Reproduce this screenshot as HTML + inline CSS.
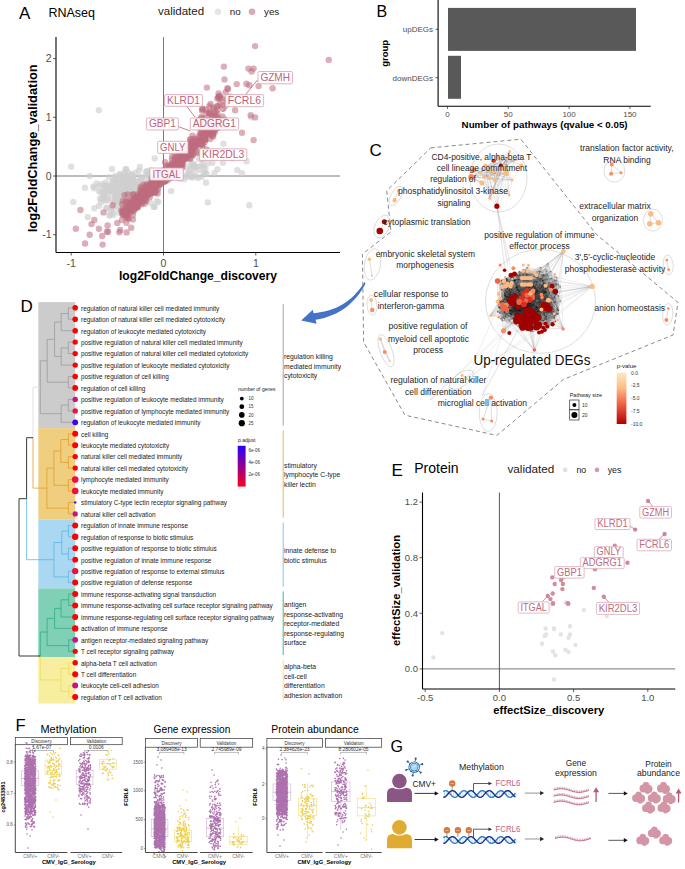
<!DOCTYPE html>
<html><head><meta charset="utf-8"><title>Figure</title>
<style>html,body{margin:0;padding:0;background:#fff;} svg{display:block;} text{font-family:"Liberation Sans", sans-serif;}</style>
</head><body>
<svg width="685" height="869" viewBox="0 0 685 869" font-family='"Liberation Sans", sans-serif'>
<rect width="685" height="869" fill="#fff"/>
<text x="19.0" y="19.0" font-size="17" fill="#000" text-anchor="start" >A</text>
<text x="48.5" y="17.4" font-size="13.5" fill="#000" text-anchor="start" textLength="46.5" lengthAdjust="spacingAndGlyphs" >RNAseq</text>
<text x="158.0" y="15.0" font-size="11.5" fill="#222" text-anchor="start" >validated</text>
<circle cx="218.0" cy="11.7" r="3.3" fill="#e6e6e6" />
<text x="229.7" y="15.3" font-size="9.8" fill="#222" text-anchor="start" >no</text>
<circle cx="252.0" cy="11.7" r="3.3" fill="#dcaab5" />
<text x="264.0" y="15.3" font-size="9.8" fill="#222" text-anchor="start" >yes</text>
<line x1="56.0" y1="176.0" x2="340.0" y2="176.0" stroke="#555" stroke-width="0.8" />
<line x1="163.5" y1="37.0" x2="163.5" y2="252.5" stroke="#555" stroke-width="0.8" />
<g fill="#cfcfcf" fill-opacity="0.65">
<circle cx="128.0" cy="176.1" r="3.2"/>
<circle cx="112.8" cy="182.1" r="3.2"/>
<circle cx="122.8" cy="192.4" r="3.2"/>
<circle cx="154.6" cy="181.1" r="3.2"/>
<circle cx="125.9" cy="181.8" r="3.2"/>
<circle cx="143.2" cy="185.5" r="3.2"/>
<circle cx="135.3" cy="196.7" r="3.2"/>
<circle cx="121.2" cy="194.5" r="3.2"/>
<circle cx="106.9" cy="208.3" r="3.2"/>
<circle cx="102.6" cy="196.6" r="3.2"/>
<circle cx="124.0" cy="192.7" r="3.2"/>
<circle cx="127.6" cy="202.0" r="3.2"/>
<circle cx="125.4" cy="186.8" r="3.2"/>
<circle cx="137.7" cy="194.9" r="3.2"/>
<circle cx="120.7" cy="210.3" r="3.2"/>
<circle cx="119.1" cy="212.5" r="3.2"/>
<circle cx="105.6" cy="182.6" r="3.2"/>
<circle cx="94.1" cy="188.2" r="3.2"/>
<circle cx="131.4" cy="191.0" r="3.2"/>
<circle cx="133.4" cy="182.1" r="3.2"/>
<circle cx="142.0" cy="187.8" r="3.2"/>
<circle cx="117.8" cy="196.9" r="3.2"/>
<circle cx="112.0" cy="192.6" r="3.2"/>
<circle cx="115.0" cy="180.8" r="3.2"/>
<circle cx="99.0" cy="206.0" r="3.2"/>
<circle cx="112.5" cy="212.9" r="3.2"/>
<circle cx="154.7" cy="206.7" r="3.2"/>
<circle cx="122.4" cy="195.1" r="3.2"/>
<circle cx="151.0" cy="203.3" r="3.2"/>
<circle cx="142.4" cy="192.7" r="3.2"/>
<circle cx="124.3" cy="196.1" r="3.2"/>
<circle cx="136.0" cy="198.2" r="3.2"/>
<circle cx="125.4" cy="185.6" r="3.2"/>
<circle cx="153.8" cy="206.9" r="3.2"/>
<circle cx="149.1" cy="174.4" r="3.2"/>
<circle cx="119.4" cy="187.5" r="3.2"/>
<circle cx="119.7" cy="174.0" r="3.2"/>
<circle cx="129.7" cy="190.4" r="3.2"/>
<circle cx="123.2" cy="191.7" r="3.2"/>
<circle cx="124.0" cy="198.3" r="3.2"/>
<circle cx="157.0" cy="201.2" r="3.2"/>
<circle cx="73.3" cy="202.0" r="3.2"/>
<circle cx="124.4" cy="185.7" r="3.2"/>
<circle cx="123.6" cy="191.1" r="3.2"/>
<circle cx="131.5" cy="178.2" r="3.2"/>
<circle cx="120.0" cy="194.1" r="3.2"/>
<circle cx="155.2" cy="177.2" r="3.2"/>
<circle cx="112.0" cy="169.0" r="3.2"/>
<circle cx="138.0" cy="192.2" r="3.2"/>
<circle cx="109.2" cy="189.8" r="3.2"/>
<circle cx="114.3" cy="202.2" r="3.2"/>
<circle cx="107.4" cy="198.2" r="3.2"/>
<circle cx="142.9" cy="189.6" r="3.2"/>
<circle cx="105.2" cy="187.0" r="3.2"/>
<circle cx="127.6" cy="180.3" r="3.2"/>
<circle cx="144.3" cy="186.6" r="3.2"/>
<circle cx="124.4" cy="189.8" r="3.2"/>
<circle cx="109.8" cy="186.0" r="3.2"/>
<circle cx="146.8" cy="182.7" r="3.2"/>
<circle cx="123.1" cy="192.3" r="3.2"/>
<circle cx="115.1" cy="199.5" r="3.2"/>
<circle cx="120.7" cy="198.6" r="3.2"/>
<circle cx="120.1" cy="206.1" r="3.2"/>
<circle cx="131.8" cy="187.3" r="3.2"/>
<circle cx="109.6" cy="215.6" r="3.2"/>
<circle cx="126.5" cy="177.9" r="3.2"/>
<circle cx="115.7" cy="196.1" r="3.2"/>
<circle cx="118.2" cy="184.3" r="3.2"/>
<circle cx="113.1" cy="182.1" r="3.2"/>
<circle cx="122.1" cy="180.7" r="3.2"/>
<circle cx="127.1" cy="191.1" r="3.2"/>
<circle cx="104.7" cy="200.6" r="3.2"/>
<circle cx="122.7" cy="183.2" r="3.2"/>
<circle cx="130.2" cy="195.1" r="3.2"/>
<circle cx="132.6" cy="177.7" r="3.2"/>
<circle cx="124.4" cy="193.8" r="3.2"/>
<circle cx="120.8" cy="182.1" r="3.2"/>
<circle cx="134.5" cy="196.4" r="3.2"/>
<circle cx="132.1" cy="192.5" r="3.2"/>
<circle cx="115.5" cy="179.0" r="3.2"/>
<circle cx="138.7" cy="193.4" r="3.2"/>
<circle cx="127.8" cy="183.6" r="3.2"/>
<circle cx="117.1" cy="192.2" r="3.2"/>
<circle cx="136.4" cy="204.6" r="3.2"/>
<circle cx="131.4" cy="180.5" r="3.2"/>
<circle cx="134.0" cy="200.6" r="3.2"/>
<circle cx="131.3" cy="196.5" r="3.2"/>
<circle cx="135.0" cy="181.0" r="3.2"/>
<circle cx="129.8" cy="195.8" r="3.2"/>
<circle cx="117.9" cy="182.3" r="3.2"/>
<circle cx="113.3" cy="186.9" r="3.2"/>
<circle cx="134.1" cy="190.0" r="3.2"/>
<circle cx="161.9" cy="180.3" r="3.2"/>
<circle cx="158.3" cy="202.0" r="3.2"/>
<circle cx="93.4" cy="186.5" r="3.2"/>
<circle cx="136.0" cy="189.9" r="3.2"/>
<circle cx="125.8" cy="208.1" r="3.2"/>
<circle cx="117.3" cy="201.3" r="3.2"/>
<circle cx="123.3" cy="180.8" r="3.2"/>
<circle cx="127.4" cy="185.0" r="3.2"/>
<circle cx="116.3" cy="195.5" r="3.2"/>
<circle cx="128.2" cy="191.4" r="3.2"/>
<circle cx="145.3" cy="193.5" r="3.2"/>
<circle cx="154.5" cy="192.5" r="3.2"/>
<circle cx="142.2" cy="193.1" r="3.2"/>
<circle cx="150.9" cy="182.1" r="3.2"/>
<circle cx="132.5" cy="180.2" r="3.2"/>
<circle cx="117.2" cy="201.4" r="3.2"/>
<circle cx="96.7" cy="183.4" r="3.2"/>
<circle cx="116.3" cy="197.1" r="3.2"/>
<circle cx="126.1" cy="169.2" r="3.2"/>
<circle cx="101.1" cy="192.1" r="3.2"/>
<circle cx="120.7" cy="184.9" r="3.2"/>
<circle cx="100.0" cy="198.8" r="3.2"/>
<circle cx="139.0" cy="170.6" r="3.2"/>
<circle cx="150.2" cy="192.2" r="3.2"/>
<circle cx="127.4" cy="189.8" r="3.2"/>
<circle cx="106.3" cy="207.8" r="3.2"/>
<circle cx="137.8" cy="184.0" r="3.2"/>
<circle cx="124.5" cy="177.3" r="3.2"/>
<circle cx="111.8" cy="187.0" r="3.2"/>
<circle cx="126.7" cy="189.5" r="3.2"/>
<circle cx="133.8" cy="185.5" r="3.2"/>
<circle cx="130.5" cy="185.4" r="3.2"/>
<circle cx="155.2" cy="185.6" r="3.2"/>
<circle cx="141.5" cy="179.5" r="3.2"/>
<circle cx="121.4" cy="182.1" r="3.2"/>
<circle cx="113.9" cy="180.2" r="3.2"/>
<circle cx="114.6" cy="196.5" r="3.2"/>
<circle cx="131.4" cy="179.5" r="3.2"/>
<circle cx="140.0" cy="177.0" r="3.2"/>
<circle cx="123.5" cy="199.1" r="3.2"/>
<circle cx="134.7" cy="184.1" r="3.2"/>
<circle cx="112.5" cy="182.3" r="3.2"/>
<circle cx="129.5" cy="197.8" r="3.2"/>
<circle cx="133.1" cy="200.7" r="3.2"/>
<circle cx="113.6" cy="187.8" r="3.2"/>
<circle cx="103.6" cy="193.7" r="3.2"/>
<circle cx="106.6" cy="186.0" r="3.2"/>
<circle cx="115.8" cy="189.5" r="3.2"/>
<circle cx="104.4" cy="197.3" r="3.2"/>
<circle cx="140.6" cy="181.2" r="3.2"/>
<circle cx="99.4" cy="185.7" r="3.2"/>
<circle cx="139.8" cy="189.7" r="3.2"/>
<circle cx="147.5" cy="194.8" r="3.2"/>
<circle cx="125.3" cy="178.1" r="3.2"/>
<circle cx="145.9" cy="171.8" r="3.2"/>
<circle cx="110.4" cy="210.3" r="3.2"/>
<circle cx="132.4" cy="201.9" r="3.2"/>
<circle cx="124.6" cy="202.1" r="3.2"/>
<circle cx="142.3" cy="177.4" r="3.2"/>
<circle cx="134.8" cy="186.9" r="3.2"/>
<circle cx="127.3" cy="191.7" r="3.2"/>
<circle cx="132.2" cy="185.2" r="3.2"/>
<circle cx="133.4" cy="191.7" r="3.2"/>
<circle cx="154.6" cy="179.9" r="3.2"/>
<circle cx="147.2" cy="171.1" r="3.2"/>
<circle cx="113.6" cy="208.6" r="3.2"/>
<circle cx="145.1" cy="188.6" r="3.2"/>
<circle cx="127.8" cy="191.2" r="3.2"/>
<circle cx="128.5" cy="200.4" r="3.2"/>
<circle cx="125.1" cy="193.9" r="3.2"/>
<circle cx="126.4" cy="212.3" r="3.2"/>
<circle cx="138.7" cy="182.9" r="3.2"/>
<circle cx="101.1" cy="201.9" r="3.2"/>
<circle cx="127.0" cy="182.5" r="3.2"/>
<circle cx="126.6" cy="175.1" r="3.2"/>
<circle cx="126.9" cy="198.8" r="3.2"/>
<circle cx="116.6" cy="183.7" r="3.2"/>
<circle cx="117.5" cy="182.5" r="3.2"/>
<circle cx="141.6" cy="179.7" r="3.2"/>
<circle cx="141.6" cy="187.3" r="3.2"/>
<circle cx="126.4" cy="194.9" r="3.2"/>
<circle cx="117.6" cy="206.5" r="3.2"/>
<circle cx="118.4" cy="201.4" r="3.2"/>
<circle cx="105.5" cy="192.1" r="3.2"/>
<circle cx="133.3" cy="190.8" r="3.2"/>
<circle cx="146.8" cy="175.0" r="3.2"/>
<circle cx="142.0" cy="191.5" r="3.2"/>
<circle cx="104.5" cy="188.3" r="3.2"/>
<circle cx="131.1" cy="180.7" r="3.2"/>
<circle cx="132.7" cy="175.0" r="3.2"/>
<circle cx="122.3" cy="183.2" r="3.2"/>
<circle cx="113.4" cy="214.9" r="3.2"/>
<circle cx="120.0" cy="175.4" r="3.2"/>
<circle cx="101.8" cy="184.3" r="3.2"/>
<circle cx="116.5" cy="195.1" r="3.2"/>
<circle cx="127.2" cy="186.7" r="3.2"/>
<circle cx="112.2" cy="190.9" r="3.2"/>
<circle cx="133.1" cy="179.1" r="3.2"/>
<circle cx="115.4" cy="175.9" r="3.2"/>
<circle cx="154.7" cy="158.5" r="3.2"/>
<circle cx="106.8" cy="191.6" r="3.2"/>
<circle cx="99.1" cy="191.3" r="3.2"/>
<circle cx="134.8" cy="198.6" r="3.2"/>
<circle cx="103.2" cy="192.3" r="3.2"/>
<circle cx="135.9" cy="194.8" r="3.2"/>
<circle cx="122.7" cy="215.0" r="3.2"/>
<circle cx="116.1" cy="189.8" r="3.2"/>
<circle cx="128.8" cy="172.6" r="3.2"/>
<circle cx="109.7" cy="215.1" r="3.2"/>
<circle cx="133.3" cy="193.3" r="3.2"/>
<circle cx="130.8" cy="180.8" r="3.2"/>
<circle cx="135.4" cy="172.6" r="3.2"/>
<circle cx="146.6" cy="201.1" r="3.2"/>
<circle cx="125.7" cy="169.2" r="3.2"/>
<circle cx="120.6" cy="180.6" r="3.2"/>
<circle cx="125.8" cy="193.3" r="3.2"/>
<circle cx="150.0" cy="173.3" r="3.2"/>
<circle cx="123.0" cy="180.7" r="3.2"/>
<circle cx="107.2" cy="200.5" r="3.2"/>
<circle cx="139.9" cy="185.6" r="3.2"/>
<circle cx="110.9" cy="187.9" r="3.2"/>
<circle cx="131.4" cy="175.0" r="3.2"/>
<circle cx="140.7" cy="188.5" r="3.2"/>
<circle cx="119.4" cy="191.9" r="3.2"/>
<circle cx="123.2" cy="175.1" r="3.2"/>
<circle cx="150.0" cy="170.2" r="3.2"/>
<circle cx="132.2" cy="190.1" r="3.2"/>
<circle cx="139.9" cy="189.4" r="3.2"/>
<circle cx="130.1" cy="204.8" r="3.2"/>
<circle cx="120.3" cy="175.9" r="3.2"/>
<circle cx="111.4" cy="207.2" r="3.2"/>
<circle cx="124.2" cy="172.8" r="3.2"/>
<circle cx="148.0" cy="187.7" r="3.2"/>
<circle cx="119.5" cy="191.6" r="3.2"/>
<circle cx="112.8" cy="191.6" r="3.2"/>
<circle cx="122.1" cy="204.6" r="3.2"/>
<circle cx="118.0" cy="193.4" r="3.2"/>
<circle cx="113.9" cy="202.9" r="3.2"/>
<circle cx="139.9" cy="167.0" r="3.2"/>
<circle cx="122.3" cy="194.1" r="3.2"/>
<circle cx="134.0" cy="189.6" r="3.2"/>
<circle cx="115.0" cy="177.6" r="3.2"/>
<circle cx="111.2" cy="199.6" r="3.2"/>
<circle cx="116.8" cy="199.9" r="3.2"/>
<circle cx="123.1" cy="184.0" r="3.2"/>
<circle cx="147.9" cy="177.6" r="3.2"/>
<circle cx="127.1" cy="201.3" r="3.2"/>
<circle cx="125.7" cy="198.5" r="3.2"/>
<circle cx="125.1" cy="179.5" r="3.2"/>
<circle cx="129.6" cy="190.3" r="3.2"/>
<circle cx="115.5" cy="191.6" r="3.2"/>
<circle cx="128.2" cy="197.8" r="3.2"/>
<circle cx="119.1" cy="181.8" r="3.2"/>
<circle cx="102.1" cy="198.8" r="3.2"/>
<circle cx="109.3" cy="177.3" r="3.2"/>
<circle cx="135.5" cy="181.8" r="3.2"/>
<circle cx="132.4" cy="184.8" r="3.2"/>
<circle cx="130.9" cy="203.8" r="3.2"/>
<circle cx="130.4" cy="182.1" r="3.2"/>
<circle cx="105.5" cy="185.4" r="3.2"/>
<circle cx="136.4" cy="201.9" r="3.2"/>
<circle cx="119.6" cy="193.5" r="3.2"/>
<circle cx="118.8" cy="186.7" r="3.2"/>
<circle cx="107.7" cy="195.3" r="3.2"/>
<circle cx="129.9" cy="180.9" r="3.2"/>
<circle cx="127.3" cy="191.2" r="3.2"/>
<circle cx="136.8" cy="206.5" r="3.2"/>
<circle cx="140.4" cy="188.9" r="3.2"/>
<circle cx="168.1" cy="176.6" r="3.2"/>
<circle cx="157.3" cy="191.0" r="3.2"/>
<circle cx="185.2" cy="176.0" r="3.2"/>
<circle cx="204.7" cy="173.1" r="3.2"/>
<circle cx="167.3" cy="180.8" r="3.2"/>
<circle cx="222.9" cy="162.7" r="3.2"/>
<circle cx="179.9" cy="178.7" r="3.2"/>
<circle cx="170.9" cy="174.1" r="3.2"/>
<circle cx="199.1" cy="158.7" r="3.2"/>
<circle cx="212.4" cy="162.8" r="3.2"/>
<circle cx="179.0" cy="177.8" r="3.2"/>
<circle cx="148.5" cy="184.9" r="3.2"/>
<circle cx="198.9" cy="170.1" r="3.2"/>
<circle cx="198.0" cy="177.9" r="3.2"/>
<circle cx="207.8" cy="163.5" r="3.2"/>
<circle cx="192.0" cy="165.8" r="3.2"/>
<circle cx="149.9" cy="181.1" r="3.2"/>
<circle cx="174.6" cy="158.3" r="3.2"/>
<circle cx="187.8" cy="173.5" r="3.2"/>
<circle cx="206.9" cy="174.0" r="3.2"/>
<circle cx="217.4" cy="169.3" r="3.2"/>
<circle cx="190.1" cy="176.2" r="3.2"/>
<circle cx="206.1" cy="182.7" r="3.2"/>
<circle cx="203.9" cy="172.8" r="3.2"/>
<circle cx="192.1" cy="177.6" r="3.2"/>
<circle cx="195.4" cy="166.7" r="3.2"/>
<circle cx="202.1" cy="164.5" r="3.2"/>
<circle cx="202.7" cy="159.2" r="3.2"/>
<circle cx="184.0" cy="179.3" r="3.2"/>
<circle cx="167.6" cy="168.3" r="3.2"/>
<circle cx="184.2" cy="162.3" r="3.2"/>
<circle cx="192.0" cy="176.5" r="3.2"/>
<circle cx="207.9" cy="150.9" r="3.2"/>
<circle cx="187.8" cy="176.8" r="3.2"/>
<circle cx="175.6" cy="165.1" r="3.2"/>
<circle cx="180.4" cy="174.1" r="3.2"/>
<circle cx="203.8" cy="166.5" r="3.2"/>
<circle cx="193.3" cy="172.7" r="3.2"/>
<circle cx="179.4" cy="170.0" r="3.2"/>
<circle cx="194.0" cy="163.9" r="3.2"/>
<circle cx="182.0" cy="168.1" r="3.2"/>
<circle cx="200.0" cy="166.6" r="3.2"/>
<circle cx="201.7" cy="159.2" r="3.2"/>
<circle cx="194.8" cy="167.7" r="3.2"/>
<circle cx="173.3" cy="169.9" r="3.2"/>
<circle cx="189.5" cy="171.7" r="3.2"/>
<circle cx="176.0" cy="167.5" r="3.2"/>
<circle cx="238.4" cy="156.6" r="3.2"/>
<circle cx="192.8" cy="165.3" r="3.2"/>
<circle cx="180.3" cy="170.3" r="3.2"/>
<circle cx="179.0" cy="176.2" r="3.2"/>
<circle cx="195.5" cy="166.4" r="3.2"/>
<circle cx="189.1" cy="175.4" r="3.2"/>
<circle cx="196.1" cy="176.3" r="3.2"/>
<circle cx="205.4" cy="168.9" r="3.2"/>
<circle cx="191.2" cy="163.0" r="3.2"/>
<circle cx="201.5" cy="176.9" r="3.2"/>
<circle cx="186.6" cy="167.0" r="3.2"/>
<circle cx="171.1" cy="191.1" r="3.2"/>
<circle cx="189.9" cy="169.6" r="3.2"/>
<circle cx="71.2" cy="166.6" r="3.2"/>
<circle cx="98.9" cy="110.3" r="3.2"/>
<circle cx="207.8" cy="202.4" r="3.2"/>
<circle cx="249.3" cy="205.3" r="3.2"/>
<circle cx="232.7" cy="158.4" r="3.2"/>
<circle cx="251.2" cy="117.3" r="3.2"/>
<circle cx="218.9" cy="152.5" r="3.2"/>
<circle cx="85.0" cy="187.7" r="3.2"/>
<circle cx="89.7" cy="176.0" r="3.2"/>
<circle cx="237.3" cy="170.1" r="3.2"/>
<circle cx="246.6" cy="161.3" r="3.2"/>
<circle cx="242.0" cy="173.1" r="3.2"/>
<circle cx="214.3" cy="173.1" r="3.2"/>
<circle cx="223.5" cy="143.7" r="3.2"/>
<circle cx="94.3" cy="208.3" r="3.2"/>
<circle cx="87.8" cy="217.1" r="3.2"/>
</g>
<g fill="#bd6c7e" fill-opacity="0.55">
<circle cx="127.2" cy="210.4" r="3.2"/>
<circle cx="129.7" cy="209.5" r="3.2"/>
<circle cx="160.9" cy="174.8" r="3.2"/>
<circle cx="144.7" cy="203.5" r="3.2"/>
<circle cx="162.5" cy="179.4" r="3.2"/>
<circle cx="148.7" cy="192.1" r="3.2"/>
<circle cx="136.6" cy="204.2" r="3.2"/>
<circle cx="137.5" cy="194.4" r="3.2"/>
<circle cx="161.8" cy="176.7" r="3.2"/>
<circle cx="154.2" cy="190.3" r="3.2"/>
<circle cx="157.9" cy="178.5" r="3.2"/>
<circle cx="134.0" cy="209.5" r="3.2"/>
<circle cx="136.9" cy="198.0" r="3.2"/>
<circle cx="147.0" cy="194.7" r="3.2"/>
<circle cx="145.5" cy="191.3" r="3.2"/>
<circle cx="121.3" cy="210.6" r="3.2"/>
<circle cx="151.9" cy="187.8" r="3.2"/>
<circle cx="153.3" cy="187.5" r="3.2"/>
<circle cx="152.5" cy="180.6" r="3.2"/>
<circle cx="151.2" cy="184.8" r="3.2"/>
<circle cx="122.3" cy="203.9" r="3.2"/>
<circle cx="127.6" cy="210.2" r="3.2"/>
<circle cx="126.7" cy="212.8" r="3.2"/>
<circle cx="128.7" cy="206.0" r="3.2"/>
<circle cx="148.8" cy="192.2" r="3.2"/>
<circle cx="162.0" cy="175.9" r="3.2"/>
<circle cx="141.3" cy="203.0" r="3.2"/>
<circle cx="153.0" cy="185.6" r="3.2"/>
<circle cx="135.7" cy="203.0" r="3.2"/>
<circle cx="135.6" cy="207.3" r="3.2"/>
<circle cx="133.1" cy="207.0" r="3.2"/>
<circle cx="143.2" cy="190.1" r="3.2"/>
<circle cx="145.3" cy="195.5" r="3.2"/>
<circle cx="155.7" cy="179.4" r="3.2"/>
<circle cx="145.4" cy="192.9" r="3.2"/>
<circle cx="147.9" cy="194.1" r="3.2"/>
<circle cx="141.1" cy="192.8" r="3.2"/>
<circle cx="126.0" cy="206.1" r="3.2"/>
<circle cx="123.5" cy="212.8" r="3.2"/>
<circle cx="138.6" cy="202.0" r="3.2"/>
<circle cx="127.8" cy="194.5" r="3.2"/>
<circle cx="136.4" cy="200.5" r="3.2"/>
<circle cx="136.0" cy="197.2" r="3.2"/>
<circle cx="157.6" cy="193.5" r="3.2"/>
<circle cx="150.8" cy="193.1" r="3.2"/>
<circle cx="145.9" cy="200.7" r="3.2"/>
<circle cx="156.2" cy="179.1" r="3.2"/>
<circle cx="145.9" cy="198.8" r="3.2"/>
<circle cx="137.3" cy="203.7" r="3.2"/>
<circle cx="128.0" cy="213.2" r="3.2"/>
<circle cx="143.9" cy="195.4" r="3.2"/>
<circle cx="152.5" cy="183.7" r="3.2"/>
<circle cx="137.6" cy="207.1" r="3.2"/>
<circle cx="137.3" cy="200.9" r="3.2"/>
<circle cx="141.6" cy="197.5" r="3.2"/>
<circle cx="151.4" cy="193.5" r="3.2"/>
<circle cx="163.6" cy="180.1" r="3.2"/>
<circle cx="129.7" cy="203.0" r="3.2"/>
<circle cx="142.3" cy="195.3" r="3.2"/>
<circle cx="156.4" cy="180.1" r="3.2"/>
<circle cx="159.1" cy="183.8" r="3.2"/>
<circle cx="134.0" cy="205.0" r="3.2"/>
<circle cx="126.6" cy="209.4" r="3.2"/>
<circle cx="132.7" cy="206.3" r="3.2"/>
<circle cx="146.8" cy="184.2" r="3.2"/>
<circle cx="155.1" cy="185.4" r="3.2"/>
<circle cx="134.5" cy="206.1" r="3.2"/>
<circle cx="140.6" cy="199.6" r="3.2"/>
<circle cx="127.5" cy="206.6" r="3.2"/>
<circle cx="153.3" cy="183.7" r="3.2"/>
<circle cx="123.1" cy="208.7" r="3.2"/>
<circle cx="154.3" cy="192.1" r="3.2"/>
<circle cx="137.0" cy="199.2" r="3.2"/>
<circle cx="149.7" cy="185.5" r="3.2"/>
<circle cx="145.3" cy="191.6" r="3.2"/>
<circle cx="122.0" cy="220.0" r="3.2"/>
<circle cx="155.3" cy="180.3" r="3.2"/>
<circle cx="161.3" cy="183.3" r="3.2"/>
<circle cx="138.8" cy="198.6" r="3.2"/>
<circle cx="128.4" cy="218.4" r="3.2"/>
<circle cx="143.4" cy="192.0" r="3.2"/>
<circle cx="142.9" cy="200.6" r="3.2"/>
<circle cx="162.3" cy="177.5" r="3.2"/>
<circle cx="140.2" cy="191.1" r="3.2"/>
<circle cx="159.3" cy="185.4" r="3.2"/>
<circle cx="123.0" cy="214.5" r="3.2"/>
<circle cx="142.4" cy="190.5" r="3.2"/>
<circle cx="162.3" cy="178.7" r="3.2"/>
<circle cx="133.3" cy="200.6" r="3.2"/>
<circle cx="160.0" cy="180.4" r="3.2"/>
<circle cx="160.6" cy="178.3" r="3.2"/>
<circle cx="155.2" cy="181.9" r="3.2"/>
<circle cx="162.8" cy="180.3" r="3.2"/>
<circle cx="139.3" cy="197.2" r="3.2"/>
<circle cx="135.2" cy="204.4" r="3.2"/>
<circle cx="133.8" cy="203.3" r="3.2"/>
<circle cx="144.4" cy="200.9" r="3.2"/>
<circle cx="148.7" cy="191.0" r="3.2"/>
<circle cx="136.4" cy="203.4" r="3.2"/>
<circle cx="132.8" cy="203.2" r="3.2"/>
<circle cx="147.2" cy="193.0" r="3.2"/>
<circle cx="164.4" cy="175.2" r="3.2"/>
<circle cx="135.3" cy="207.0" r="3.2"/>
<circle cx="149.8" cy="189.4" r="3.2"/>
<circle cx="154.2" cy="184.6" r="3.2"/>
<circle cx="156.4" cy="184.6" r="3.2"/>
<circle cx="158.6" cy="179.6" r="3.2"/>
<circle cx="122.9" cy="201.0" r="3.2"/>
<circle cx="136.3" cy="201.5" r="3.2"/>
<circle cx="126.1" cy="200.9" r="3.2"/>
<circle cx="129.8" cy="200.5" r="3.2"/>
<circle cx="164.4" cy="178.1" r="3.2"/>
<circle cx="141.0" cy="201.8" r="3.2"/>
<circle cx="151.1" cy="187.6" r="3.2"/>
<circle cx="137.8" cy="207.4" r="3.2"/>
<circle cx="143.1" cy="192.0" r="3.2"/>
<circle cx="136.7" cy="198.9" r="3.2"/>
<circle cx="127.3" cy="211.3" r="3.2"/>
<circle cx="159.7" cy="177.0" r="3.2"/>
<circle cx="157.5" cy="181.6" r="3.2"/>
<circle cx="139.2" cy="202.1" r="3.2"/>
<circle cx="141.1" cy="199.9" r="3.2"/>
<circle cx="128.4" cy="218.4" r="3.2"/>
<circle cx="161.0" cy="180.6" r="3.2"/>
<circle cx="156.4" cy="184.1" r="3.2"/>
<circle cx="143.6" cy="193.6" r="3.2"/>
<circle cx="134.5" cy="201.7" r="3.2"/>
<circle cx="134.6" cy="197.7" r="3.2"/>
<circle cx="166.6" cy="180.3" r="3.2"/>
<circle cx="154.7" cy="176.4" r="3.2"/>
<circle cx="137.1" cy="200.2" r="3.2"/>
<circle cx="150.4" cy="183.7" r="3.2"/>
<circle cx="138.2" cy="203.9" r="3.2"/>
<circle cx="137.7" cy="197.5" r="3.2"/>
<circle cx="159.3" cy="178.7" r="3.2"/>
<circle cx="150.6" cy="189.8" r="3.2"/>
<circle cx="157.0" cy="184.0" r="3.2"/>
<circle cx="151.6" cy="178.0" r="3.2"/>
<circle cx="139.3" cy="195.5" r="3.2"/>
<circle cx="153.5" cy="179.7" r="3.2"/>
<circle cx="150.2" cy="186.0" r="3.2"/>
<circle cx="141.8" cy="193.2" r="3.2"/>
<circle cx="151.8" cy="192.9" r="3.2"/>
<circle cx="130.7" cy="203.8" r="3.2"/>
<circle cx="148.7" cy="190.3" r="3.2"/>
<circle cx="136.7" cy="200.8" r="3.2"/>
<circle cx="147.9" cy="196.0" r="3.2"/>
<circle cx="155.0" cy="191.9" r="3.2"/>
<circle cx="155.6" cy="179.5" r="3.2"/>
<circle cx="131.1" cy="211.6" r="3.2"/>
<circle cx="144.4" cy="198.1" r="3.2"/>
<circle cx="133.5" cy="211.3" r="3.2"/>
<circle cx="130.3" cy="209.3" r="3.2"/>
<circle cx="125.8" cy="215.2" r="3.2"/>
<circle cx="132.7" cy="200.3" r="3.2"/>
<circle cx="138.5" cy="201.6" r="3.2"/>
<circle cx="147.1" cy="191.9" r="3.2"/>
<circle cx="153.3" cy="187.0" r="3.2"/>
<circle cx="154.2" cy="186.5" r="3.2"/>
<circle cx="122.4" cy="212.0" r="3.2"/>
<circle cx="159.7" cy="183.5" r="3.2"/>
<circle cx="135.9" cy="202.0" r="3.2"/>
<circle cx="131.5" cy="204.8" r="3.2"/>
<circle cx="155.0" cy="189.2" r="3.2"/>
<circle cx="143.6" cy="195.2" r="3.2"/>
<circle cx="128.5" cy="203.2" r="3.2"/>
<circle cx="143.6" cy="184.7" r="3.2"/>
<circle cx="148.1" cy="190.1" r="3.2"/>
<circle cx="137.1" cy="203.7" r="3.2"/>
<circle cx="143.1" cy="196.4" r="3.2"/>
<circle cx="158.1" cy="188.9" r="3.2"/>
<circle cx="152.9" cy="186.0" r="3.2"/>
<circle cx="140.5" cy="195.6" r="3.2"/>
<circle cx="158.7" cy="177.6" r="3.2"/>
<circle cx="164.4" cy="176.3" r="3.2"/>
<circle cx="140.2" cy="196.7" r="3.2"/>
<circle cx="123.6" cy="211.6" r="3.2"/>
<circle cx="157.4" cy="183.8" r="3.2"/>
<circle cx="138.7" cy="197.4" r="3.2"/>
<circle cx="133.9" cy="198.0" r="3.2"/>
<circle cx="139.0" cy="199.3" r="3.2"/>
<circle cx="139.7" cy="198.5" r="3.2"/>
<circle cx="152.0" cy="184.0" r="3.2"/>
<circle cx="149.7" cy="186.8" r="3.2"/>
<circle cx="136.3" cy="200.3" r="3.2"/>
<circle cx="147.7" cy="190.5" r="3.2"/>
<circle cx="156.4" cy="187.8" r="3.2"/>
<circle cx="146.0" cy="185.7" r="3.2"/>
<circle cx="151.5" cy="183.4" r="3.2"/>
<circle cx="157.2" cy="172.0" r="3.2"/>
<circle cx="144.8" cy="191.0" r="3.2"/>
<circle cx="137.2" cy="206.0" r="3.2"/>
<circle cx="123.8" cy="210.7" r="3.2"/>
<circle cx="137.8" cy="197.9" r="3.2"/>
<circle cx="138.2" cy="197.0" r="3.2"/>
<circle cx="156.2" cy="182.8" r="3.2"/>
<circle cx="151.5" cy="187.0" r="3.2"/>
<circle cx="160.9" cy="183.7" r="3.2"/>
<circle cx="164.3" cy="181.5" r="3.2"/>
<circle cx="139.6" cy="202.3" r="3.2"/>
<circle cx="150.8" cy="184.4" r="3.2"/>
<circle cx="146.2" cy="187.9" r="3.2"/>
<circle cx="145.1" cy="192.1" r="3.2"/>
<circle cx="143.9" cy="188.7" r="3.2"/>
<circle cx="129.9" cy="205.2" r="3.2"/>
<circle cx="139.1" cy="199.4" r="3.2"/>
<circle cx="125.1" cy="210.7" r="3.2"/>
<circle cx="144.4" cy="193.8" r="3.2"/>
<circle cx="149.7" cy="197.2" r="3.2"/>
<circle cx="143.5" cy="194.1" r="3.2"/>
<circle cx="132.8" cy="194.6" r="3.2"/>
<circle cx="132.0" cy="210.4" r="3.2"/>
<circle cx="140.6" cy="188.5" r="3.2"/>
<circle cx="129.0" cy="208.6" r="3.2"/>
<circle cx="133.6" cy="194.1" r="3.2"/>
<circle cx="154.1" cy="191.1" r="3.2"/>
<circle cx="127.2" cy="216.5" r="3.2"/>
<circle cx="126.5" cy="202.1" r="3.2"/>
<circle cx="137.2" cy="203.8" r="3.2"/>
<circle cx="149.6" cy="185.9" r="3.2"/>
<circle cx="141.8" cy="204.3" r="3.2"/>
<circle cx="142.8" cy="198.6" r="3.2"/>
<circle cx="155.0" cy="181.2" r="3.2"/>
<circle cx="146.3" cy="191.7" r="3.2"/>
<circle cx="130.0" cy="209.2" r="3.2"/>
<circle cx="147.0" cy="186.5" r="3.2"/>
<circle cx="156.5" cy="185.6" r="3.2"/>
<circle cx="122.4" cy="214.0" r="3.2"/>
<circle cx="160.0" cy="179.2" r="3.2"/>
<circle cx="161.6" cy="181.1" r="3.2"/>
<circle cx="154.6" cy="184.1" r="3.2"/>
<circle cx="148.8" cy="190.5" r="3.2"/>
<circle cx="126.1" cy="214.4" r="3.2"/>
<circle cx="131.0" cy="208.0" r="3.2"/>
<circle cx="152.2" cy="183.4" r="3.2"/>
<circle cx="160.8" cy="179.1" r="3.2"/>
<circle cx="153.4" cy="188.3" r="3.2"/>
<circle cx="151.5" cy="187.7" r="3.2"/>
<circle cx="141.1" cy="186.8" r="3.2"/>
<circle cx="129.4" cy="213.5" r="3.2"/>
<circle cx="151.6" cy="183.2" r="3.2"/>
<circle cx="137.5" cy="197.3" r="3.2"/>
<circle cx="154.0" cy="183.2" r="3.2"/>
<circle cx="142.3" cy="196.5" r="3.2"/>
<circle cx="143.1" cy="194.0" r="3.2"/>
<circle cx="136.3" cy="202.6" r="3.2"/>
<circle cx="138.7" cy="196.4" r="3.2"/>
<circle cx="135.0" cy="209.0" r="3.2"/>
<circle cx="149.5" cy="193.4" r="3.2"/>
<circle cx="140.5" cy="196.7" r="3.2"/>
<circle cx="153.6" cy="185.0" r="3.2"/>
<circle cx="156.7" cy="182.0" r="3.2"/>
<circle cx="148.4" cy="187.6" r="3.2"/>
<circle cx="124.5" cy="195.1" r="3.2"/>
<circle cx="126.4" cy="208.7" r="3.2"/>
<circle cx="136.5" cy="206.2" r="3.2"/>
<circle cx="124.9" cy="212.5" r="3.2"/>
<circle cx="155.4" cy="192.7" r="3.2"/>
<circle cx="125.6" cy="214.7" r="3.2"/>
<circle cx="141.9" cy="193.5" r="3.2"/>
<circle cx="167.7" cy="173.2" r="3.2"/>
<circle cx="225.1" cy="119.6" r="3.2"/>
<circle cx="175.3" cy="166.3" r="3.2"/>
<circle cx="190.7" cy="154.4" r="3.2"/>
<circle cx="200.0" cy="141.5" r="3.2"/>
<circle cx="189.5" cy="151.5" r="3.2"/>
<circle cx="163.0" cy="182.1" r="3.2"/>
<circle cx="182.9" cy="161.1" r="3.2"/>
<circle cx="178.4" cy="157.5" r="3.2"/>
<circle cx="162.8" cy="170.9" r="3.2"/>
<circle cx="172.7" cy="165.4" r="3.2"/>
<circle cx="177.5" cy="165.1" r="3.2"/>
<circle cx="215.9" cy="122.3" r="3.2"/>
<circle cx="180.9" cy="160.6" r="3.2"/>
<circle cx="192.0" cy="148.7" r="3.2"/>
<circle cx="172.3" cy="168.5" r="3.2"/>
<circle cx="188.3" cy="144.7" r="3.2"/>
<circle cx="190.8" cy="145.0" r="3.2"/>
<circle cx="164.2" cy="181.8" r="3.2"/>
<circle cx="180.2" cy="162.9" r="3.2"/>
<circle cx="173.0" cy="165.5" r="3.2"/>
<circle cx="192.1" cy="150.1" r="3.2"/>
<circle cx="167.6" cy="177.4" r="3.2"/>
<circle cx="178.4" cy="159.3" r="3.2"/>
<circle cx="168.6" cy="165.7" r="3.2"/>
<circle cx="203.3" cy="139.9" r="3.2"/>
<circle cx="214.7" cy="132.4" r="3.2"/>
<circle cx="222.4" cy="116.4" r="3.2"/>
<circle cx="216.6" cy="123.2" r="3.2"/>
<circle cx="215.7" cy="116.6" r="3.2"/>
<circle cx="212.9" cy="125.3" r="3.2"/>
<circle cx="174.0" cy="171.3" r="3.2"/>
<circle cx="171.9" cy="159.9" r="3.2"/>
<circle cx="181.3" cy="165.1" r="3.2"/>
<circle cx="172.2" cy="156.4" r="3.2"/>
<circle cx="181.0" cy="160.8" r="3.2"/>
<circle cx="175.2" cy="158.4" r="3.2"/>
<circle cx="175.3" cy="169.2" r="3.2"/>
<circle cx="177.9" cy="159.1" r="3.2"/>
<circle cx="189.4" cy="146.0" r="3.2"/>
<circle cx="180.3" cy="170.7" r="3.2"/>
<circle cx="204.7" cy="137.5" r="3.2"/>
<circle cx="174.8" cy="164.3" r="3.2"/>
<circle cx="223.6" cy="126.2" r="3.2"/>
<circle cx="194.1" cy="146.1" r="3.2"/>
<circle cx="167.1" cy="176.9" r="3.2"/>
<circle cx="178.1" cy="165.0" r="3.2"/>
<circle cx="213.9" cy="120.1" r="3.2"/>
<circle cx="169.6" cy="175.4" r="3.2"/>
<circle cx="177.4" cy="165.0" r="3.2"/>
<circle cx="177.0" cy="163.0" r="3.2"/>
<circle cx="165.9" cy="178.8" r="3.2"/>
<circle cx="169.7" cy="168.8" r="3.2"/>
<circle cx="175.2" cy="163.7" r="3.2"/>
<circle cx="178.1" cy="157.8" r="3.2"/>
<circle cx="201.5" cy="132.3" r="3.2"/>
<circle cx="188.6" cy="151.7" r="3.2"/>
<circle cx="207.7" cy="129.5" r="3.2"/>
<circle cx="190.9" cy="154.0" r="3.2"/>
<circle cx="180.1" cy="159.8" r="3.2"/>
<circle cx="187.9" cy="148.9" r="3.2"/>
<circle cx="181.2" cy="154.1" r="3.2"/>
<circle cx="172.5" cy="169.7" r="3.2"/>
<circle cx="213.9" cy="123.2" r="3.2"/>
<circle cx="177.9" cy="163.6" r="3.2"/>
<circle cx="213.1" cy="136.5" r="3.2"/>
<circle cx="221.9" cy="119.9" r="3.2"/>
<circle cx="167.5" cy="177.1" r="3.2"/>
<circle cx="206.5" cy="149.4" r="3.2"/>
<circle cx="201.8" cy="144.3" r="3.2"/>
<circle cx="167.2" cy="175.3" r="3.2"/>
<circle cx="167.6" cy="176.7" r="3.2"/>
<circle cx="200.3" cy="141.6" r="3.2"/>
<circle cx="205.0" cy="137.7" r="3.2"/>
<circle cx="217.4" cy="118.6" r="3.2"/>
<circle cx="200.2" cy="141.0" r="3.2"/>
<circle cx="202.5" cy="139.6" r="3.2"/>
<circle cx="192.5" cy="150.4" r="3.2"/>
<circle cx="197.4" cy="141.9" r="3.2"/>
<circle cx="181.1" cy="156.1" r="3.2"/>
<circle cx="168.1" cy="178.2" r="3.2"/>
<circle cx="210.8" cy="126.7" r="3.2"/>
<circle cx="172.5" cy="172.8" r="3.2"/>
<circle cx="177.7" cy="159.3" r="3.2"/>
<circle cx="175.5" cy="157.5" r="3.2"/>
<circle cx="205.4" cy="133.4" r="3.2"/>
<circle cx="215.3" cy="129.3" r="3.2"/>
<circle cx="185.7" cy="158.7" r="3.2"/>
<circle cx="174.7" cy="166.1" r="3.2"/>
<circle cx="190.1" cy="139.5" r="3.2"/>
<circle cx="193.7" cy="141.5" r="3.2"/>
<circle cx="192.2" cy="148.7" r="3.2"/>
<circle cx="184.6" cy="150.4" r="3.2"/>
<circle cx="171.9" cy="172.1" r="3.2"/>
<circle cx="213.4" cy="128.1" r="3.2"/>
<circle cx="184.6" cy="157.8" r="3.2"/>
<circle cx="177.4" cy="162.3" r="3.2"/>
<circle cx="194.8" cy="147.5" r="3.2"/>
<circle cx="174.7" cy="169.9" r="3.2"/>
<circle cx="191.4" cy="143.1" r="3.2"/>
<circle cx="208.1" cy="132.5" r="3.2"/>
<circle cx="184.0" cy="155.6" r="3.2"/>
<circle cx="205.7" cy="131.2" r="3.2"/>
<circle cx="193.3" cy="146.5" r="3.2"/>
<circle cx="208.7" cy="129.6" r="3.2"/>
<circle cx="163.1" cy="176.1" r="3.2"/>
<circle cx="190.4" cy="149.6" r="3.2"/>
<circle cx="165.3" cy="174.7" r="3.2"/>
<circle cx="208.9" cy="131.0" r="3.2"/>
<circle cx="200.8" cy="139.9" r="3.2"/>
<circle cx="205.4" cy="124.3" r="3.2"/>
<circle cx="168.5" cy="169.1" r="3.2"/>
<circle cx="212.9" cy="133.2" r="3.2"/>
<circle cx="165.4" cy="168.9" r="3.2"/>
<circle cx="170.0" cy="178.5" r="3.2"/>
<circle cx="214.8" cy="129.0" r="3.2"/>
<circle cx="218.8" cy="118.4" r="3.2"/>
<circle cx="170.2" cy="166.8" r="3.2"/>
<circle cx="166.8" cy="177.3" r="3.2"/>
<circle cx="212.7" cy="133.3" r="3.2"/>
<circle cx="212.4" cy="129.4" r="3.2"/>
<circle cx="177.1" cy="157.6" r="3.2"/>
<circle cx="212.1" cy="136.0" r="3.2"/>
<circle cx="198.5" cy="136.6" r="3.2"/>
<circle cx="205.0" cy="139.6" r="3.2"/>
<circle cx="178.5" cy="162.2" r="3.2"/>
<circle cx="216.8" cy="127.6" r="3.2"/>
<circle cx="188.8" cy="148.7" r="3.2"/>
<circle cx="192.5" cy="155.4" r="3.2"/>
<circle cx="197.6" cy="152.1" r="3.2"/>
<circle cx="172.5" cy="176.4" r="3.2"/>
<circle cx="220.3" cy="123.8" r="3.2"/>
<circle cx="171.0" cy="170.5" r="3.2"/>
<circle cx="199.9" cy="138.9" r="3.2"/>
<circle cx="178.1" cy="153.3" r="3.2"/>
<circle cx="195.9" cy="138.9" r="3.2"/>
<circle cx="182.5" cy="159.3" r="3.2"/>
<circle cx="181.9" cy="165.3" r="3.2"/>
<circle cx="204.3" cy="133.6" r="3.2"/>
<circle cx="204.6" cy="142.3" r="3.2"/>
<circle cx="171.8" cy="172.4" r="3.2"/>
<circle cx="178.5" cy="161.6" r="3.2"/>
<circle cx="197.6" cy="153.0" r="3.2"/>
<circle cx="161.6" cy="176.7" r="3.2"/>
<circle cx="193.3" cy="145.7" r="3.2"/>
<circle cx="165.4" cy="181.0" r="3.2"/>
<circle cx="192.1" cy="142.4" r="3.2"/>
<circle cx="166.1" cy="172.8" r="3.2"/>
<circle cx="217.1" cy="128.1" r="3.2"/>
<circle cx="201.8" cy="133.3" r="3.2"/>
<circle cx="172.9" cy="175.4" r="3.2"/>
<circle cx="209.1" cy="132.5" r="3.2"/>
<circle cx="160.8" cy="178.5" r="3.2"/>
<circle cx="160.3" cy="171.8" r="3.2"/>
<circle cx="194.0" cy="138.6" r="3.2"/>
<circle cx="182.3" cy="162.7" r="3.2"/>
<circle cx="167.2" cy="174.7" r="3.2"/>
<circle cx="174.7" cy="167.8" r="3.2"/>
<circle cx="193.4" cy="153.1" r="3.2"/>
<circle cx="179.9" cy="167.5" r="3.2"/>
<circle cx="191.5" cy="149.5" r="3.2"/>
<circle cx="190.4" cy="158.1" r="3.2"/>
<circle cx="164.2" cy="174.8" r="3.2"/>
<circle cx="207.3" cy="131.6" r="3.2"/>
<circle cx="208.8" cy="126.9" r="3.2"/>
<circle cx="189.9" cy="158.7" r="3.2"/>
<circle cx="172.8" cy="172.0" r="3.2"/>
<circle cx="177.0" cy="166.1" r="3.2"/>
<circle cx="190.4" cy="142.1" r="3.2"/>
<circle cx="170.5" cy="168.5" r="3.2"/>
<circle cx="182.2" cy="163.6" r="3.2"/>
<circle cx="169.9" cy="166.1" r="3.2"/>
<circle cx="176.5" cy="165.6" r="3.2"/>
<circle cx="208.1" cy="133.1" r="3.2"/>
<circle cx="181.5" cy="159.7" r="3.2"/>
<circle cx="197.5" cy="144.1" r="3.2"/>
<circle cx="210.1" cy="139.1" r="3.2"/>
<circle cx="204.4" cy="133.1" r="3.2"/>
<circle cx="197.9" cy="141.1" r="3.2"/>
<circle cx="165.9" cy="175.1" r="3.2"/>
<circle cx="191.4" cy="148.0" r="3.2"/>
<circle cx="192.7" cy="154.9" r="3.2"/>
<circle cx="178.4" cy="173.3" r="3.2"/>
<circle cx="178.8" cy="160.9" r="3.2"/>
<circle cx="214.1" cy="130.6" r="3.2"/>
<circle cx="196.2" cy="144.2" r="3.2"/>
<circle cx="183.6" cy="158.4" r="3.2"/>
<circle cx="223.0" cy="122.8" r="3.2"/>
<circle cx="175.8" cy="172.9" r="3.2"/>
<circle cx="213.4" cy="121.8" r="3.2"/>
<circle cx="177.2" cy="165.5" r="3.2"/>
<circle cx="212.0" cy="128.3" r="3.2"/>
<circle cx="216.3" cy="122.5" r="3.2"/>
<circle cx="177.0" cy="165.3" r="3.2"/>
<circle cx="205.3" cy="139.4" r="3.2"/>
<circle cx="212.8" cy="134.6" r="3.2"/>
<circle cx="181.6" cy="156.9" r="3.2"/>
<circle cx="192.5" cy="143.7" r="3.2"/>
<circle cx="175.0" cy="164.6" r="3.2"/>
<circle cx="197.4" cy="142.0" r="3.2"/>
<circle cx="201.0" cy="135.3" r="3.2"/>
<circle cx="212.9" cy="116.3" r="3.2"/>
<circle cx="198.6" cy="146.6" r="3.2"/>
<circle cx="203.5" cy="138.4" r="3.2"/>
<circle cx="186.8" cy="153.0" r="3.2"/>
<circle cx="202.4" cy="145.6" r="3.2"/>
<circle cx="210.8" cy="128.0" r="3.2"/>
<circle cx="196.4" cy="144.4" r="3.2"/>
<circle cx="173.1" cy="170.7" r="3.2"/>
<circle cx="198.8" cy="141.3" r="3.2"/>
<circle cx="177.4" cy="159.7" r="3.2"/>
<circle cx="191.0" cy="153.0" r="3.2"/>
<circle cx="197.9" cy="142.5" r="3.2"/>
<circle cx="218.9" cy="123.4" r="3.2"/>
<circle cx="194.9" cy="141.4" r="3.2"/>
<circle cx="167.6" cy="167.0" r="3.2"/>
<circle cx="202.6" cy="140.5" r="3.2"/>
<circle cx="165.1" cy="170.4" r="3.2"/>
<circle cx="200.1" cy="133.5" r="3.2"/>
<circle cx="192.4" cy="141.0" r="3.2"/>
<circle cx="164.5" cy="175.9" r="3.2"/>
<circle cx="161.5" cy="175.3" r="3.2"/>
<circle cx="190.8" cy="139.5" r="3.2"/>
<circle cx="206.4" cy="133.9" r="3.2"/>
<circle cx="216.9" cy="121.5" r="3.2"/>
<circle cx="170.2" cy="172.0" r="3.2"/>
<circle cx="179.9" cy="162.5" r="3.2"/>
<circle cx="202.5" cy="144.6" r="3.2"/>
<circle cx="194.6" cy="146.4" r="3.2"/>
<circle cx="194.8" cy="147.2" r="3.2"/>
<circle cx="187.9" cy="155.1" r="3.2"/>
<circle cx="202.4" cy="138.9" r="3.2"/>
<circle cx="175.6" cy="166.3" r="3.2"/>
<circle cx="207.5" cy="132.6" r="3.2"/>
<circle cx="201.7" cy="143.8" r="3.2"/>
<circle cx="182.4" cy="166.9" r="3.2"/>
<circle cx="167.4" cy="170.7" r="3.2"/>
<circle cx="205.4" cy="135.2" r="3.2"/>
<circle cx="169.1" cy="174.9" r="3.2"/>
<circle cx="174.9" cy="160.9" r="3.2"/>
<circle cx="185.7" cy="158.3" r="3.2"/>
<circle cx="188.3" cy="155.6" r="3.2"/>
<circle cx="171.8" cy="172.7" r="3.2"/>
<circle cx="214.6" cy="130.1" r="3.2"/>
<circle cx="183.3" cy="157.5" r="3.2"/>
<circle cx="184.1" cy="153.7" r="3.2"/>
<circle cx="174.1" cy="168.8" r="3.2"/>
<circle cx="189.3" cy="151.8" r="3.2"/>
<circle cx="187.1" cy="150.6" r="3.2"/>
<circle cx="211.5" cy="134.5" r="3.2"/>
<circle cx="176.0" cy="167.4" r="3.2"/>
<circle cx="166.7" cy="175.0" r="3.2"/>
<circle cx="198.7" cy="141.5" r="3.2"/>
<circle cx="165.1" cy="162.2" r="3.2"/>
<circle cx="206.8" cy="135.1" r="3.2"/>
<circle cx="210.4" cy="129.4" r="3.2"/>
<circle cx="207.4" cy="134.3" r="3.2"/>
<circle cx="187.7" cy="156.7" r="3.2"/>
<circle cx="177.7" cy="167.2" r="3.2"/>
<circle cx="224.0" cy="125.3" r="3.2"/>
<circle cx="202.7" cy="134.2" r="3.2"/>
<circle cx="189.6" cy="146.8" r="3.2"/>
<circle cx="179.2" cy="156.0" r="3.2"/>
<circle cx="186.6" cy="154.0" r="3.2"/>
<circle cx="187.9" cy="154.3" r="3.2"/>
<circle cx="166.7" cy="165.5" r="3.2"/>
<circle cx="177.6" cy="166.6" r="3.2"/>
<circle cx="215.0" cy="123.2" r="3.2"/>
<circle cx="170.4" cy="168.8" r="3.2"/>
<circle cx="178.7" cy="160.6" r="3.2"/>
<circle cx="175.0" cy="156.3" r="3.2"/>
<circle cx="161.6" cy="170.9" r="3.2"/>
<circle cx="192.4" cy="135.7" r="3.2"/>
<circle cx="167.8" cy="172.7" r="3.2"/>
<circle cx="186.2" cy="158.0" r="3.2"/>
<circle cx="176.5" cy="165.7" r="3.2"/>
<circle cx="163.3" cy="178.0" r="3.2"/>
<circle cx="192.4" cy="146.7" r="3.2"/>
<circle cx="208.6" cy="128.9" r="3.2"/>
<circle cx="195.7" cy="145.7" r="3.2"/>
<circle cx="171.5" cy="163.9" r="3.2"/>
<circle cx="174.4" cy="167.3" r="3.2"/>
<circle cx="213.1" cy="124.2" r="3.2"/>
<circle cx="167.5" cy="172.7" r="3.2"/>
<circle cx="210.2" cy="125.7" r="3.2"/>
<circle cx="222.6" cy="123.7" r="3.2"/>
<circle cx="172.3" cy="163.1" r="3.2"/>
<circle cx="173.7" cy="163.9" r="3.2"/>
<circle cx="173.9" cy="171.5" r="3.2"/>
<circle cx="181.4" cy="154.5" r="3.2"/>
<circle cx="205.1" cy="139.7" r="3.2"/>
<circle cx="182.4" cy="146.9" r="3.2"/>
<circle cx="204.1" cy="135.4" r="3.2"/>
<circle cx="182.2" cy="154.6" r="3.2"/>
<circle cx="165.1" cy="174.9" r="3.2"/>
<circle cx="202.5" cy="136.2" r="3.2"/>
<circle cx="207.9" cy="131.0" r="3.2"/>
<circle cx="178.7" cy="163.5" r="3.2"/>
<circle cx="218.3" cy="127.8" r="3.2"/>
<circle cx="169.7" cy="168.7" r="3.2"/>
<circle cx="210.3" cy="112.8" r="3.2"/>
<circle cx="213.9" cy="109.5" r="3.2"/>
<circle cx="211.9" cy="116.2" r="3.2"/>
<circle cx="211.0" cy="120.6" r="3.2"/>
<circle cx="217.5" cy="106.0" r="3.2"/>
<circle cx="218.5" cy="97.8" r="3.2"/>
<circle cx="200.2" cy="128.5" r="3.2"/>
<circle cx="204.3" cy="118.3" r="3.2"/>
<circle cx="206.4" cy="113.3" r="3.2"/>
<circle cx="204.6" cy="122.3" r="3.2"/>
<circle cx="207.5" cy="120.5" r="3.2"/>
<circle cx="209.6" cy="113.4" r="3.2"/>
<circle cx="208.7" cy="112.1" r="3.2"/>
<circle cx="217.4" cy="98.4" r="3.2"/>
<circle cx="201.4" cy="124.7" r="3.2"/>
<circle cx="229.3" cy="96.6" r="3.2"/>
<circle cx="228.0" cy="88.9" r="3.2"/>
<circle cx="209.4" cy="106.2" r="3.2"/>
<circle cx="202.1" cy="110.7" r="3.2"/>
<circle cx="223.3" cy="108.7" r="3.2"/>
<circle cx="218.6" cy="96.7" r="3.2"/>
<circle cx="219.8" cy="104.0" r="3.2"/>
<circle cx="219.1" cy="96.3" r="3.2"/>
<circle cx="208.1" cy="123.0" r="3.2"/>
<circle cx="205.1" cy="124.5" r="3.2"/>
<circle cx="209.7" cy="114.8" r="3.2"/>
<circle cx="225.6" cy="92.2" r="3.2"/>
<circle cx="215.4" cy="114.4" r="3.2"/>
<circle cx="220.4" cy="98.8" r="3.2"/>
<circle cx="202.6" cy="109.3" r="3.2"/>
<circle cx="226.9" cy="99.5" r="3.2"/>
<circle cx="204.6" cy="120.8" r="3.2"/>
<circle cx="217.4" cy="114.0" r="3.2"/>
<circle cx="201.6" cy="118.2" r="3.2"/>
<circle cx="226.0" cy="102.7" r="3.2"/>
<circle cx="221.8" cy="98.3" r="3.2"/>
<circle cx="217.6" cy="109.6" r="3.2"/>
<circle cx="213.2" cy="107.6" r="3.2"/>
<circle cx="199.6" cy="122.6" r="3.2"/>
<circle cx="202.3" cy="108.6" r="3.2"/>
<circle cx="201.3" cy="117.3" r="3.2"/>
<circle cx="215.2" cy="111.9" r="3.2"/>
<circle cx="217.0" cy="106.6" r="3.2"/>
<circle cx="222.7" cy="105.2" r="3.2"/>
<circle cx="198.6" cy="120.2" r="3.2"/>
<circle cx="120.2" cy="230.0" r="3.2"/>
<circle cx="106.9" cy="231.8" r="3.2"/>
<circle cx="119.3" cy="232.3" r="3.2"/>
<circle cx="107.6" cy="225.4" r="3.2"/>
<circle cx="102.6" cy="244.6" r="3.2"/>
<circle cx="125.7" cy="217.4" r="3.2"/>
<circle cx="102.2" cy="236.0" r="3.2"/>
<circle cx="132.9" cy="214.9" r="3.2"/>
<circle cx="126.5" cy="222.7" r="3.2"/>
<circle cx="132.9" cy="219.6" r="3.2"/>
<circle cx="255.1" cy="46.1" r="3.2"/>
<circle cx="328.7" cy="59.9" r="3.2"/>
<circle cx="223.9" cy="66.6" r="3.2"/>
<circle cx="248.4" cy="68.6" r="3.2"/>
<circle cx="253.6" cy="68.6" r="3.2"/>
<circle cx="251.6" cy="71.5" r="3.2"/>
<circle cx="224.5" cy="79.4" r="3.2"/>
<circle cx="206.9" cy="87.6" r="3.2"/>
<circle cx="227.4" cy="88.2" r="3.2"/>
<circle cx="236.7" cy="84.1" r="3.2"/>
<circle cx="246.4" cy="83.8" r="3.2"/>
<circle cx="249.3" cy="85.3" r="3.2"/>
<circle cx="258.6" cy="86.1" r="3.2"/>
<circle cx="272.6" cy="88.2" r="3.2"/>
<circle cx="218.6" cy="93.4" r="3.2"/>
<circle cx="220.0" cy="96.4" r="3.2"/>
<circle cx="250.7" cy="115.3" r="3.2"/>
<circle cx="255.1" cy="117.4" r="3.2"/>
<circle cx="242.0" cy="132.8" r="3.2"/>
<circle cx="253.6" cy="140.1" r="3.2"/>
<circle cx="210.6" cy="103.9" r="3.2"/>
<circle cx="205.9" cy="109.5" r="3.2"/>
<circle cx="235.1" cy="110.2" r="3.2"/>
<circle cx="232.0" cy="100.0" r="3.2"/>
<circle cx="228.0" cy="104.0" r="3.2"/>
<circle cx="80.4" cy="210.0" r="3.2"/>
<circle cx="85.0" cy="243.5" r="3.2"/>
<circle cx="94.3" cy="220.0" r="3.2"/>
<circle cx="108.1" cy="231.8" r="3.2"/>
<circle cx="98.9" cy="228.8" r="3.2"/>
<circle cx="103.5" cy="212.4" r="3.2"/>
<circle cx="112.7" cy="205.3" r="3.2"/>
<circle cx="117.3" cy="223.0" r="3.2"/>
<circle cx="91.5" cy="224.1" r="3.2"/>
<circle cx="126.6" cy="232.4" r="3.2"/>
<circle cx="131.2" cy="227.7" r="3.2"/>
<circle cx="75.8" cy="228.8" r="3.2"/>
<circle cx="89.7" cy="234.7" r="3.2"/>
</g>
<line x1="56.0" y1="37.0" x2="56.0" y2="252.5" stroke="#000" stroke-width="1.1" />
<line x1="56.0" y1="252.5" x2="340.0" y2="252.5" stroke="#000" stroke-width="1.1" />
<line x1="53.0" y1="58.6" x2="56.0" y2="58.6" stroke="#333" stroke-width="0.8" />
<text x="51.5" y="62.3" font-size="10.5" fill="#4d4d4d" text-anchor="end" >2</text>
<line x1="53.0" y1="117.3" x2="56.0" y2="117.3" stroke="#333" stroke-width="0.8" />
<text x="51.5" y="121.0" font-size="10.5" fill="#4d4d4d" text-anchor="end" >1</text>
<line x1="53.0" y1="176.0" x2="56.0" y2="176.0" stroke="#333" stroke-width="0.8" />
<text x="51.5" y="179.7" font-size="10.5" fill="#4d4d4d" text-anchor="end" >0</text>
<line x1="53.0" y1="234.7" x2="56.0" y2="234.7" stroke="#333" stroke-width="0.8" />
<text x="51.5" y="238.4" font-size="10.5" fill="#4d4d4d" text-anchor="end" >-1</text>
<line x1="71.2" y1="252.5" x2="71.2" y2="255.5" stroke="#333" stroke-width="0.8" />
<text x="71.2" y="267.0" font-size="10.5" fill="#4d4d4d" text-anchor="middle" >-1</text>
<line x1="163.5" y1="252.5" x2="163.5" y2="255.5" stroke="#333" stroke-width="0.8" />
<text x="163.5" y="267.0" font-size="10.5" fill="#4d4d4d" text-anchor="middle" >0</text>
<line x1="255.8" y1="252.5" x2="255.8" y2="255.5" stroke="#333" stroke-width="0.8" />
<text x="255.8" y="267.0" font-size="10.5" fill="#4d4d4d" text-anchor="middle" >1</text>
<text x="198.0" y="280.0" font-size="12" fill="#000" text-anchor="middle" font-weight="bold" textLength="158" lengthAdjust="spacingAndGlyphs" >log2FoldChange_discovery</text>
<text x="0.0" y="0.0" font-size="13" fill="#000" text-anchor="middle" font-weight="bold" textLength="168" lengthAdjust="spacingAndGlyphs" transform="translate(36.8,148.3) rotate(-90)">log2FoldChange_validation</text>
<line x1="257.5" y1="80.0" x2="245.6" y2="94.6" stroke="#c0607a" stroke-width="0.8" />
<rect x="258.0" y="71.5" width="34.5" height="12.3" rx="1.2" fill="#fff" fill-opacity="0.9" stroke="#d8a0ae" stroke-width="0.8"/>
<text x="275.2" y="81.2" font-size="10.5" fill="#c0607a" text-anchor="middle" textLength="29.5" lengthAdjust="spacingAndGlyphs" >GZMH</text>
<line x1="186.8" y1="106.3" x2="195.0" y2="117.2" stroke="#c0607a" stroke-width="0.8" />
<rect x="164.6" y="94.6" width="37.8" height="11.7" rx="1.2" fill="#fff" fill-opacity="0.9" stroke="#d8a0ae" stroke-width="0.8"/>
<text x="183.5" y="103.7" font-size="10.5" fill="#c0607a" text-anchor="middle" textLength="32.8" lengthAdjust="spacingAndGlyphs" >KLRD1</text>
<line x1="228.0" y1="106.7" x2="222.0" y2="112.0" stroke="#c0607a" stroke-width="0.8" />
<rect x="225.3" y="94.6" width="38.3" height="12.1" rx="1.2" fill="#fff" fill-opacity="0.9" stroke="#d8a0ae" stroke-width="0.8"/>
<text x="244.5" y="104.1" font-size="10.5" fill="#c0607a" text-anchor="middle" textLength="33.3" lengthAdjust="spacingAndGlyphs" >FCRL6</text>
<line x1="178.4" y1="126.6" x2="190.3" y2="131.0" stroke="#c0607a" stroke-width="0.8" />
<rect x="146.4" y="118.0" width="32.0" height="12.0" rx="1.2" fill="#fff" fill-opacity="0.9" stroke="#d8a0ae" stroke-width="0.8"/>
<text x="162.4" y="127.4" font-size="10.5" fill="#c0607a" text-anchor="middle" textLength="27.0" lengthAdjust="spacingAndGlyphs" >GBP1</text>
<rect x="190.3" y="118.0" width="48.3" height="12.0" rx="1.2" fill="#fff" fill-opacity="0.9" stroke="#d8a0ae" stroke-width="0.8"/>
<text x="214.4" y="127.4" font-size="10.5" fill="#c0607a" text-anchor="middle" textLength="43.3" lengthAdjust="spacingAndGlyphs" >ADGRG1</text>
<rect x="157.6" y="141.3" width="30.4" height="12.1" rx="1.2" fill="#fff" fill-opacity="0.9" stroke="#d8a0ae" stroke-width="0.8"/>
<text x="172.8" y="150.8" font-size="10.5" fill="#c0607a" text-anchor="middle" textLength="25.4" lengthAdjust="spacingAndGlyphs" >GNLY</text>
<rect x="199.6" y="148.8" width="47.2" height="11.6" rx="1.2" fill="#fff" fill-opacity="0.9" stroke="#d8a0ae" stroke-width="0.8"/>
<text x="223.2" y="157.8" font-size="10.5" fill="#c0607a" text-anchor="middle" textLength="42.2" lengthAdjust="spacingAndGlyphs" >KIR2DL3</text>
<rect x="149.9" y="168.0" width="33.4" height="12.3" rx="1.2" fill="#fff" fill-opacity="0.9" stroke="#d8a0ae" stroke-width="0.8"/>
<text x="166.6" y="177.7" font-size="10.5" fill="#c0607a" text-anchor="middle" textLength="28.4" lengthAdjust="spacingAndGlyphs" >ITGAL</text>
<text x="376.5" y="16.9" font-size="16" fill="#000" text-anchor="start" >B</text>
<rect x="448" y="7.9" width="188" height="43" fill="#595959"/>
<rect x="448" y="55.8" width="13" height="43" fill="#595959"/>
<line x1="438.1" y1="0.0" x2="438.1" y2="106.2" stroke="#000" stroke-width="1.1" />
<line x1="438.1" y1="106.2" x2="650.7" y2="106.2" stroke="#000" stroke-width="1.1" />
<text x="433.0" y="32.2" font-size="8" fill="#4d4d4d" text-anchor="end" >upDEGs</text>
<text x="433.0" y="80.6" font-size="8" fill="#4d4d4d" text-anchor="end" >downDEGs</text>
<line x1="435.5" y1="29.3" x2="438.1" y2="29.3" stroke="#333" stroke-width="0.8" />
<line x1="435.5" y1="77.7" x2="438.1" y2="77.7" stroke="#333" stroke-width="0.8" />
<line x1="447.5" y1="106.2" x2="447.5" y2="108.8" stroke="#333" stroke-width="0.8" />
<text x="447.5" y="117.2" font-size="8" fill="#4d4d4d" text-anchor="middle" >0</text>
<line x1="508.3" y1="106.2" x2="508.3" y2="108.8" stroke="#333" stroke-width="0.8" />
<text x="508.3" y="117.2" font-size="8" fill="#4d4d4d" text-anchor="middle" >50</text>
<line x1="569.1" y1="106.2" x2="569.1" y2="108.8" stroke="#333" stroke-width="0.8" />
<text x="569.1" y="117.2" font-size="8" fill="#4d4d4d" text-anchor="middle" >100</text>
<line x1="629.9" y1="106.2" x2="629.9" y2="108.8" stroke="#333" stroke-width="0.8" />
<text x="629.9" y="117.2" font-size="8" fill="#4d4d4d" text-anchor="middle" >150</text>
<text x="0.0" y="0.0" font-size="9.5" fill="#000" text-anchor="middle" font-weight="bold" transform="translate(388,53.4) rotate(-90)">group</text>
<text x="544.6" y="128.0" font-size="9.7" fill="#000" text-anchor="middle" font-weight="bold" textLength="166" lengthAdjust="spacingAndGlyphs" >Number of pathways (qvalue &lt; 0.05)</text>
<text x="369.5" y="155.6" font-size="17" fill="#000" text-anchor="start" >C</text>
<polygon points="430.7,147.9 520.8,139.2 597,235 678,302.4 673,335 563.5,379.4 496.9,435.4 405,415.2 363.6,342 362.4,254.1 391,231.8 386.7,190.8" fill="none" stroke="#8a8a8a" stroke-width="1" stroke-dasharray="4,3"/>
<ellipse cx="498.5" cy="178" rx="28.5" ry="34" transform="rotate(0 498.5 178)" fill="none" stroke="#d0d0d0" stroke-width="0.7"/>
<ellipse cx="540.5" cy="301.3" rx="55" ry="52" transform="rotate(0 540.5 301.3)" fill="none" stroke="#d0d0d0" stroke-width="0.7"/>
<ellipse cx="614.4" cy="171" rx="10.5" ry="11" transform="rotate(0 614.4 171)" fill="none" stroke="#d0d0d0" stroke-width="0.7"/>
<ellipse cx="653" cy="220.1" rx="9.5" ry="11" transform="rotate(0 653 220.1)" fill="none" stroke="#d0d0d0" stroke-width="0.7"/>
<ellipse cx="668.2" cy="265" rx="5" ry="10" transform="rotate(-5 668.2 265)" fill="none" stroke="#d0d0d0" stroke-width="0.7"/>
<ellipse cx="667.7" cy="314.4" rx="5" ry="11" transform="rotate(5 667.7 314.4)" fill="none" stroke="#d0d0d0" stroke-width="0.7"/>
<ellipse cx="382" cy="226.5" rx="7" ry="12" transform="rotate(25 382 226.5)" fill="none" stroke="#d0d0d0" stroke-width="0.7"/>
<ellipse cx="396" cy="195.8" rx="5" ry="11" transform="rotate(30 396 195.8)" fill="none" stroke="#d0d0d0" stroke-width="0.7"/>
<ellipse cx="372.5" cy="264.4" rx="8" ry="16" transform="rotate(10 372.5 264.4)" fill="none" stroke="#d0d0d0" stroke-width="0.7"/>
<ellipse cx="372" cy="305.2" rx="5" ry="10" transform="rotate(-5 372 305.2)" fill="none" stroke="#d0d0d0" stroke-width="0.7"/>
<ellipse cx="386" cy="350.7" rx="6" ry="17" transform="rotate(-20 386 350.7)" fill="none" stroke="#d0d0d0" stroke-width="0.7"/>
<ellipse cx="461.4" cy="379.7" rx="14" ry="6.5" transform="rotate(-35 461.4 379.7)" fill="none" stroke="#d0d0d0" stroke-width="0.7"/>
<ellipse cx="488.2" cy="412.5" rx="9" ry="19" transform="rotate(0 488.2 412.5)" fill="none" stroke="#d0d0d0" stroke-width="0.7"/>
<g stroke="#6e6e6e" stroke-opacity="0.25" stroke-width="0.4">
<line x1="479.4" y1="172.4" x2="498.1" y2="157.2"/>
<line x1="479.4" y1="172.4" x2="479.4" y2="172.4"/>
<line x1="473.6" y1="170.0" x2="516.1" y2="159.5"/>
<line x1="489.5" y1="178.2" x2="500.9" y2="165.4"/>
<line x1="473.6" y1="170.0" x2="484.1" y2="177.0"/>
<line x1="501.6" y1="167.7" x2="506.5" y2="158.4"/>
<line x1="500.9" y1="165.4" x2="485.3" y2="165.4"/>
<line x1="479.4" y1="172.4" x2="498.1" y2="172.4"/>
<line x1="493.9" y1="160.7" x2="506.3" y2="173.5"/>
<line x1="498.1" y1="157.2" x2="487.1" y2="170.5"/>
<line x1="501.6" y1="167.7" x2="481.8" y2="182.9"/>
<line x1="506.5" y1="158.4" x2="489.9" y2="198.1"/>
<line x1="479.4" y1="172.4" x2="501.6" y2="167.7"/>
<line x1="512.0" y1="180.0" x2="506.5" y2="158.4"/>
<line x1="501.6" y1="167.7" x2="500.9" y2="165.4"/>
<line x1="506.5" y1="158.4" x2="471.2" y2="177.0"/>
<line x1="473.6" y1="170.0" x2="506.3" y2="173.5"/>
<line x1="481.8" y1="182.9" x2="481.8" y2="182.9"/>
<line x1="489.5" y1="178.2" x2="494.6" y2="179.4"/>
<line x1="506.5" y1="158.4" x2="471.2" y2="177.0"/>
<line x1="479.4" y1="172.4" x2="509.8" y2="151.4"/>
<line x1="479.4" y1="172.4" x2="516.1" y2="159.5"/>
<line x1="489.5" y1="178.2" x2="473.6" y2="170.0"/>
<line x1="494.6" y1="179.4" x2="501.6" y2="167.7"/>
<line x1="498.1" y1="172.4" x2="484.1" y2="177.0"/>
<line x1="471.2" y1="177.0" x2="492.3" y2="191.0"/>
<line x1="506.3" y1="173.5" x2="479.4" y2="172.4"/>
<line x1="501.6" y1="167.7" x2="493.4" y2="171.2"/>
<line x1="509.3" y1="195.3" x2="498.1" y2="157.2"/>
<line x1="506.3" y1="173.5" x2="487.1" y2="170.5"/>
<line x1="493.4" y1="171.2" x2="509.8" y2="151.4"/>
<line x1="494.6" y1="179.4" x2="473.6" y2="170.0"/>
<line x1="498.1" y1="172.4" x2="471.2" y2="177.0"/>
<line x1="506.3" y1="173.5" x2="516.1" y2="159.5"/>
<line x1="485.3" y1="165.4" x2="489.9" y2="198.1"/>
<line x1="485.3" y1="165.4" x2="498.1" y2="172.4"/>
<line x1="489.9" y1="198.1" x2="506.3" y2="173.5"/>
<line x1="471.2" y1="177.0" x2="492.3" y2="191.0"/>
<line x1="471.2" y1="177.0" x2="489.5" y2="178.2"/>
<line x1="489.5" y1="178.2" x2="481.8" y2="182.9"/>
<line x1="484.1" y1="177.0" x2="489.9" y2="198.1"/>
<line x1="487.1" y1="170.5" x2="489.9" y2="198.1"/>
<line x1="509.3" y1="195.3" x2="506.3" y2="173.5"/>
<line x1="516.1" y1="159.5" x2="501.6" y2="167.7"/>
<line x1="489.5" y1="178.2" x2="492.3" y2="191.0"/>
<line x1="493.4" y1="171.2" x2="509.8" y2="151.4"/>
<line x1="506.3" y1="173.5" x2="498.1" y2="172.4"/>
<line x1="509.8" y1="151.4" x2="471.2" y2="177.0"/>
<line x1="509.3" y1="195.3" x2="485.3" y2="165.4"/>
<line x1="493.9" y1="160.7" x2="494.6" y2="179.4"/>
<line x1="487.1" y1="170.5" x2="485.3" y2="165.4"/>
<line x1="471.2" y1="177.0" x2="481.8" y2="182.9"/>
<line x1="479.4" y1="172.4" x2="484.1" y2="177.0"/>
<line x1="500.9" y1="165.4" x2="492.3" y2="191.0"/>
<line x1="498.1" y1="157.2" x2="489.5" y2="178.2"/>
<line x1="479.4" y1="172.4" x2="473.6" y2="170.0"/>
<line x1="489.5" y1="178.2" x2="512.0" y2="180.0"/>
<line x1="493.9" y1="160.7" x2="509.3" y2="195.3"/>
<line x1="501.6" y1="167.7" x2="489.9" y2="198.1"/>
<line x1="485.3" y1="165.4" x2="489.9" y2="198.1"/>
<line x1="509.3" y1="195.3" x2="489.5" y2="178.2"/>
<line x1="471.2" y1="177.0" x2="493.4" y2="171.2"/>
<line x1="516.1" y1="159.5" x2="498.1" y2="172.4"/>
<line x1="471.2" y1="177.0" x2="489.5" y2="178.2"/>
<line x1="500.9" y1="165.4" x2="489.9" y2="198.1"/>
<line x1="506.5" y1="158.4" x2="501.6" y2="167.7"/>
<line x1="516.1" y1="159.5" x2="485.3" y2="165.4"/>
<line x1="481.8" y1="182.9" x2="493.9" y2="160.7"/>
<line x1="489.5" y1="178.2" x2="479.4" y2="172.4"/>
<line x1="493.4" y1="171.2" x2="471.2" y2="177.0"/>
<line x1="506.5" y1="158.4" x2="509.8" y2="151.4"/>
<line x1="498.1" y1="172.4" x2="489.9" y2="198.1"/>
<line x1="506.3" y1="173.5" x2="506.3" y2="173.5"/>
<line x1="506.3" y1="173.5" x2="489.5" y2="178.2"/>
<line x1="516.1" y1="159.5" x2="501.6" y2="167.7"/>
<line x1="494.6" y1="179.4" x2="471.2" y2="177.0"/>
<line x1="506.5" y1="158.4" x2="521.5" y2="165.4"/>
<line x1="521.5" y1="165.4" x2="506.5" y2="158.4"/>
<line x1="479.4" y1="172.4" x2="493.9" y2="160.7"/>
<line x1="516.1" y1="159.5" x2="484.1" y2="177.0"/>
<line x1="516.1" y1="159.5" x2="493.9" y2="160.7"/>
<line x1="489.9" y1="198.1" x2="500.9" y2="165.4"/>
<line x1="501.6" y1="167.7" x2="493.9" y2="160.7"/>
<line x1="498.1" y1="172.4" x2="494.6" y2="179.4"/>
<line x1="506.5" y1="158.4" x2="494.6" y2="179.4"/>
<line x1="512.0" y1="180.0" x2="489.5" y2="178.2"/>
<line x1="500.9" y1="165.4" x2="512.0" y2="180.0"/>
<line x1="501.6" y1="167.7" x2="498.1" y2="157.2"/>
<line x1="489.5" y1="178.2" x2="492.3" y2="191.0"/>
<line x1="489.9" y1="198.1" x2="484.1" y2="177.0"/>
<line x1="506.5" y1="158.4" x2="506.3" y2="173.5"/>
<line x1="509.3" y1="195.3" x2="481.8" y2="182.9"/>
<line x1="485.3" y1="165.4" x2="485.3" y2="165.4"/>
<line x1="481.8" y1="182.9" x2="473.6" y2="170.0"/>
<line x1="493.4" y1="171.2" x2="494.6" y2="179.4"/>
<line x1="512.0" y1="180.0" x2="487.1" y2="170.5"/>
<line x1="489.9" y1="198.1" x2="493.4" y2="171.2"/>
<line x1="509.3" y1="195.3" x2="506.5" y2="158.4"/>
<line x1="484.1" y1="177.0" x2="498.1" y2="172.4"/>
<line x1="473.6" y1="170.0" x2="500.9" y2="165.4"/>
<line x1="512.0" y1="180.0" x2="506.3" y2="173.5"/>
<line x1="493.9" y1="160.7" x2="494.6" y2="179.4"/>
<line x1="484.1" y1="177.0" x2="498.1" y2="157.2"/>
<line x1="501.6" y1="167.7" x2="506.5" y2="158.4"/>
<line x1="506.5" y1="158.4" x2="506.3" y2="173.5"/>
<line x1="493.4" y1="171.2" x2="489.5" y2="178.2"/>
<line x1="489.5" y1="178.2" x2="512.0" y2="180.0"/>
<line x1="471.2" y1="177.0" x2="506.3" y2="173.5"/>
<line x1="493.4" y1="171.2" x2="509.3" y2="195.3"/>
<line x1="479.4" y1="172.4" x2="494.6" y2="179.4"/>
<line x1="481.8" y1="182.9" x2="481.8" y2="182.9"/>
<line x1="500.9" y1="165.4" x2="498.1" y2="172.4"/>
<line x1="521.5" y1="165.4" x2="473.6" y2="170.0"/>
<line x1="516.1" y1="159.5" x2="493.9" y2="160.7"/>
<line x1="506.3" y1="173.5" x2="521.5" y2="165.4"/>
<line x1="493.9" y1="160.7" x2="479.4" y2="172.4"/>
<line x1="509.8" y1="151.4" x2="492.3" y2="191.0"/>
<line x1="512.0" y1="180.0" x2="487.1" y2="170.5"/>
<line x1="473.6" y1="170.0" x2="516.1" y2="159.5"/>
<line x1="493.9" y1="160.7" x2="516.1" y2="159.5"/>
<line x1="481.8" y1="182.9" x2="471.2" y2="177.0"/>
<line x1="484.1" y1="177.0" x2="521.5" y2="165.4"/>
<line x1="487.1" y1="170.5" x2="498.1" y2="172.4"/>
<line x1="481.8" y1="182.9" x2="471.2" y2="177.0"/>
<line x1="506.5" y1="158.4" x2="501.6" y2="167.7"/>
<line x1="506.3" y1="173.5" x2="484.1" y2="177.0"/>
<line x1="506.3" y1="173.5" x2="512.0" y2="180.0"/>
<line x1="498.1" y1="172.4" x2="509.8" y2="151.4"/>
<line x1="493.9" y1="160.7" x2="506.3" y2="173.5"/>
<line x1="506.3" y1="173.5" x2="479.4" y2="172.4"/>
<line x1="498.1" y1="157.2" x2="521.5" y2="165.4"/>
<line x1="512.0" y1="180.0" x2="481.8" y2="182.9"/>
<line x1="512.0" y1="180.0" x2="512.0" y2="180.0"/>
<line x1="487.1" y1="170.5" x2="493.9" y2="160.7"/>
<line x1="509.8" y1="151.4" x2="521.5" y2="165.4"/>
<line x1="506.3" y1="173.5" x2="492.3" y2="191.0"/>
<line x1="484.1" y1="177.0" x2="506.3" y2="173.5"/>
<line x1="509.3" y1="195.3" x2="471.2" y2="177.0"/>
<line x1="484.1" y1="177.0" x2="516.1" y2="159.5"/>
<line x1="471.2" y1="177.0" x2="506.5" y2="158.4"/>
<line x1="492.3" y1="191.0" x2="489.9" y2="198.1"/>
<line x1="489.9" y1="198.1" x2="516.1" y2="159.5"/>
<line x1="471.2" y1="177.0" x2="506.5" y2="158.4"/>
<line x1="506.3" y1="173.5" x2="506.3" y2="173.5"/>
<line x1="506.3" y1="173.5" x2="501.6" y2="167.7"/>
<line x1="485.3" y1="165.4" x2="493.4" y2="171.2"/>
<line x1="509.3" y1="195.3" x2="512.0" y2="180.0"/>
<line x1="509.8" y1="151.4" x2="489.9" y2="198.1"/>
<line x1="512.0" y1="180.0" x2="487.1" y2="170.5"/>
<line x1="516.1" y1="159.5" x2="479.4" y2="172.4"/>
<line x1="479.4" y1="172.4" x2="479.4" y2="172.4"/>
<line x1="498.1" y1="157.2" x2="506.3" y2="173.5"/>
<line x1="473.6" y1="170.0" x2="473.6" y2="170.0"/>
<line x1="471.2" y1="177.0" x2="498.1" y2="172.4"/>
<line x1="506.5" y1="158.4" x2="506.3" y2="173.5"/>
<line x1="484.1" y1="177.0" x2="471.2" y2="177.0"/>
<line x1="494.6" y1="179.4" x2="487.1" y2="170.5"/>
<line x1="485.3" y1="165.4" x2="484.1" y2="177.0"/>
<line x1="506.5" y1="158.4" x2="492.3" y2="191.0"/>
<line x1="484.1" y1="177.0" x2="493.4" y2="171.2"/>
<line x1="471.2" y1="177.0" x2="496.9" y2="206.2"/>
<line x1="521.5" y1="165.4" x2="496.9" y2="206.2"/>
<line x1="498.1" y1="172.4" x2="496.9" y2="206.2"/>
<line x1="493.9" y1="160.7" x2="496.9" y2="206.2"/>
<line x1="492.3" y1="191.0" x2="496.9" y2="206.2"/>
<line x1="506.5" y1="158.4" x2="496.9" y2="206.2"/>
<line x1="489.5" y1="178.2" x2="496.9" y2="206.2"/>
<line x1="473.6" y1="170.0" x2="496.9" y2="206.2"/>
<line x1="500.9" y1="165.4" x2="496.9" y2="206.2"/>
<line x1="509.8" y1="151.4" x2="496.9" y2="206.2"/>
<line x1="496.9" y1="206.2" x2="507.9" y2="266.4"/>
<line x1="496.9" y1="206.2" x2="510.7" y2="265.3"/>
<line x1="496.9" y1="206.2" x2="508.0" y2="264.0"/>
<line x1="496.9" y1="206.2" x2="505.2" y2="270.1"/>
<line x1="496.9" y1="206.2" x2="511.0" y2="270.8"/>
<line x1="496.9" y1="206.2" x2="504.6" y2="267.8"/>
</g>
<path d="M530 330L525 320M530 307L546 299M541 278L523 307M541 278L538 291M524 306L512 301M546 288L531 322M501 280L543 286M527 331L543 286M529 329L529 329M546 292L544 290M547 317L530 283M514 280L530 292M530 330L525 308M529 306L507 288M546 292L523 301M514 280L533 305M553 308L559 311M528 330L529 306M531 322L529 306M530 307L544 283M519 312L537 273M511 315L530 307M523 307L512 274M544 275L540 271M533 305L553 308M527 274L561 287M530 292L538 312M504 313L533 332M502 321L504 313M523 314L527 300M544 283L541 302M534 301L557 277M557 294L527 313M520 309L513 304M505 296L523 279M505 290L524 307M541 267L517 275M506 278L546 292M501 289L527 277M555 318L523 307M538 319L546 299M520 309L552 313M549 328L549 313M549 313L525 302M527 274L501 280M548 275L512 274M506 278L519 315M506 300L517 287M555 280L546 288M525 291L537 273M539 319L519 308M531 322L528 311M527 309L538 308M514 311L500 319M516 287L529 329M539 319L542 285M523 314L507 296M512 301L518 310M499 313L511 315M534 324L533 287M531 285L504 299M529 306L558 314M523 329L504 307M532 315L519 308M549 303L547 320M531 285L544 274M505 290L536 323M531 332L524 301M524 301L558 310M537 327L534 301M500 284L524 301M525 319L548 326M518 310L530 292M497 312L512 275M529 306L548 287M530 330L516 287M537 273L525 308M552 313L519 308M530 304L554 312M507 288L507 300M507 288L525 319M517 287L525 302M537 327L530 330M561 301L555 318M501 280L513 304M511 311L530 330M547 298L555 315M525 319L529 329M517 275L555 280M547 298L543 280M530 307L509 311M517 289L540 296M532 315L501 305M544 275L558 310M530 307L516 314M558 314L529 306M509 291L538 308M507 296L544 308M507 300L531 322M556 315L531 304M499 313L529 306M523 279L538 319M498 307L507 288M536 323L511 315M536 323L552 278M508 284L515 309M524 307L532 315M509 297L546 299M508 284L519 315M556 322L534 324M524 307L527 300M538 291L501 289M516 314L550 308M538 316L547 320M561 287L520 309M523 301L543 286M527 309L523 314M525 319L552 313M557 294L555 280M540 296L547 298M525 291L531 332M506 278L527 277M516 314L507 279M502 321L505 290M527 300L515 309M524 307L546 292M517 279L544 308M521 322L506 278M528 311L549 328M537 273L543 286M519 308L520 272M523 325L509 321M548 326L556 291M519 271L524 317M544 275L561 301M538 291L559 314M520 309L529 329M497 312L499 313M513 319L548 326M526 307L528 312M526 271L507 288M550 308L549 283M526 315L525 319M527 313L524 318M523 306L502 283M556 322L514 311M525 302L551 271M559 296L518 310M505 282L523 279M501 303L497 312M504 295L510 294M500 284L499 301M501 305L507 296M544 308L524 318M531 322L533 305M556 315L534 324M515 309L506 278M544 283L523 301M555 297L534 327M524 301L500 302M509 311L504 295M523 269L556 302M561 287L533 287M530 330L532 315M513 319L533 287M546 292L523 307M533 287L516 287M530 307L548 287M527 274L558 310M537 317L544 283M546 299L511 311M548 287L557 284M546 292L529 306M529 306L533 285M559 311L533 285M505 317L544 321M540 271L544 283M504 307L525 302M550 308L517 275M509 301L519 315M541 278L557 284M544 290L555 315M546 299L506 300M531 285L550 306M524 301L508 284M531 322L505 290M503 302L516 317M509 321L540 296M527 331L555 318M504 313L507 296M507 288L521 322M523 279L527 267M526 271L519 271M510 314L546 292M502 321L533 332M527 274L546 292M537 290L499 313M525 302L552 278M545 283L504 307M556 291L519 308M504 293L523 279M543 286L544 290M526 315L542 285M530 283L534 301M526 315L549 283M510 314L543 286M527 309L538 319M533 332L529 331M549 313L523 307M517 287L499 308M523 301L520 272" stroke="#111" stroke-opacity="0.16" stroke-width="0.4" fill="none"/>
<path d="M540 296L529 331M528 311L506 278M550 306L517 287M542 285L531 322M527 331L509 297M527 274L550 308M523 269L524 306M499 308L537 281M538 319L557 284M529 306L531 322M509 282L524 306M523 329L509 297M528 311L524 307M498 302L529 306M549 313L543 286M506 300L530 292M533 305L516 314M549 313L546 292M550 308L527 313M526 307L533 332M561 301L550 308M557 277L556 294M523 301L527 274M501 303L507 279M523 307L557 280M541 328L559 311M556 315L554 312M501 305L524 306M519 271L504 299M504 319L512 301M500 302L505 296M531 322L529 287M547 317L511 315M545 283L519 271M516 287L516 287M519 308L555 280M521 322L523 301M504 319L539 319M533 287L511 315M509 311L519 308M507 296L541 328M533 285L521 322M546 269L559 314M523 329L531 322M512 275L533 305M534 324L531 322M520 272L511 315M537 273L549 313M561 287L548 287M544 283L537 317M522 328L547 320M507 300L519 312M544 321L549 303M531 322L510 314M533 287L511 311M524 307L523 301M517 289L530 304M527 309L527 331M530 330L528 312M538 308L502 281M524 307L549 303M537 273L561 301M555 318L524 307M501 305L527 313M501 305L505 296M529 321L504 307M558 314L530 283M557 277L555 297M553 308L546 292M546 292L506 300M530 283L505 290M544 308L527 274M528 311L524 301M529 287L531 285M547 298L526 271M524 317L501 289M542 285L512 301M559 296L517 275M545 283L539 319M515 309L516 287M514 311L546 299M517 287L509 282M518 310L526 271M530 330L525 291M509 291L512 274M519 315L533 332M540 271L546 269M541 328L550 306M522 328L525 319M523 329L503 302M556 315L524 301M525 319L517 279M532 315L557 294M523 329L537 327M538 312L529 306M530 292L528 330M526 279L545 283M537 327L499 313M521 322L550 306M555 315L523 325M547 298L499 301M507 296L499 301M545 283L549 283M520 272L505 317M529 287L527 313M527 309L529 329M546 292L555 318M529 306L528 330M524 317L525 302M499 308L536 323M553 308L534 286M537 317L511 315M524 317L501 280M538 319L522 328M505 317L504 313M558 314L545 283M546 292L533 305M506 278L517 279M525 320L507 288M545 283L551 271M509 282L550 306M547 317L539 319M511 315L523 279M527 267L541 278M537 317L529 306M513 319L534 286M543 280L538 312M505 290L544 290M525 302L540 271M547 317L533 332M540 271L534 286M517 275L557 284M526 315L538 319M527 300L515 309M507 279L519 308M526 271L528 280M532 315L504 313M528 311L504 295M528 312L523 301M535 290L557 284M546 292L528 312M541 278L536 323M502 321L504 295M529 306L534 286M548 275L552 278M512 301L533 305M525 308L516 317M524 318L546 292M504 319L527 331M527 300L509 301M509 321L506 278M512 275L529 306M525 320L531 285M524 301L548 275M558 310L555 280M497 312L509 301M550 306L527 267M544 290L531 322M519 308L523 325M538 312L531 332M538 291L502 281M534 301L555 280M527 277L559 296M549 313L527 313M512 275L551 271M537 273L546 299M537 273L513 304M507 296L530 330M502 281L501 280M527 300L546 292M533 305L532 315M529 306L511 311M556 291L546 299M525 308L500 319M501 303L516 287M546 299L556 322M520 272L510 314M514 280L517 287M559 296L554 312M530 307L509 321M557 280L517 279M525 319L530 330M503 302L525 308M538 308L527 300M538 312L534 286M544 308L547 298M556 302L550 306M543 280L526 271M531 304L536 323M523 279L553 308M558 310L529 306M530 330L513 319M524 301L537 327M511 315L520 272M554 312L524 307M506 278L525 302M555 280L544 274M546 269L561 287M554 312L552 278M548 287L559 296M530 330L504 299M549 303L556 291M525 291L498 302M504 293L504 295M529 306L556 322M534 286L523 307M516 314L559 314M518 310L543 286M552 313L544 290M540 271L507 279M500 284L503 302M509 297L529 306M509 311L524 307M550 308L516 287M530 304L523 329M559 314L537 327M548 326L523 306M510 314L527 300M498 307L539 319M538 312L559 296M505 282L530 283M544 274L530 292M507 288L552 278M521 322L537 281M534 327L506 300M541 267L524 307M561 287L557 284" stroke="#111" stroke-opacity="0.16" stroke-width="0.4" fill="none"/>
<path d="M533 332L548 326M553 308L547 298M558 310L512 301M517 279L510 294M535 290L531 322M510 294L514 280M527 300L510 314M541 278L559 311M552 278L517 289M499 308L506 278M498 307L512 301M507 279L519 308M557 294L557 280M555 297L527 313M523 307L499 313M504 293L517 287M530 304L543 286M507 279L505 317M503 302L531 285M537 290L519 308M559 296L540 296M524 318L546 299M529 287L556 294M520 309L529 306M525 319L508 284M513 304L527 277M523 279L504 295M537 273L509 297M528 280L509 291M517 289L536 323M537 281L514 280M547 298L526 279M531 322L517 289M528 312L537 327M528 280L530 292M523 329L533 332M517 275L529 306M527 300L517 275M557 284L524 301M498 307L533 305M504 313L524 301M519 312L524 317M533 285L551 271M507 296L511 315M532 315L531 304M537 317L524 306M519 315L507 288M507 288L544 283M538 312L543 286M523 301L498 302M507 300L509 301M541 278L516 314M514 311L525 320M546 299L557 280M513 319L529 329M556 302L516 317M543 280L559 311M509 297L556 291M513 319L536 323M549 328L554 312M556 302L525 319M538 291L518 310M534 286L548 275M524 317L523 279M518 310L499 308M524 306L509 291M501 280L504 319M527 300L555 297M532 315L512 274M532 315L528 280M544 283L544 290M555 280L543 286M561 301L546 292M549 313L537 290M524 317L501 280M543 280L521 322M506 278L524 317M503 302L525 291M500 302L533 305M531 285L559 284M519 308L512 301M517 289L549 313M555 297L559 314M524 307L524 306M559 296L538 291M510 314L534 286M531 322L509 301M504 299L528 311M552 278L505 282M523 307L527 277M518 310L544 321M530 304L509 297M536 323L556 315M533 305L530 283M549 303L527 300M557 294L513 304M526 315L504 313M519 271L556 294M546 288L541 302M504 319L529 306M529 306L530 283M525 302L547 320M541 328L534 324M515 309L555 297M534 301L529 331M510 314L547 298M517 287L507 296M517 289L543 286M546 292L519 271M517 287L528 312M519 312L518 310M521 322L541 278M535 290L537 327M533 285L499 308M547 298L559 311M529 321L544 290M536 323L503 302M519 312L529 321M502 281L502 321M518 310L556 322M521 322L526 315M518 310L526 271M507 300L541 267M533 285L524 306M515 309L525 308M529 306L524 301M540 296L509 282M524 317L555 297M537 273L544 308M525 291L525 320M547 320L555 315M520 272L512 275M529 329L523 307M544 321L557 277M510 314L541 302M508 284L517 289M504 299L523 307M542 285L515 309M536 323L559 311M556 302L527 267M552 313L531 304M559 311L541 278M552 313L534 327M538 319L505 317M527 274L516 317M498 307L497 312M524 307L534 327M534 327L526 307M518 310L497 312M513 319L526 315M555 297L524 317M523 307L552 313M556 294L519 271M528 312L517 287M546 288L520 272M498 302L509 291M509 282L537 273M555 318L554 312M509 311L536 323M544 274L509 297M538 316L517 287M550 306L544 275M509 301L501 280M502 281L509 301M512 275L540 271M561 301L529 306M538 308L528 280M504 293L534 324M530 304L541 267M544 275L517 287M557 277L544 290M555 280L514 280M509 297L505 290M558 314L534 324M528 330L517 287M530 292L545 283M526 315L522 328M513 319L529 329M517 289L509 297M538 291L546 288M517 287L502 281M522 328L504 299M538 319L552 313M525 302L501 303M512 274L500 284M506 278L537 290M525 308L509 301M540 296L540 296M553 308L509 291M546 292L527 309M551 271L540 271M547 317L549 283M524 307L527 267M549 313L559 296M523 269L528 312M506 278L504 307M527 277L555 315M534 286L556 302M526 271L501 305M531 332L554 312M523 325L530 283M527 331L505 296M557 280L547 298M557 277L527 267M505 282L517 279M516 317L524 317M511 315L544 308M516 317L519 308M535 290L497 312M542 285L538 312M531 285L533 305M519 271L527 309M555 297L537 327M559 311L531 285M524 318L555 297" stroke="#111" stroke-opacity="0.16" stroke-width="0.4" fill="none"/>
<path d="M547 317L531 304M557 277L559 284M523 306L533 287M538 312L544 274M537 290L557 284M527 313L534 324M515 309L556 315M505 290L538 312M557 284L527 313M545 283L525 308M525 319L524 301M559 311L547 298M526 307L544 283M499 313L504 293M530 292L509 301M510 314L507 300M502 281L540 296M546 288L529 287M528 280L540 296M527 267L538 312M527 313L546 292M533 305L555 280M546 269L559 314M511 315L501 303M533 287L533 285M503 302L529 331M502 321L510 294M511 315L559 314M544 274L509 282M526 279L531 304M504 319L531 304M543 280L544 321M504 319L528 330M527 267L534 286M561 301L544 274M527 309L537 327M504 293L504 295M524 317L504 299M531 322L533 287M552 313L509 297M516 317L532 315M546 299L536 323M525 319L526 315M521 322L525 302M527 313L559 314M511 311L553 308M530 304L504 295M526 315L544 274M547 317L548 287M509 291L550 308M544 275L504 293M556 302L513 319M507 300L523 329M498 307L528 330M510 314L530 283M550 308L509 301M519 312L538 291M514 311L547 317M549 303L558 310M546 288L533 287M540 271L523 279M504 307L530 292M523 325L555 318M559 311L541 278M549 313L544 283M530 283L512 301M511 311L525 291M500 284L504 319M559 284L541 302M504 295L527 274M559 284L523 279M530 304L561 301M527 331L555 297M546 288L549 313M556 291L534 327M529 306L509 282M526 307L547 317M531 304L546 292M541 278L507 296M530 304L529 287M503 302L537 317M504 293L514 280M503 302L512 274M500 319L519 308M527 313L546 299M509 291L511 315M533 305L499 301M539 319L530 292M514 280L524 306M529 331L528 312M533 305L527 277M525 308L509 297M501 289L538 316M497 312L538 316M529 306L530 330M512 301L531 304M519 271L556 302M524 306L544 275M501 280L530 307M517 275L506 300M533 305L537 317M524 317L501 280M528 311L537 281M516 287L510 314M500 319L507 296M523 307L534 324M541 267L523 279M557 277L533 285M516 287L544 275M538 308L509 291M543 286L550 308M509 297L546 292M523 329L561 301M500 284L546 292M531 322L523 301M509 311L522 328M527 274L525 320M529 306L558 314M554 312L544 321M515 309L556 291M523 314L556 322M556 291L523 269M543 286L538 319M541 328L526 315M513 304L504 295M523 279L552 313M528 312L500 319M549 328L516 317M506 278L507 288M523 301L501 305M513 304L529 287M498 307L507 279M529 306L537 290M504 313L516 287M505 296L546 288M507 300L507 279M519 312L509 301M538 312L555 280M538 316L533 285M556 322L546 292M523 269L544 275M527 300L531 332M507 279L511 311M501 280L504 307M537 327L530 292M498 302L530 307M523 306L558 310M533 305L529 331M544 283L554 312M527 309L512 275M536 323L501 305M539 319L548 275M501 305L509 321M524 301L517 287M541 302L526 307M561 287L530 304M526 271L511 315M546 299L518 310M528 312L533 332M516 314L538 319M534 301L528 311M552 313L530 304M526 315L527 331M556 291L529 321M504 299L525 320M541 278L504 307M504 319L498 302M538 308L531 304M499 301L504 313M558 314L525 308M511 315L531 285M545 283L510 314M530 330L544 290M542 285L504 293M509 301L555 297M558 314L517 289M553 308L514 311M530 304L497 312M546 292L509 301M555 315L528 280M544 275L530 307M524 306L549 303M509 301L537 290M530 283L525 308M504 313L538 312M512 275L524 306M524 317L530 307M535 290L556 322M524 318L555 318M532 315L514 280M540 296L528 280M542 285L509 301M528 330L529 306M529 321L516 317M558 310L549 313M544 283L538 291M541 328L530 307M556 315L519 315M542 285L556 322M506 278L505 290M523 325L538 291M547 320L549 326M516 317L501 303M527 313L527 309M504 299L524 307M524 301L561 287M510 314L524 306M538 316L533 285M527 309L509 301M544 275L507 300M517 287L557 277M556 322L550 308M519 308L526 315M506 278L521 322M541 302L510 294M498 307L498 307M549 283L551 271M546 288L502 283M522 328L518 310M556 291L524 301M540 271L506 300" stroke="#111" stroke-opacity="0.16" stroke-width="0.4" fill="none"/>
<path d="M525 319L512 301M517 287L521 322M548 275L533 305M541 267L506 278M527 331L533 332M519 315L546 288M554 312L556 294M504 299L525 319M512 301L525 302M518 310L513 319M524 306L557 280M548 326L537 317M538 312L500 302M559 314L537 327M523 279L556 294M505 296L517 279M506 278L527 274M532 315L509 301M529 331L513 304M559 311L533 285M502 281L523 279M501 305L547 317M546 288L534 301M510 314L500 302M531 285L542 285M513 304L556 291M538 291L531 322M523 269L547 298M526 271L537 317M509 311L546 292M507 288L535 290M538 312L544 283M538 312L547 298M523 325L504 313M504 299L538 308M526 307L525 320M500 319L529 306M516 317L504 295M504 293L510 314M544 308L512 301M551 271L557 280M541 278L534 324M532 315L525 291M499 301L501 303M505 317L549 328M525 320L504 299M557 277L555 297M524 307L523 301M509 301L555 297M533 285L561 301M505 317L534 301M508 284L517 289M529 287L530 283M544 274L502 283M547 298L546 288M507 288L529 306M546 292L529 306M528 311L548 275M546 269L542 285M509 282L510 294M555 318L537 327M531 322L499 308M523 306L522 328M546 299L533 305M527 277L500 302M518 310L554 312M519 315L498 302M504 293L501 303M529 306L555 318M509 291L517 289M543 286L501 303M508 284L524 301M549 328L556 294M509 282L540 271M527 313L538 308M517 275L556 291M543 286L510 314M531 322L498 302M536 323L509 311M524 307L524 307M509 297L519 271M529 287L523 279M519 315L533 332M527 277L508 284M549 283L538 319M538 291L531 285M546 292L538 319M504 319L509 311M504 295L545 283M533 287L513 319M556 322L534 301M531 322L519 312M504 319L534 301M529 287L515 309M533 285L546 292M548 287L507 279M517 279L544 283M530 292L510 294M517 289L547 298M523 306L514 280M499 301L538 312M527 331L519 315M504 295L511 315M544 321L546 292M534 327L530 330M507 288L526 271M534 324L549 328M507 279L538 308M523 307L507 300M526 271L547 298M531 285L551 271M528 330L534 327M505 290L503 302M530 307L517 275M530 304L509 297M529 306L524 306M500 302L526 315M541 267L544 283M530 292L504 293M527 300L559 284M525 319L557 284M505 317L512 275M512 301L498 302M541 302L509 311M547 317L533 305M523 329L507 300M541 328L521 322M547 298L509 301M555 297L554 312M558 310L530 292M544 283L531 285M523 329L538 291M538 316L504 295M537 327L550 306M533 332L556 294M514 280L531 285M536 323L500 302M559 311L538 308M502 283L505 282M501 280L520 272M555 280L541 302M519 312L519 315M504 313L523 269M529 306L505 296M507 300L515 309M503 302L504 299M509 297L527 313M546 288L548 287M549 313L503 302M500 302L502 321M509 301L533 285M509 297L537 281M545 283L526 271M519 271L509 297M549 326L524 318M556 322L548 287M519 271L561 287M549 326L534 286M531 322L523 329M548 287L510 294M538 291L523 329M520 272L503 302M530 304L501 303M510 314L517 289M525 302L527 313M531 285L520 272M504 293L538 291M531 322L517 287M502 281L512 301M550 308L537 273M538 319L533 332M527 277L546 292M547 320L504 313M538 319L505 317M548 326L519 312M538 316L549 303M507 296L508 284M536 323L544 290M538 291L523 269M531 285L548 275M546 292L556 291M523 301L518 310M504 307L523 314M541 267L526 279M538 312L527 267M499 313L544 308M525 302L519 308M538 291L523 307M512 301L497 312M529 306L499 308M530 283L548 275M497 312L516 317M509 301L514 280M523 307L530 292M553 308L545 283M504 295L538 316M523 307L502 281M506 300L538 308M534 286L502 321M537 327L513 304M533 285L498 302M551 271L537 281M555 297L524 317M506 300L504 299M528 330L504 295M507 300L523 306M527 277L558 314M523 314L517 279M544 283L538 312M500 302L538 291M524 317L509 282M548 275L527 267M502 283L533 285M509 301L504 313M511 315L523 329M515 309L512 301M552 278L507 288M510 294L502 321M530 283L555 318" stroke="#111" stroke-opacity="0.16" stroke-width="0.4" fill="none"/>
<path d="M544 275L512 274M519 315L517 275M533 285L549 328M545 283L540 271M556 302L533 305M509 321L519 315M517 275L500 284M511 311L545 283M555 315L559 314M546 292L501 289M525 308L548 326M549 326L545 283M555 318L518 310M539 319L537 290M519 271L523 307M544 274L557 277M530 307L544 274M512 301L497 312M534 286L517 279M509 291L556 291M523 306L509 311M515 309L525 308M527 313L538 312M518 310L547 298M525 291L511 315M524 307L523 269M533 287L514 311M529 306L551 271M524 307L543 280M519 315L525 320M537 273L507 279M529 329L510 314M537 281L538 308M561 287L527 274M505 296L514 280M524 318L519 308M537 290L504 295M541 302L497 312M537 290L559 311M524 307L507 288M549 328L537 327M509 301L546 288M531 285L504 295M504 319L516 287M544 290L537 327M520 309L524 317M533 305L543 280M516 314L501 303M503 302L525 308M549 283L526 315M534 327L527 300M542 285L517 275M538 312L549 303M559 296L561 287M509 311L534 286M514 280L548 275M545 283L528 312M500 302L538 316M513 304L516 287M510 314L504 319M500 319L530 330M529 331L511 315M527 267L517 289M551 271L531 285M523 307L514 311M511 311L519 315M525 319L556 291M505 282L505 282M499 308L523 307M525 291L546 269M528 330L513 304M538 308L501 289M516 287L525 308M544 283L534 324M544 274L529 306M533 332L534 301M557 277L512 275M537 281L505 290M525 320L509 301M521 322L528 330M541 278L557 284M549 283L557 280M524 306L509 297M502 321L499 308M509 311L523 301M538 319L555 318M529 306L526 315M519 312L550 308M523 306L529 331M537 281L519 315M507 300L504 313M559 314L515 309M537 290L523 269M555 297L558 314M527 277L549 313M546 292L544 308M525 308L540 296M547 298L531 285M535 290L517 289M557 294L512 301M511 311L534 327M514 311L534 286M513 319L525 308M547 317L539 319M529 331L534 324M537 281L531 322M555 297L525 308M524 301L527 313M517 275L511 311M501 289L504 319M540 296L556 315M543 280L553 308M545 283L555 315M540 271L527 274M552 278L533 305M557 284L528 280M540 296L526 315M505 296L546 292M520 309L543 286M543 280L527 274M525 308L555 315M537 281L552 278M527 313L540 271M527 300L501 303M527 267L513 304M534 324L531 304M527 274L501 280M534 301L558 314M511 315L555 318M510 314L544 283M538 308L514 280M530 292L557 294M523 279L501 280M497 312L531 322M517 279L526 271M548 326L520 309M511 311L523 325M531 304L541 278M555 280L554 312M509 301L524 317M514 280L523 279M538 308L524 317M525 319L546 292M547 317L516 317M524 301L547 317M509 282L506 278M538 291L509 291M497 312L503 302M508 284L501 280M528 312L523 301M528 312L520 272M526 279L504 307M538 316L503 302M547 317L549 283M509 301L538 316M504 307L525 319M530 307L527 277M524 318L543 286M561 287L527 300M507 296L507 300M504 293L534 327M523 306L537 327M548 326L540 296M509 321L530 292M524 306L507 279M533 287L516 314M549 283L539 319M545 283L512 301M499 308L529 306M533 305L527 300M509 297L527 331M561 287L561 287M516 314L541 278M528 330L558 310M555 297L517 279M513 319L528 280M533 285L526 315M529 306L507 288M523 307L548 287M542 285L522 328M501 303L502 283M514 280L537 273M505 290L546 292M524 318L501 305M506 300L531 332M498 307L500 284M534 301L525 291M549 313L538 291M525 302L526 307M499 301L512 275M523 314L501 289M501 305L515 309M556 315L546 292M514 280L525 291M509 311L529 331M507 279L529 306M504 319L544 321M551 271L541 278M529 306L509 321M525 302L504 299M556 302L523 307M527 277L530 304M524 306L509 282M552 278L547 298M536 323L531 332M504 295L525 320M523 307L510 314M530 307L555 318M523 307L501 280M544 308L505 317M514 280L538 312M525 308L537 317M512 301L529 287M524 307L525 291M505 282L509 301M524 317L513 319M546 299L510 294M517 287L502 321M529 306L537 281M510 294L511 315M529 287L547 320M546 292L530 283M499 301L509 291M504 299L549 303M524 301L549 303" stroke="#111" stroke-opacity="0.16" stroke-width="0.4" fill="none"/>
<path d="M526 279L513 304M549 326L547 298M514 311L524 318M556 315L529 331M527 331L538 291M504 313L544 321M537 281L509 311M526 279L513 319M541 267L529 306M525 319L549 326M549 303L558 310M541 278L539 319M528 312L498 307M532 315L503 302M540 271L559 311M534 327L528 280M529 306L512 301M523 307L544 275M517 287L505 296M527 331L509 311M544 290L538 312M559 296L559 311M514 280L537 317M540 296L529 329M535 290L517 289M505 296L524 307M500 319L537 317M538 291L517 287M522 328L509 301M530 292L533 285M514 280L504 299M525 320L546 299M517 275L525 320M525 291L507 279M507 296L541 278M536 323L507 300M527 331L541 328M511 311L541 328M544 275L519 308M538 291L556 302M544 308L536 323M529 306L505 290M524 317L509 282M547 320L504 319M532 315L523 269M527 274L523 279M546 288L546 299M509 291L505 317M546 269L549 303M530 283L514 280M523 301L538 308M527 300L526 271M514 311L534 286M513 304L547 317M509 301L533 332M544 308L498 302M515 309L519 315M501 289L504 319M530 304L540 271M547 317L548 326M524 306L523 269M535 290L528 312M528 330L538 316M531 322L508 284M549 328L525 320M546 269L544 283M529 306L523 306M556 302L515 309M536 323L499 313M525 291L530 330M504 299L508 284M559 284L525 302M546 288L532 315M555 318L542 285M549 328L523 325M533 285L549 283M527 331L504 313M529 306L527 331M525 308L512 301M520 309L541 328M509 297L501 289M540 271L527 274M541 302L545 283M529 306L523 325M533 305L529 306M559 314L540 296M530 292L557 294M509 282L509 301M526 279L527 313M527 274L504 313M536 323L544 283M529 329L533 285M533 332L526 307M555 318L531 285M505 317L544 308M520 272L549 303M544 290L506 300M525 308L504 293M526 271L520 272M532 315L556 322M529 287L501 280M548 275L537 281M514 311L517 287M531 285L549 326M512 274L527 309M540 296L529 321M519 315L505 296M543 286L538 308M555 297L546 288M532 315L514 311M531 285L507 300M498 307L538 316M517 289L521 322M541 302L530 307M559 311L555 297M531 285L504 319M523 329L509 321M525 291L524 307M510 294L510 314M512 274L503 302M533 305L531 332M532 315L549 326M498 307L529 321M539 319L523 279M538 312L558 314M559 296L550 308M512 275L527 309M529 287L546 299M499 301L530 304M515 309L505 282M546 288L525 302M527 331L537 290M499 301L502 281M555 280L523 269M552 313L545 283M537 290L543 286M523 325L544 308M534 301L520 272M534 286L508 284M527 277L526 271M561 301L544 308M559 296L527 267M549 303L549 283M513 304L506 278M540 271L548 275M544 290L541 278M541 267L509 297M525 302L537 273M548 275L540 296M499 313L529 287M509 321L525 302M546 292L561 287M524 318L526 279M499 313L527 331M549 328L528 312M509 301L502 281M544 308L554 312M549 328L549 283M521 322L527 313M555 318L533 332M544 321L527 313M544 321L557 277M506 278L526 315M547 298L506 278M546 292L516 314M502 283L544 275M546 288L529 321M537 281L531 322M534 286L540 296M529 287L531 322M544 283L552 313M553 308L558 314M527 300L525 291M527 277L509 301M524 307L561 301M548 275L559 296M520 309L530 304M513 319L534 324M538 316L534 286M505 317L530 283M507 279L525 291M527 274L542 285M526 307L510 294M528 311L537 290M531 285L531 332M527 300L524 318M549 328L515 309M510 314L501 280M507 300L519 315M546 299L527 331M526 279L538 291M556 294L556 294M518 310L538 316M517 289L555 315M552 278L545 283M543 286L548 326M561 301L516 287M522 328L538 316M539 319L549 283M531 332L528 330M544 274L531 304M517 287L499 301M546 288L531 322M511 311L523 325M524 307L529 287M505 317L531 285M541 278L509 291M504 319L499 301M544 308L527 277M505 317L533 287M509 321L515 309M499 301L502 321M528 311L517 275M527 309L517 275M551 271L517 275M537 290L537 273M519 308L509 291M555 318L523 307M559 311L529 331M532 315L500 302M518 310L529 329M537 281L541 302M549 313L511 311M549 326L533 285M524 306L557 284M511 315L520 272M501 280L501 289M513 304L547 298M538 316L521 322M543 280L540 296" stroke="#111" stroke-opacity="0.16" stroke-width="0.4" fill="none"/>
<path d="M519 315L499 313M549 313L523 279M502 281L529 306M528 311L531 322M555 315L541 302M541 302L504 299M514 311L525 308M498 302L526 307M523 314L538 291M517 279L519 315M517 279L524 301M547 317L530 304M549 328L525 308M537 290L514 311M523 307L537 281M528 312L526 307M529 287L558 314M548 275L559 311M548 275L546 269M541 267L543 280M510 294L504 293M510 314L530 304M503 302L533 305M501 303L530 304M523 306L535 290M555 318L512 301M538 291L527 277M547 320L516 287M509 301L512 274M509 301L552 313M556 315L537 281M505 317L518 310M504 307L502 283M507 288L502 283M511 311L539 319M557 277L561 301M546 299L499 301M541 278L528 280M525 291L527 313M509 291L549 313M544 274L527 300M519 315L518 310M524 306L528 280M519 312L510 314M505 296L510 294M519 312L538 291M547 298L547 320M547 298L546 292M553 308L526 307M526 279L528 312M504 313L525 302M547 320L533 305M523 301L536 323M509 301L501 303M544 321L518 310M548 275L548 287M527 309L516 314M528 311L559 311M546 292L541 302M500 319L509 301M544 283L523 325M502 281L526 279M499 308L530 283M512 275L544 283M553 308L522 328M508 284L534 324M535 290L499 313M533 305L544 283M519 308L497 312M505 296L526 279M529 329L519 308M498 307L538 308M531 322L507 300M531 304L516 287M537 290L527 313M523 314L513 304M502 281L517 287M507 300L534 286M556 322L529 306M556 302L529 306M530 283L525 320M544 321L535 290M530 330L549 326M544 321L550 306M544 290L527 274M502 321L541 302M549 313L537 317M501 303L549 303M510 314L502 283M549 313L545 283M537 290L534 301M541 278L533 287M498 302L508 284M529 329L549 303M499 301L499 301M525 320L543 280M509 291L504 307M530 330L504 295M525 319L499 301M529 331L526 315M523 329L514 311M530 304L523 279M541 278L550 308M514 311L555 297M509 311L527 267M509 311L533 285M538 291L500 319M528 280L537 290M546 292L526 307M541 328L538 308M512 274L527 309M510 294L519 271M559 314L530 307M546 269L517 279M522 328L544 290M538 312L549 303M544 275L509 297M509 311L510 294M537 281L521 322M525 291L553 308M529 287L531 304M555 318L546 292M545 283L531 322M530 307L516 314M526 279L535 290M559 284L557 284M504 307L534 301M549 326L549 326M549 313L556 315M509 311L537 327M548 287L546 299M524 317L505 290M519 315L556 294M550 308L543 280M524 318L559 314M548 326L529 329M515 309L538 316M544 275L523 269M548 326L529 329M523 279L540 296M507 288L507 279M549 326L556 294M523 301L523 301M519 312L544 290M547 317L514 311M561 301L522 328M511 315L503 302M510 314L507 288M530 330L501 305M523 279L556 302M540 271L561 287M546 292L504 313M547 320L548 326M525 302L540 271M512 275L548 275M522 328L536 323M527 309L556 315M544 321L543 286M555 315L544 274M531 332L522 328M504 295L505 282M556 291L544 283M498 307L524 301M509 301L509 297M514 311L534 327M524 307L527 331M544 290L524 307M502 281L523 279M538 316L555 280M523 306L501 289M534 286L517 279M539 319L541 302M524 301L556 322M550 306L533 287M546 292L546 269M538 312L517 275M509 301L533 305M509 321L531 332M507 288L537 281M529 329L510 294M505 290L498 307M512 301L531 304M514 311L510 314M541 278L506 300M523 306L500 302M548 326L529 321M537 281L543 280M509 311L548 326M557 284L530 283M514 311L557 294M557 277L516 287M541 267L549 283M547 317L523 307M527 267L516 287M509 291L519 315M561 287L557 280M546 292L537 317M525 302L500 319M505 296L538 319M546 288L543 286M504 299L526 271M524 301L519 312M549 303L541 267M529 287L519 312M549 326L549 303M498 302L527 309M536 323L556 322M539 319L527 331M519 315L513 304M509 321L502 321M529 329L531 285M556 291L524 318" stroke="#111" stroke-opacity="0.16" stroke-width="0.4" fill="none"/>
<path d="M559 284L547 320M504 313L534 327M500 302L531 285M520 272L530 307M521 322L544 308M506 278L511 315M519 308L534 327M548 326L516 317M538 308L505 296M554 312L538 312M509 311L546 292M519 308L526 307M507 279L504 307M524 318L501 305M544 275L544 321M505 282L521 322M549 303L550 308M523 314L538 308M558 314L528 280M549 326L555 280M546 292L507 300M502 283L526 271M512 275L523 301M509 301L525 291M508 284L550 306M507 300L527 313M523 279L527 274M552 278L528 311M504 307L524 318M556 315L528 312M545 283L559 311M516 287L499 308M531 322L523 279M517 289L529 306M525 291L497 312M543 286L557 277M525 291L498 302M507 296L547 317M541 302L505 296M538 312L506 278M548 326L517 289M524 317L499 308M529 321L523 301M544 290L507 279M507 288L527 309M523 329L529 287M518 310L550 306M514 280L528 311M529 287L546 299M529 321L547 320M557 277L538 319M548 275L523 307M549 313L526 307M497 312L515 309M538 316L498 307M544 275L504 293M559 296L542 285M517 289L523 269M546 288L537 317M520 272L519 271M541 302L507 279M528 330L538 319M530 330L499 308M542 285L540 296M533 285L512 275M504 307L537 281M529 321L528 330M506 300L543 286M517 289L519 271M542 285L544 290M538 312L549 328M516 317L512 274M531 322L529 331M529 321L505 282M549 303L528 311M506 278L504 319M516 287L516 287M537 273L519 312M526 315L520 309M501 289L528 311M539 319L558 314M510 294L501 305M508 284L526 271M547 320L558 310M525 320L502 321M544 321L556 291M528 330L509 321M517 289L535 290M541 302L523 269M544 283L559 296M523 279L556 302M537 281L538 319M549 283L548 287M550 306L536 323M507 296L516 317M501 305L528 312M520 309L527 274M533 287L523 314M537 290L518 310M499 301L513 319M541 267L509 282M523 301L536 323M538 316L507 296M561 301L548 326M531 304L528 311M534 286L509 282M523 329L526 307M527 274L510 314M519 312L505 317M524 301L556 291M547 320L544 274M532 315L528 330M519 308L543 280M504 313L517 289M538 319L526 279M500 284L510 294M555 318L548 287M525 302L517 279M509 301L541 328M549 303L540 271M527 309L499 313M510 294L526 315M538 316L544 283M546 292L528 280M508 284L528 311M540 271L539 319M505 296L527 300M539 319L556 302M528 311L542 285M534 301L512 275M512 301L519 315M523 325L541 302M521 322L524 307M549 326L504 319M539 319L555 318M509 297L544 290M506 278L520 272M532 315L552 278M547 298L554 312M547 320L528 280M524 301L532 315M534 324L507 288M517 275L524 306M527 274L528 312M556 322L530 292M507 300L504 319M538 291L514 280M503 302L513 319M528 311L531 322M540 296L541 328M509 311L530 307M500 284L499 308M528 280L524 301M499 308L524 307M527 267L499 301M534 301L527 313M501 289L523 314M516 287L559 284M504 307L540 296M526 279L555 318M544 321L504 295M541 278L541 278M539 319L529 321M514 311L517 287M524 317L538 312M534 301L527 331M533 287L526 271M525 319L504 307M531 304L501 289M512 274L524 306M520 309L552 313M535 290L557 280M546 292L524 306M559 311L551 271M544 275L556 294M524 306L540 271M550 308L548 326M504 307L502 283M505 296L502 321M524 317L519 315M533 287L556 294M501 305L538 308M549 303L557 280M559 284L538 319M538 308L507 300M551 271L525 291M502 321L538 312M538 319L504 295M511 311L537 317M559 311L526 315M541 267L530 283M516 287L525 319M510 294L550 306M548 287L536 323M501 280L506 278M525 308L504 293M561 301L525 320M546 269L516 287M540 296L507 288M546 292L534 324M524 317L556 315M526 279L501 289M548 287L559 296M511 315L502 283M511 311L539 319M556 315L559 296M509 297L516 317M503 302L514 280M529 306L544 321M538 308L547 317M499 301L523 306M549 326L524 307M533 285L531 304M540 271L532 315M546 292L504 307M518 310L526 307M556 302L551 271M543 280L549 303M532 315L557 294M538 319L512 301M539 319L525 319M528 311L545 283M523 325L498 307M529 287L523 325M510 294L511 311M534 286L533 305M538 319L529 321M527 267L538 291M527 309L505 282M557 294L529 329M510 294L507 300" stroke="#111" stroke-opacity="0.16" stroke-width="0.4" fill="none"/>
<path d="M525 319L528 330M543 280L523 279M556 302L538 319M537 273L509 301M551 271L523 301M541 267L530 307M525 319L524 306M541 278L555 280M544 308L517 275M526 307L548 326M542 285L516 287M558 314L534 301M539 319L519 308M548 275L512 275M513 319L504 295M544 283L524 317M546 288L523 301M517 289L500 302M530 307L530 292M507 296L525 302M529 287L507 288M498 307L528 330M549 313L523 279M498 302L524 301M511 315L531 322M544 308L546 269M501 289L529 287M504 299L499 301M513 304L556 302M512 275L527 274M510 294L543 280M500 302L517 287M519 315L501 303M521 322L527 274M523 301L500 319M523 269L545 283M534 324L529 306M527 277L498 307M499 308L498 302M529 306L509 297M544 321L523 301M528 280L534 286M517 275L509 311M530 307L504 299M540 296L509 282M549 303L544 275M507 279L525 308M543 280L547 320M526 307L501 280M550 308L527 274M556 294L527 300M505 317L517 275M529 306L535 290M557 284L561 287M504 319L534 301M549 303L533 287M550 308L518 310M530 283L549 303M535 290L546 292M502 283L504 319M504 293L507 300M512 275L501 305M510 314L499 308M557 294L546 288M523 329L544 321M554 312L533 285M531 304L529 321M527 274L543 280M519 308L530 307M504 293L499 301M537 281L507 300M527 309L537 290M559 284L556 322M530 283L548 287M523 307L550 306M517 279L537 290M550 306L556 322M512 301L538 308M497 312L538 312M533 332L529 287M528 280L500 284M538 312L531 285M498 307L501 303M529 306L549 326M504 293L521 322M525 308L547 320M504 313L523 314M537 281L556 315M548 287L525 291M534 327L525 291M505 290L531 322M534 327L517 289M538 308L540 296M535 290L559 311M538 291L546 292M509 291L513 304M525 302L515 309M546 292L546 269M559 311L541 278M501 289L519 312M505 290L507 300M558 310L531 304M501 280L530 307M506 278L523 314M525 308L550 308M546 292L524 317M526 315L525 302M528 280L523 314M557 294L559 311M556 322L510 314M502 283L519 312M538 316L553 308M534 324L556 322M534 324L508 284M504 295L527 313M547 320L535 290M528 280L507 288M537 273L540 296M512 301L514 311M555 315L559 314M529 306L512 275M514 280L521 322M504 293L529 331M509 297L537 327M507 288L505 296M529 306L533 285M504 293L526 315M556 302L555 280M519 308L555 280M509 301L507 296M523 279L529 287M500 319L514 311M559 284L541 267M556 294L524 318M525 320L531 285M540 296L521 322M516 314L501 305M499 301L533 285M525 291L505 317M544 290L533 287M538 291L509 301M524 301L504 293M544 321L515 309M512 301L523 307M517 279L514 311M499 313L536 323M528 311L527 309M525 319L534 286M512 301L504 295M509 297L526 307M544 308L516 287M541 302L519 271M505 290L527 267M517 289L544 308M541 278L517 275M524 317L500 302M512 301L540 296M517 287L526 307M509 321L526 279M546 292L530 283M525 320L537 290M527 300L506 300M557 294L549 303M524 307L529 287M527 274L541 278M548 287L524 301M523 301L530 330M499 301L535 290M499 313L538 291M544 321L515 309M535 290L550 306M523 329L525 291M550 308L556 294M556 315L536 323M534 324L523 301M514 280L556 294M524 306L530 330M547 317L519 308M529 329L504 295M530 307L504 319M528 312L528 280M529 321L531 322M500 284L519 312M529 329L538 319M532 315L541 328M512 301L537 290M519 315L504 307M524 317L558 310M519 308L504 295M519 271L523 301M509 291L501 289M538 319L529 306M537 273L528 311M526 307L512 301M507 279L540 296M511 311L524 301M505 290L534 327M531 304L509 301M531 322L530 304M504 313L529 331M498 307L516 317M557 294L524 301M531 285L504 299M525 302L509 291M498 307L530 330M502 321L524 317M556 315L546 292M510 314L507 296M549 326L527 331M542 285L532 315M540 296L528 312M534 327L549 283M501 280L534 301M526 279L512 274M541 302L524 301M546 299L524 307M533 285L511 311M548 326L541 302M524 301L513 319M512 275L523 306M518 310L540 271M506 300L527 300M502 283L513 304M504 299L507 279M506 300L523 307M500 319L529 329M544 321L546 292M530 330L530 292M525 291L546 292M533 305L554 312M529 321L524 301" stroke="#111" stroke-opacity="0.16" stroke-width="0.4" fill="none"/>
<path d="M521 322L592.2 286.4M523 325L592.2 286.4M508 284L592.2 286.4M555 318L592.2 286.4M523 314L592.2 286.4M548 275L592.2 286.4M504 299L592.2 286.4M498 302L592.2 286.4M556 315L592.2 286.4M509 301L592.2 286.4M527 309L592.2 286.4M540 296L592.2 286.4M527 277L592.2 286.4M519 308L592.2 286.4M535 290L592.2 286.4M517 275L592.2 286.4M543 286L563.3 251.4M504 307L563.3 251.4M553 308L563.3 251.4M517 287L563.3 251.4M544 308L563.3 251.4M504 307L563.3 251.4M528 280L563.3 251.4M517 289L563.3 251.4M524 318L563.3 251.4M524 301L563.3 251.4M556 302L563.3 251.4M558 314L563.3 251.4M505 296L563.3 251.4M514 311L563.3 251.4M523 329L563.3 251.4M534 301L563.3 251.4M504 293L490.2 315.6M509 301L490.2 315.6M498 307L490.2 315.6M507 288L490.2 315.6M547 320L490.2 315.6M500 302L490.2 315.6M531 304L490.2 315.6M556 315L490.2 315.6M500 302L490.2 315.6M553 308L490.2 315.6M541 267L490.2 315.6M504 307L490.2 315.6M517 289L490.2 315.6M527 267L490.2 315.6M513 304L490.2 315.6M555 318L490.2 315.6M537 281L563.2 328.7M512 274L563.2 328.7M529 329L563.2 328.7M523 329L563.2 328.7M513 304L563.2 328.7M528 280L563.2 328.7M529 306L563.2 328.7M520 309L563.2 328.7M544 283L563.2 328.7M546 299L563.2 328.7M517 279L563.2 328.7M549 283L563.2 328.7M561 287L563.2 328.7M549 283L563.2 328.7M545 283L563.2 328.7M519 315L563.2 328.7M517 279L534.4 350M499 301L534.4 350M524 317L534.4 350M505 317L534.4 350M509 321L534.4 350M556 315L534.4 350M527 300L534.4 350M497 312L534.4 350M553 308L534.4 350M556 294L534.4 350M519 271L534.4 350M533 332L534.4 350M524 301L534.4 350M549 283L534.4 350M533 285L534.4 350M500 302L534.4 350M547 298L497.5 281.3M540 271L497.5 281.3M531 322L497.5 281.3M548 326L497.5 281.3M504 299L497.5 281.3M550 308L497.5 281.3M559 284L497.5 281.3M538 319L497.5 281.3M499 308L497.5 281.3M537 273L497.5 281.3M529 287L497.5 281.3M529 329L497.5 281.3M498 307L497.5 281.3M556 291L497.5 281.3M501 289L497.5 281.3M514 280L497.5 281.3M506 300L503.4 330.9M557 280L503.4 330.9M559 284L503.4 330.9M519 315L503.4 330.9M499 308L503.4 330.9M527 300L503.4 330.9M511 315L503.4 330.9M537 281L503.4 330.9M538 312L503.4 330.9M540 296L503.4 330.9M514 311L503.4 330.9M501 303L503.4 330.9M557 284L503.4 330.9M527 331L503.4 330.9M534 324L503.4 330.9M526 271L503.4 330.9M541 302L548 263M504 307L548 263M557 284L548 263M537 281L548 263M530 304L548 263M546 299L548 263M558 310L548 263M557 294L548 263M549 328L548 263M507 300L548 263M523 306L548 263M518 310L548 263M549 303L548 263M521 322L548 263M507 288L548 263M538 312L548 263M542 285L482 396M534 301L482 396M517 289L482 396M500 302L466 380M558 314L466 380M525 308L466 380M548 326L430 400M540 296L430 400M557 284L430 400" stroke="#777" stroke-opacity="0.3" stroke-width="0.4" fill="none"/>
<circle cx="523.3" cy="264.9" r="1.5" fill="#fdbb84" />
<circle cx="528.5" cy="265.3" r="1.5" fill="#fdbb84" />
<circle cx="523.3" cy="271.3" r="1.8" fill="#fdbb84" />
<circle cx="527.4" cy="271.3" r="1.8" fill="#fdbb84" />
<circle cx="522.1" cy="278.1" r="2.2" fill="#fdbb84" />
<circle cx="525.0" cy="278.1" r="2.2" fill="#fdbb84" />
<circle cx="528.0" cy="278.1" r="2.2" fill="#fdbb84" />
<circle cx="530.9" cy="278.1" r="2.2" fill="#fdbb84" />
<circle cx="522.1" cy="284.5" r="2.2" fill="#fdbb84" />
<circle cx="525.0" cy="284.5" r="2.2" fill="#fdbb84" />
<circle cx="528.3" cy="284.5" r="2.2" fill="#fdbb84" />
<circle cx="530.9" cy="284.5" r="2.2" fill="#fdbb84" />
<circle cx="534.4" cy="272.3" r="2" fill="#fdbb84" />
<circle cx="536.7" cy="275.0" r="2" fill="#fdbb84" />
<circle cx="513.4" cy="268.2" r="2" fill="#fc8d59" />
<circle cx="504.6" cy="270.3" r="1.8" fill="#a50000" />
<circle cx="511.0" cy="275.2" r="2.5" fill="#a50000" />
<circle cx="514.5" cy="274.0" r="2.5" fill="#a50000" />
<circle cx="497.6" cy="281.0" r="2.8" fill="#ef6548" />
<circle cx="504.0" cy="281.5" r="2.2" fill="#fdbb84" />
<circle cx="507.5" cy="284.0" r="2.2" fill="#fdbb84" />
<circle cx="502.3" cy="286.8" r="2.2" fill="#fdbb84" />
<circle cx="510.5" cy="286.3" r="2.2" fill="#fdbb84" />
<circle cx="511.6" cy="283.3" r="2.2" fill="#fdbb84" />
<circle cx="505.8" cy="286.3" r="2.2" fill="#fdbb84" />
<circle cx="505.2" cy="277.0" r="1.3" fill="#fdbb84" />
<circle cx="498.8" cy="293.9" r="2" fill="#fdbb84" />
<circle cx="500.5" cy="298.5" r="2" fill="#fdbb84" />
<circle cx="497.6" cy="301.5" r="2" fill="#fdbb84" />
<circle cx="498.8" cy="304.4" r="1.5" fill="#fc8d59" />
<circle cx="502.8" cy="304.4" r="2.5" fill="#ef6548" />
<circle cx="506.3" cy="305.0" r="2.5" fill="#fc8d59" />
<circle cx="502.8" cy="309.0" r="2.5" fill="#ef6548" />
<circle cx="506.9" cy="309.6" r="2.5" fill="#ef6548" />
<circle cx="504.6" cy="307.0" r="2.5" fill="#ef6548" />
<circle cx="511.6" cy="297.4" r="2.8" fill="#a50000" />
<circle cx="513.4" cy="299.7" r="2.8" fill="#a50000" />
<circle cx="510.4" cy="300.9" r="2.8" fill="#a50000" />
<circle cx="512.8" cy="303.8" r="2.8" fill="#a50000" />
<circle cx="518.0" cy="306.7" r="2.6" fill="#a50000" />
<circle cx="515.5" cy="296.0" r="2.6" fill="#a50000" />
<circle cx="523.9" cy="293.9" r="3" fill="#d7301f" />
<circle cx="527.4" cy="295.0" r="3" fill="#ef6548" />
<circle cx="531.5" cy="293.9" r="3" fill="#ef6548" />
<circle cx="532.0" cy="297.4" r="3" fill="#ef6548" />
<circle cx="529.7" cy="299.7" r="3" fill="#d7301f" />
<circle cx="525.0" cy="300.9" r="3" fill="#ef6548" />
<circle cx="521.5" cy="298.5" r="3" fill="#d7301f" />
<circle cx="519.2" cy="302.0" r="3" fill="#ef6548" />
<circle cx="523.9" cy="304.4" r="3" fill="#d7301f" />
<circle cx="530.3" cy="293.2" r="2.4" fill="#fdbb84" />
<circle cx="527.0" cy="290.5" r="2.6" fill="#d7301f" />
<circle cx="533.0" cy="291.0" r="2.4" fill="#fc8d59" />
<circle cx="541.4" cy="294.5" r="1.8" fill="#fc8d59" />
<circle cx="542.0" cy="297.4" r="1.8" fill="#fc8d59" />
<circle cx="545.5" cy="285.7" r="2" fill="#fdbb84" />
<circle cx="551.9" cy="286.3" r="2.5" fill="#a50000" />
<circle cx="555.4" cy="291.5" r="2.8" fill="#a50000" />
<circle cx="550.7" cy="289.8" r="2" fill="#fc8d59" />
<circle cx="548.4" cy="300.3" r="2.5" fill="#fdbb84" />
<circle cx="543.7" cy="304.4" r="3" fill="#a50000" />
<circle cx="547.2" cy="305.5" r="3" fill="#a50000" />
<circle cx="549.6" cy="309.0" r="3" fill="#a50000" />
<circle cx="546.1" cy="308.5" r="3" fill="#a50000" />
<circle cx="543.1" cy="307.3" r="3" fill="#a50000" />
<circle cx="541.4" cy="309.6" r="2" fill="#fdbb84" />
<circle cx="554.2" cy="313.7" r="1.5" fill="#fdbb84" />
<circle cx="545.5" cy="323.6" r="2" fill="#a50000" />
<circle cx="547.2" cy="326.6" r="2" fill="#a50000" />
<circle cx="543.1" cy="327.7" r="2" fill="#a50000" />
<circle cx="544.9" cy="330.1" r="2" fill="#a50000" />
<circle cx="539.0" cy="332.4" r="2" fill="#a50000" />
<circle cx="542.0" cy="331.8" r="2" fill="#a50000" />
<circle cx="552.5" cy="324.2" r="2.2" fill="#a50000" />
<circle cx="503.4" cy="330.7" r="2.5" fill="#fc8d59" />
<circle cx="509.3" cy="333.0" r="2" fill="#a50000" />
<circle cx="563.0" cy="328.9" r="1.5" fill="#fc8d59" />
<circle cx="554.8" cy="274.6" r="1.5" fill="#fdbb84" />
<circle cx="557.7" cy="320.1" r="1.3" fill="#fdbb84" />
<circle cx="490.6" cy="315.5" r="1.5" fill="#fdbb84" />
<circle cx="498.8" cy="317.2" r="1.3" fill="#fc8d59" />
<circle cx="517.4" cy="316.2" r="3.0" fill="#a50000" stroke="#8a0000" stroke-width="0.3"/>
<circle cx="525.9" cy="311.4" r="3.0" fill="#a50000" stroke="#8a0000" stroke-width="0.3"/>
<circle cx="522.6" cy="327.8" r="3.0" fill="#a50000" stroke="#8a0000" stroke-width="0.3"/>
<circle cx="528.1" cy="313.4" r="3.0" fill="#a50000" stroke="#8a0000" stroke-width="0.3"/>
<circle cx="531.7" cy="314.6" r="3.0" fill="#a50000" stroke="#8a0000" stroke-width="0.3"/>
<circle cx="538.3" cy="326.0" r="3.0" fill="#a50000" stroke="#8a0000" stroke-width="0.3"/>
<circle cx="530.7" cy="316.2" r="3.0" fill="#a50000" stroke="#8a0000" stroke-width="0.3"/>
<circle cx="527.6" cy="327.4" r="3.0" fill="#a50000" stroke="#8a0000" stroke-width="0.3"/>
<circle cx="529.9" cy="314.2" r="3.0" fill="#a50000" stroke="#8a0000" stroke-width="0.3"/>
<circle cx="533.9" cy="313.5" r="3.0" fill="#a50000" stroke="#8a0000" stroke-width="0.3"/>
<circle cx="534.8" cy="318.3" r="3.0" fill="#a50000" stroke="#8a0000" stroke-width="0.3"/>
<circle cx="529.2" cy="309.7" r="3.0" fill="#a50000" stroke="#8a0000" stroke-width="0.3"/>
<circle cx="536.3" cy="327.3" r="3.0" fill="#a50000" stroke="#8a0000" stroke-width="0.3"/>
<circle cx="531.6" cy="314.6" r="3.0" fill="#a50000" stroke="#8a0000" stroke-width="0.3"/>
<circle cx="539.0" cy="324.7" r="3.0" fill="#a50000" stroke="#8a0000" stroke-width="0.3"/>
<circle cx="533.0" cy="314.7" r="3.0" fill="#a50000" stroke="#8a0000" stroke-width="0.3"/>
<circle cx="522.6" cy="317.8" r="3.0" fill="#a50000" stroke="#8a0000" stroke-width="0.3"/>
<circle cx="535.3" cy="316.1" r="3.0" fill="#a50000" stroke="#8a0000" stroke-width="0.3"/>
<circle cx="526.2" cy="310.7" r="3.0" fill="#a50000" stroke="#8a0000" stroke-width="0.3"/>
<circle cx="536.9" cy="327.1" r="3.0" fill="#a50000" stroke="#8a0000" stroke-width="0.3"/>
<circle cx="521.5" cy="316.7" r="3.0" fill="#a50000" stroke="#8a0000" stroke-width="0.3"/>
<circle cx="535.8" cy="315.6" r="3.0" fill="#a50000" stroke="#8a0000" stroke-width="0.3"/>
<circle cx="536.7" cy="318.9" r="3.0" fill="#a50000" stroke="#8a0000" stroke-width="0.3"/>
<circle cx="530.6" cy="327.8" r="3.0" fill="#a50000" stroke="#8a0000" stroke-width="0.3"/>
<circle cx="529.0" cy="324.3" r="3.0" fill="#a50000" stroke="#8a0000" stroke-width="0.3"/>
<circle cx="529.5" cy="320.2" r="3.0" fill="#a50000" stroke="#8a0000" stroke-width="0.3"/>
<circle cx="525.2" cy="324.3" r="3.0" fill="#a50000" stroke="#8a0000" stroke-width="0.3"/>
<circle cx="528.3" cy="322.0" r="3.0" fill="#a50000" stroke="#8a0000" stroke-width="0.3"/>
<circle cx="534.9" cy="318.3" r="3.0" fill="#a50000" stroke="#8a0000" stroke-width="0.3"/>
<circle cx="530.9" cy="310.9" r="3.0" fill="#a50000" stroke="#8a0000" stroke-width="0.3"/>
<circle cx="524.9" cy="321.3" r="3.0" fill="#a50000" stroke="#8a0000" stroke-width="0.3"/>
<circle cx="538.6" cy="317.6" r="3.0" fill="#a50000" stroke="#8a0000" stroke-width="0.3"/>
<circle cx="537.1" cy="325.0" r="3.0" fill="#a50000" stroke="#8a0000" stroke-width="0.3"/>
<circle cx="519.4" cy="321.0" r="3.0" fill="#a50000" stroke="#8a0000" stroke-width="0.3"/>
<circle cx="523.6" cy="324.6" r="3.0" fill="#a50000" stroke="#8a0000" stroke-width="0.3"/>
<circle cx="535.1" cy="319.7" r="3.0" fill="#a50000" stroke="#8a0000" stroke-width="0.3"/>
<circle cx="520.3" cy="320.8" r="3.0" fill="#a50000" stroke="#8a0000" stroke-width="0.3"/>
<circle cx="527.7" cy="318.8" r="3.0" fill="#a50000" stroke="#8a0000" stroke-width="0.3"/>
<circle cx="516.5" cy="319.9" r="3.0" fill="#a50000" stroke="#8a0000" stroke-width="0.3"/>
<circle cx="536.2" cy="319.1" r="3.0" fill="#a50000" stroke="#8a0000" stroke-width="0.3"/>
<circle cx="516.4" cy="321.3" r="3.0" fill="#a50000" stroke="#8a0000" stroke-width="0.3"/>
<circle cx="520.6" cy="320.3" r="3.0" fill="#a50000" stroke="#8a0000" stroke-width="0.3"/>
<circle cx="521.6" cy="325.5" r="3.0" fill="#a50000" stroke="#8a0000" stroke-width="0.3"/>
<circle cx="523.2" cy="325.9" r="3.0" fill="#a50000" stroke="#8a0000" stroke-width="0.3"/>
<circle cx="528.4" cy="318.1" r="3.0" fill="#a50000" stroke="#8a0000" stroke-width="0.3"/>
<circle cx="531.9" cy="321.5" r="3.0" fill="#a50000" stroke="#8a0000" stroke-width="0.3"/>
<circle cx="528.0" cy="319.0" r="3.0" fill="#a50000" stroke="#8a0000" stroke-width="0.3"/>
<circle cx="536.7" cy="317.0" r="3.0" fill="#a50000" stroke="#8a0000" stroke-width="0.3"/>
<circle cx="592.2" cy="286.4" r="2.6" fill="#fdbb84" />
<circle cx="563.3" cy="251.4" r="2.4" fill="#fdbb84" />
<circle cx="563.2" cy="328.7" r="1.5" fill="#fc8d59" />
<circle cx="534.4" cy="350.0" r="1.8" fill="#ef6548" />
<circle cx="500.0" cy="265.0" r="1.5" fill="#fc8d59" />
<circle cx="471.2" cy="177.0" r="3" fill="#fc8d59" />
<circle cx="481.8" cy="182.9" r="2.5" fill="#fdbb84" />
<circle cx="506.3" cy="173.5" r="2.8" fill="#fdbb84" />
<circle cx="485.3" cy="165.4" r="2" fill="#fdbb84" />
<circle cx="493.9" cy="160.7" r="2" fill="#d7301f" />
<circle cx="500.9" cy="165.4" r="2" fill="#a50000" />
<circle cx="489.5" cy="178.2" r="2" fill="#fdbb84" />
<circle cx="494.6" cy="179.4" r="2" fill="#fdbb84" />
<circle cx="493.4" cy="171.2" r="2" fill="#fdbb84" />
<circle cx="498.1" cy="172.4" r="2" fill="#fdbb84" />
<circle cx="509.8" cy="151.4" r="1.3" fill="#fdbb84" />
<circle cx="521.5" cy="165.4" r="1.8" fill="#fdbb84" />
<circle cx="489.9" cy="198.1" r="1.8" fill="#fdbb84" />
<circle cx="509.3" cy="195.3" r="1.3" fill="#fdbb84" />
<circle cx="479.4" cy="172.4" r="1.8" fill="#fdbb84" />
<circle cx="484.1" cy="177.0" r="2" fill="#fdbb84" />
<circle cx="473.6" cy="170.0" r="2.5" fill="#fc8d59" />
<circle cx="498.1" cy="157.2" r="1.5" fill="#fdbb84" />
<circle cx="516.1" cy="159.5" r="1.5" fill="#fdbb84" />
<circle cx="506.5" cy="158.4" r="1.3" fill="#fdbb84" />
<circle cx="501.6" cy="167.7" r="1.8" fill="#fdbb84" />
<circle cx="492.3" cy="191.0" r="1.5" fill="#fdbb84" />
<circle cx="487.1" cy="170.5" r="1.6" fill="#fdbb84" />
<circle cx="512.0" cy="180.0" r="1.5" fill="#fdbb84" />
<circle cx="496.9" cy="206.2" r="2.6" fill="#a50000" />
<line x1="611.8" y1="164.5" x2="611.1" y2="173.7" stroke="#bbb" stroke-width="0.5" />
<line x1="611.8" y1="164.5" x2="621.0" y2="172.7" stroke="#bbb" stroke-width="0.5" />
<line x1="611.1" y1="173.7" x2="621.0" y2="172.7" stroke="#bbb" stroke-width="0.5" />
<circle cx="611.8" cy="164.5" r="2.0" fill="#fc8d59" />
<circle cx="611.1" cy="173.7" r="2.0" fill="#fc8d59" />
<circle cx="621.0" cy="172.7" r="1.5" fill="#fc8d59" />
<line x1="650.8" y1="213.7" x2="649.8" y2="223.8" stroke="#bbb" stroke-width="0.5" />
<line x1="650.8" y1="213.7" x2="658.5" y2="222.7" stroke="#bbb" stroke-width="0.5" />
<line x1="649.8" y1="223.8" x2="658.5" y2="222.7" stroke="#bbb" stroke-width="0.5" />
<circle cx="650.8" cy="213.7" r="2.8" fill="#fdbb84" />
<circle cx="649.8" cy="223.8" r="2.8" fill="#fdbb84" />
<circle cx="658.5" cy="222.7" r="2.8" fill="#fdbb84" />
<line x1="666.8" y1="260.1" x2="668.6" y2="269.7" stroke="#bbb" stroke-width="0.5" />
<circle cx="666.8" cy="260.1" r="1.4" fill="#fc8d59" />
<circle cx="668.6" cy="269.7" r="1.4" fill="#fc8d59" />
<line x1="668.4" y1="308.5" x2="666.4" y2="319.9" stroke="#bbb" stroke-width="0.5" />
<circle cx="668.4" cy="308.5" r="1.3" fill="#fc8d59" />
<circle cx="666.4" cy="319.9" r="2.0" fill="#fc8d59" />
<line x1="384.3" y1="221.8" x2="379.8" y2="231.0" stroke="#bbb" stroke-width="0.5" />
<circle cx="384.3" cy="221.8" r="2.5" fill="#a50000" />
<circle cx="379.8" cy="231.0" r="3.3" fill="#a50000" />
<line x1="398.4" y1="190.8" x2="394.7" y2="200.2" stroke="#bbb" stroke-width="0.5" />
<circle cx="398.4" cy="190.8" r="1.5" fill="#fdbb84" />
<circle cx="394.7" cy="200.2" r="2.2" fill="#fdbb84" />
<line x1="369.4" y1="259.2" x2="372.0" y2="275.8" stroke="#bbb" stroke-width="0.5" />
<circle cx="369.4" cy="259.2" r="1.8" fill="#fdbb84" />
<circle cx="372.0" cy="275.8" r="1.0" fill="#fdbb84" />
<line x1="371.1" y1="300.0" x2="372.2" y2="310.0" stroke="#bbb" stroke-width="0.5" />
<circle cx="371.1" cy="300.0" r="2.0" fill="#fdbb84" />
<circle cx="372.2" cy="310.0" r="2.2" fill="#fc8d59" />
<line x1="380.3" y1="339.0" x2="384.7" y2="351.9" stroke="#bbb" stroke-width="0.5" />
<line x1="380.3" y1="339.0" x2="389.7" y2="361.1" stroke="#bbb" stroke-width="0.5" />
<line x1="384.7" y1="351.9" x2="389.7" y2="361.1" stroke="#bbb" stroke-width="0.5" />
<circle cx="380.3" cy="339.0" r="1.8" fill="#fdbb84" />
<circle cx="384.7" cy="351.9" r="2.0" fill="#fc8d59" />
<circle cx="389.7" cy="361.1" r="1.0" fill="#fdbb84" />
<line x1="462.0" y1="375.2" x2="469.3" y2="380.5" stroke="#bbb" stroke-width="0.5" />
<circle cx="462.0" cy="375.2" r="1.5" fill="#fdbb84" />
<circle cx="469.3" cy="380.5" r="1.2" fill="#fc8d59" />
<line x1="490.9" y1="397.6" x2="483.0" y2="419.1" stroke="#bbb" stroke-width="0.5" />
<line x1="490.9" y1="397.6" x2="491.7" y2="421.0" stroke="#bbb" stroke-width="0.5" />
<line x1="483.0" y1="419.1" x2="491.7" y2="421.0" stroke="#bbb" stroke-width="0.5" />
<circle cx="490.9" cy="397.6" r="2.2" fill="#fc8d59" />
<circle cx="483.0" cy="419.1" r="1.5" fill="#fc8d59" />
<circle cx="491.7" cy="421.0" r="1.5" fill="#fc8d59" />
<text x="481.5" y="159.5" font-size="8.5" fill="#262626" text-anchor="middle" textLength="100" lengthAdjust="spacingAndGlyphs" >CD4-positive, alpha-beta T</text>
<text x="482.0" y="171.2" font-size="8.5" fill="#262626" text-anchor="middle" textLength="90.3" lengthAdjust="spacingAndGlyphs" >cell lineage commitment</text>
<text x="453.0" y="182.4" font-size="8.5" fill="#262626" text-anchor="middle" textLength="45.6" lengthAdjust="spacingAndGlyphs" >regulation of</text>
<text x="453.0" y="194.0" font-size="8.5" fill="#262626" text-anchor="middle" textLength="110" lengthAdjust="spacingAndGlyphs" >phosphatidylinositol 3-kinase</text>
<text x="454.0" y="205.5" font-size="8.5" fill="#262626" text-anchor="middle" textLength="33" lengthAdjust="spacingAndGlyphs" >signaling</text>
<text x="427.0" y="225.0" font-size="8.5" fill="#262626" text-anchor="middle" textLength="87" lengthAdjust="spacingAndGlyphs" >cytoplasmic translation</text>
<text x="626.8" y="151.4" font-size="8.5" fill="#262626" text-anchor="middle" textLength="93.5" lengthAdjust="spacingAndGlyphs" >translation factor activity,</text>
<text x="627.0" y="162.8" font-size="8.5" fill="#262626" text-anchor="middle" >RNA binding</text>
<text x="615.0" y="209.3" font-size="8.5" fill="#262626" text-anchor="middle" textLength="71.3" lengthAdjust="spacingAndGlyphs" >extracellular matrix</text>
<text x="615.0" y="220.5" font-size="8.5" fill="#262626" text-anchor="middle" textLength="46.5" lengthAdjust="spacingAndGlyphs" >organization</text>
<text x="539.5" y="237.7" font-size="8.5" fill="#262626" text-anchor="middle" >positive regulation of immune</text>
<text x="539.5" y="249.0" font-size="8.5" fill="#262626" text-anchor="middle" >effector process</text>
<text x="615.0" y="259.8" font-size="8.5" fill="#262626" text-anchor="middle" textLength="80.7" lengthAdjust="spacingAndGlyphs" >3',5'-cyclic-nucleotide</text>
<text x="615.0" y="271.8" font-size="8.5" fill="#262626" text-anchor="middle" textLength="100.7" lengthAdjust="spacingAndGlyphs" >phosphodiesterase activity</text>
<text x="425.3" y="257.4" font-size="8.5" fill="#262626" text-anchor="middle" textLength="99.3" lengthAdjust="spacingAndGlyphs" >embryonic skeletal system</text>
<text x="425.1" y="268.3" font-size="8.5" fill="#262626" text-anchor="middle" textLength="57.8" lengthAdjust="spacingAndGlyphs" >morphogenesis</text>
<text x="411.1" y="296.8" font-size="8.5" fill="#262626" text-anchor="middle" textLength="74.5" lengthAdjust="spacingAndGlyphs" >cellular response to</text>
<text x="411.0" y="308.7" font-size="8.5" fill="#262626" text-anchor="middle" textLength="66.5" lengthAdjust="spacingAndGlyphs" >interferon-gamma</text>
<text x="428.0" y="329.2" font-size="8.5" fill="#262626" text-anchor="middle" textLength="78.9" lengthAdjust="spacingAndGlyphs" >positive regulation of</text>
<text x="428.4" y="341.5" font-size="8.5" fill="#262626" text-anchor="middle" textLength="81" lengthAdjust="spacingAndGlyphs" >myeloid cell apoptotic</text>
<text x="428.2" y="353.1" font-size="8.5" fill="#262626" text-anchor="middle" textLength="29.8" lengthAdjust="spacingAndGlyphs" >process</text>
<text x="438.4" y="383.1" font-size="8.5" fill="#262626" text-anchor="middle" textLength="95.9" lengthAdjust="spacingAndGlyphs" >regulation of natural killer</text>
<text x="438.2" y="395.0" font-size="8.5" fill="#262626" text-anchor="middle" textLength="66.4" lengthAdjust="spacingAndGlyphs" >cell differentiation</text>
<text x="482.4" y="405.5" font-size="8.5" fill="#262626" text-anchor="middle" textLength="89.3" lengthAdjust="spacingAndGlyphs" >microglial cell activation</text>
<text x="629.8" y="311.1" font-size="8.5" fill="#262626" text-anchor="middle" textLength="70.4" lengthAdjust="spacingAndGlyphs" >anion homeostasis</text>
<text x="532.0" y="365.3" font-size="15.5" fill="#111" text-anchor="middle" textLength="117" lengthAdjust="spacingAndGlyphs" >Up-regulated DEGs</text>
<text x="616.7" y="368.0" font-size="6" fill="#222" text-anchor="start" >p-value</text>
<defs><linearGradient id="pv" x1="0" y1="0" x2="0" y2="1"><stop offset="0" stop-color="#fee8c8"/><stop offset="0.3" stop-color="#fdbb84"/><stop offset="0.6" stop-color="#ef6548"/><stop offset="1" stop-color="#b30000"/></linearGradient><linearGradient id="pa" x1="0" y1="0" x2="0" y2="1"><stop offset="0" stop-color="#2a00ff"/><stop offset="1" stop-color="#ff0020"/></linearGradient></defs>
<rect x="616.7" y="372.6" width="9.7" height="51.4" fill="url(#pv)"/>
<text x="631.0" y="374.5" font-size="5" fill="#333" text-anchor="start" >0.0</text>
<text x="631.0" y="387.4" font-size="5" fill="#333" text-anchor="start" >-2.5</text>
<text x="631.0" y="400.2" font-size="5" fill="#333" text-anchor="start" >-5.0</text>
<text x="631.0" y="413.1" font-size="5" fill="#333" text-anchor="start" >-7.5</text>
<text x="631.0" y="425.9" font-size="5" fill="#333" text-anchor="start" >-10.0</text>
<text x="569.7" y="396.5" font-size="5.5" fill="#222" text-anchor="start" >Pathway size</text>
<rect x="569.7" y="400" width="9.3" height="9.8" fill="none" stroke="#333" stroke-width="0.7"/>
<rect x="569.7" y="409.8" width="9.3" height="10.2" fill="none" stroke="#333" stroke-width="0.7"/>
<circle cx="574.4" cy="404.9" r="2.0" fill="#000" />
<circle cx="574.4" cy="414.9" r="3.0" fill="#000" />
<text x="582.0" y="406.8" font-size="5" fill="#333" text-anchor="start" >10</text>
<text x="582.0" y="416.8" font-size="5" fill="#333" text-anchor="start" >20</text>
<text x="20.5" y="312.3" font-size="17" fill="#000" text-anchor="start" >D</text>
<rect x="38.3" y="302.1" width="36.9" height="126.0" fill="#cccccc"/>
<rect x="38.3" y="428.1" width="36.9" height="91.6" fill="#f0ce80"/>
<rect x="38.3" y="519.7" width="36.9" height="68.7" fill="#aad8f2"/>
<rect x="38.3" y="588.4" width="36.9" height="68.7" fill="#80d0b6"/>
<rect x="38.3" y="657.1" width="36.9" height="46.4" fill="#f8eea0"/>
<line x1="68.3" y1="307.8" x2="75.2" y2="307.8" stroke="#9c9c9c" stroke-width="0.8" />
<line x1="68.3" y1="319.2" x2="75.2" y2="319.2" stroke="#9c9c9c" stroke-width="0.8" />
<line x1="68.3" y1="307.8" x2="68.3" y2="319.2" stroke="#9c9c9c" stroke-width="0.8" />
<line x1="61.2" y1="313.5" x2="68.3" y2="313.5" stroke="#9c9c9c" stroke-width="0.8" />
<line x1="61.2" y1="330.7" x2="75.2" y2="330.7" stroke="#9c9c9c" stroke-width="0.8" />
<line x1="61.2" y1="313.5" x2="61.2" y2="330.7" stroke="#9c9c9c" stroke-width="0.8" />
<line x1="54.6" y1="322.1" x2="61.2" y2="322.1" stroke="#9c9c9c" stroke-width="0.8" />
<line x1="68.3" y1="342.1" x2="75.2" y2="342.1" stroke="#9c9c9c" stroke-width="0.8" />
<line x1="68.3" y1="353.6" x2="75.2" y2="353.6" stroke="#9c9c9c" stroke-width="0.8" />
<line x1="68.3" y1="342.1" x2="68.3" y2="353.6" stroke="#9c9c9c" stroke-width="0.8" />
<line x1="61.2" y1="347.9" x2="68.3" y2="347.9" stroke="#9c9c9c" stroke-width="0.8" />
<line x1="61.2" y1="365.1" x2="75.2" y2="365.1" stroke="#9c9c9c" stroke-width="0.8" />
<line x1="61.2" y1="347.9" x2="61.2" y2="365.1" stroke="#9c9c9c" stroke-width="0.8" />
<line x1="54.6" y1="356.5" x2="61.2" y2="356.5" stroke="#9c9c9c" stroke-width="0.8" />
<line x1="54.6" y1="322.1" x2="54.6" y2="356.5" stroke="#9c9c9c" stroke-width="0.8" />
<line x1="47.2" y1="339.3" x2="54.6" y2="339.3" stroke="#9c9c9c" stroke-width="0.8" />
<line x1="68.3" y1="376.5" x2="75.2" y2="376.5" stroke="#9c9c9c" stroke-width="0.8" />
<line x1="68.3" y1="387.9" x2="75.2" y2="387.9" stroke="#9c9c9c" stroke-width="0.8" />
<line x1="68.3" y1="376.5" x2="68.3" y2="387.9" stroke="#9c9c9c" stroke-width="0.8" />
<line x1="47.2" y1="382.2" x2="68.3" y2="382.2" stroke="#9c9c9c" stroke-width="0.8" />
<line x1="47.2" y1="339.3" x2="47.2" y2="382.2" stroke="#9c9c9c" stroke-width="0.8" />
<line x1="40.3" y1="360.8" x2="47.2" y2="360.8" stroke="#9c9c9c" stroke-width="0.8" />
<line x1="68.3" y1="399.4" x2="75.2" y2="399.4" stroke="#9c9c9c" stroke-width="0.8" />
<line x1="68.3" y1="410.9" x2="75.2" y2="410.9" stroke="#9c9c9c" stroke-width="0.8" />
<line x1="68.3" y1="399.4" x2="68.3" y2="410.9" stroke="#9c9c9c" stroke-width="0.8" />
<line x1="61.2" y1="405.1" x2="68.3" y2="405.1" stroke="#9c9c9c" stroke-width="0.8" />
<line x1="61.2" y1="422.3" x2="75.2" y2="422.3" stroke="#9c9c9c" stroke-width="0.8" />
<line x1="61.2" y1="405.1" x2="61.2" y2="422.3" stroke="#9c9c9c" stroke-width="0.8" />
<line x1="40.3" y1="413.7" x2="61.2" y2="413.7" stroke="#9c9c9c" stroke-width="0.8" />
<line x1="40.3" y1="360.8" x2="40.3" y2="413.7" stroke="#9c9c9c" stroke-width="0.8" />
<line x1="68.4" y1="433.8" x2="75.2" y2="433.8" stroke="#e0a028" stroke-width="0.8" />
<line x1="68.4" y1="445.2" x2="75.2" y2="445.2" stroke="#e0a028" stroke-width="0.8" />
<line x1="68.4" y1="433.8" x2="68.4" y2="445.2" stroke="#e0a028" stroke-width="0.8" />
<line x1="60.8" y1="439.5" x2="68.4" y2="439.5" stroke="#e0a028" stroke-width="0.8" />
<line x1="68.4" y1="456.6" x2="75.2" y2="456.6" stroke="#e0a028" stroke-width="0.8" />
<line x1="68.4" y1="468.1" x2="75.2" y2="468.1" stroke="#e0a028" stroke-width="0.8" />
<line x1="68.4" y1="456.6" x2="68.4" y2="468.1" stroke="#e0a028" stroke-width="0.8" />
<line x1="60.8" y1="462.4" x2="68.4" y2="462.4" stroke="#e0a028" stroke-width="0.8" />
<line x1="60.8" y1="439.5" x2="60.8" y2="462.4" stroke="#e0a028" stroke-width="0.8" />
<line x1="53.9" y1="450.9" x2="60.8" y2="450.9" stroke="#e0a028" stroke-width="0.8" />
<line x1="68.4" y1="479.6" x2="75.2" y2="479.6" stroke="#e0a028" stroke-width="0.8" />
<line x1="68.4" y1="491.0" x2="75.2" y2="491.0" stroke="#e0a028" stroke-width="0.8" />
<line x1="68.4" y1="479.6" x2="68.4" y2="491.0" stroke="#e0a028" stroke-width="0.8" />
<line x1="53.9" y1="485.3" x2="68.4" y2="485.3" stroke="#e0a028" stroke-width="0.8" />
<line x1="53.9" y1="450.9" x2="53.9" y2="485.3" stroke="#e0a028" stroke-width="0.8" />
<line x1="46.9" y1="468.1" x2="53.9" y2="468.1" stroke="#e0a028" stroke-width="0.8" />
<line x1="68.4" y1="502.4" x2="75.2" y2="502.4" stroke="#e0a028" stroke-width="0.8" />
<line x1="68.4" y1="513.9" x2="75.2" y2="513.9" stroke="#e0a028" stroke-width="0.8" />
<line x1="68.4" y1="502.4" x2="68.4" y2="513.9" stroke="#e0a028" stroke-width="0.8" />
<line x1="46.9" y1="508.2" x2="68.4" y2="508.2" stroke="#e0a028" stroke-width="0.8" />
<line x1="46.9" y1="468.1" x2="46.9" y2="508.2" stroke="#e0a028" stroke-width="0.8" />
<line x1="68.4" y1="525.4" x2="75.2" y2="525.4" stroke="#5cb4e6" stroke-width="0.8" />
<line x1="68.4" y1="536.8" x2="75.2" y2="536.8" stroke="#5cb4e6" stroke-width="0.8" />
<line x1="68.4" y1="525.4" x2="68.4" y2="536.8" stroke="#5cb4e6" stroke-width="0.8" />
<line x1="61.8" y1="531.1" x2="68.4" y2="531.1" stroke="#5cb4e6" stroke-width="0.8" />
<line x1="68.4" y1="548.2" x2="75.2" y2="548.2" stroke="#5cb4e6" stroke-width="0.8" />
<line x1="68.4" y1="559.7" x2="75.2" y2="559.7" stroke="#5cb4e6" stroke-width="0.8" />
<line x1="68.4" y1="548.2" x2="68.4" y2="559.7" stroke="#5cb4e6" stroke-width="0.8" />
<line x1="61.8" y1="554.0" x2="68.4" y2="554.0" stroke="#5cb4e6" stroke-width="0.8" />
<line x1="61.8" y1="531.1" x2="61.8" y2="554.0" stroke="#5cb4e6" stroke-width="0.8" />
<line x1="53.9" y1="542.5" x2="61.8" y2="542.5" stroke="#5cb4e6" stroke-width="0.8" />
<line x1="68.4" y1="571.1" x2="75.2" y2="571.1" stroke="#5cb4e6" stroke-width="0.8" />
<line x1="68.4" y1="582.6" x2="75.2" y2="582.6" stroke="#5cb4e6" stroke-width="0.8" />
<line x1="68.4" y1="571.1" x2="68.4" y2="582.6" stroke="#5cb4e6" stroke-width="0.8" />
<line x1="53.9" y1="576.9" x2="68.4" y2="576.9" stroke="#5cb4e6" stroke-width="0.8" />
<line x1="53.9" y1="542.5" x2="53.9" y2="576.9" stroke="#5cb4e6" stroke-width="0.8" />
<line x1="68.7" y1="594.0" x2="75.2" y2="594.0" stroke="#2fae84" stroke-width="0.8" />
<line x1="68.7" y1="605.5" x2="75.2" y2="605.5" stroke="#2fae84" stroke-width="0.8" />
<line x1="68.7" y1="594.0" x2="68.7" y2="605.5" stroke="#2fae84" stroke-width="0.8" />
<line x1="61.0" y1="599.8" x2="68.7" y2="599.8" stroke="#2fae84" stroke-width="0.8" />
<line x1="61.0" y1="617.0" x2="75.2" y2="617.0" stroke="#2fae84" stroke-width="0.8" />
<line x1="61.0" y1="599.8" x2="61.0" y2="617.0" stroke="#2fae84" stroke-width="0.8" />
<line x1="54.6" y1="608.4" x2="61.0" y2="608.4" stroke="#2fae84" stroke-width="0.8" />
<line x1="54.6" y1="628.4" x2="75.2" y2="628.4" stroke="#2fae84" stroke-width="0.8" />
<line x1="54.6" y1="608.4" x2="54.6" y2="628.4" stroke="#2fae84" stroke-width="0.8" />
<line x1="47.1" y1="618.4" x2="54.6" y2="618.4" stroke="#2fae84" stroke-width="0.8" />
<line x1="68.7" y1="639.8" x2="75.2" y2="639.8" stroke="#2fae84" stroke-width="0.8" />
<line x1="68.7" y1="651.3" x2="75.2" y2="651.3" stroke="#2fae84" stroke-width="0.8" />
<line x1="68.7" y1="639.8" x2="68.7" y2="651.3" stroke="#2fae84" stroke-width="0.8" />
<line x1="47.1" y1="645.6" x2="68.7" y2="645.6" stroke="#2fae84" stroke-width="0.8" />
<line x1="47.1" y1="618.4" x2="47.1" y2="645.6" stroke="#2fae84" stroke-width="0.8" />
<line x1="68.7" y1="662.8" x2="75.2" y2="662.8" stroke="#f0dc58" stroke-width="0.8" />
<line x1="68.7" y1="674.2" x2="75.2" y2="674.2" stroke="#f0dc58" stroke-width="0.8" />
<line x1="68.7" y1="662.8" x2="68.7" y2="674.2" stroke="#f0dc58" stroke-width="0.8" />
<line x1="61.0" y1="668.5" x2="68.7" y2="668.5" stroke="#f0dc58" stroke-width="0.8" />
<line x1="68.7" y1="685.6" x2="75.2" y2="685.6" stroke="#f0dc58" stroke-width="0.8" />
<line x1="68.7" y1="697.1" x2="75.2" y2="697.1" stroke="#f0dc58" stroke-width="0.8" />
<line x1="68.7" y1="685.6" x2="68.7" y2="697.1" stroke="#f0dc58" stroke-width="0.8" />
<line x1="61.0" y1="691.4" x2="68.7" y2="691.4" stroke="#f0dc58" stroke-width="0.8" />
<line x1="61.0" y1="668.5" x2="61.0" y2="691.4" stroke="#f0dc58" stroke-width="0.8" />
<line x1="33.0" y1="387.2" x2="40.3" y2="387.2" stroke="#d8d8d8" stroke-width="0.8" />
<line x1="33.0" y1="387.2" x2="33.0" y2="437.7" stroke="#d8d8d8" stroke-width="0.8" />
<line x1="33.0" y1="437.7" x2="33.0" y2="488.1" stroke="#e0a028" stroke-width="0.8" />
<line x1="33.0" y1="488.1" x2="46.9" y2="488.1" stroke="#e0a028" stroke-width="0.8" />
<line x1="26.6" y1="437.7" x2="33.0" y2="437.7" stroke="#222" stroke-width="0.9" />
<line x1="26.6" y1="437.7" x2="26.6" y2="498.7" stroke="#222" stroke-width="0.9" />
<line x1="26.6" y1="498.7" x2="26.6" y2="559.7" stroke="#5cb4e6" stroke-width="0.8" />
<line x1="26.6" y1="559.7" x2="53.9" y2="559.7" stroke="#5cb4e6" stroke-width="0.8" />
<line x1="40.3" y1="632.0" x2="40.3" y2="656.0" stroke="#2fae84" stroke-width="0.8" />
<line x1="40.3" y1="656.0" x2="40.3" y2="679.9" stroke="#f0dc58" stroke-width="0.8" />
<line x1="40.3" y1="632.0" x2="47.1" y2="632.0" stroke="#2fae84" stroke-width="0.8" />
<line x1="40.3" y1="679.9" x2="61.0" y2="679.9" stroke="#f0dc58" stroke-width="0.8" />
<line x1="19.0" y1="498.7" x2="26.6" y2="498.7" stroke="#222" stroke-width="0.9" />
<line x1="19.0" y1="498.7" x2="19.0" y2="656.0" stroke="#222" stroke-width="0.9" />
<line x1="19.0" y1="656.0" x2="40.3" y2="656.0" stroke="#222" stroke-width="0.9" />
<circle cx="75.2" cy="307.8" r="2.8" fill="#ff0000" />
<text x="81.0" y="310.6" font-size="6.4" fill="#1a1a1a" text-anchor="start" >regulation of natural killer cell mediated immunity</text>
<circle cx="75.2" cy="319.2" r="2.8" fill="#ff0000" />
<text x="81.0" y="322.1" font-size="6.4" fill="#1a1a1a" text-anchor="start" >regulation of natural killer cell mediated cytotoxicity</text>
<circle cx="75.2" cy="330.7" r="2.8" fill="#ff0000" />
<text x="81.0" y="333.5" font-size="6.4" fill="#1a1a1a" text-anchor="start" >regulation of leukocyte mediated cytotoxicity</text>
<circle cx="75.2" cy="342.1" r="2.7" fill="#ff0000" />
<text x="81.0" y="344.9" font-size="6.4" fill="#1a1a1a" text-anchor="start" >positive regulation of natural killer cell mediated immunity</text>
<circle cx="75.2" cy="353.6" r="2.7" fill="#ff0000" />
<text x="81.0" y="356.4" font-size="6.4" fill="#1a1a1a" text-anchor="start" >positive regulation of natural killer cell mediated cytotoxicity</text>
<circle cx="75.2" cy="365.1" r="2.7" fill="#ff0000" />
<text x="81.0" y="367.9" font-size="6.4" fill="#1a1a1a" text-anchor="start" >positive regulation of leukocyte mediated cytotoxicity</text>
<circle cx="75.2" cy="376.5" r="2.8" fill="#ff0000" />
<text x="81.0" y="379.3" font-size="6.4" fill="#1a1a1a" text-anchor="start" >positive regulation of cell killing</text>
<circle cx="75.2" cy="387.9" r="2.9" fill="#ff0000" />
<text x="81.0" y="390.8" font-size="6.4" fill="#1a1a1a" text-anchor="start" >regulation of cell killing</text>
<circle cx="75.2" cy="399.4" r="2.7" fill="#c8147e" />
<text x="81.0" y="402.2" font-size="6.4" fill="#1a1a1a" text-anchor="start" >positive regulation of leukocyte mediated immunity</text>
<circle cx="75.2" cy="410.9" r="2.7" fill="#f0103c" />
<text x="81.0" y="413.7" font-size="6.4" fill="#1a1a1a" text-anchor="start" >positive regulation of lymphocyte mediated immunity</text>
<circle cx="75.2" cy="422.3" r="2.9" fill="#3c00ff" />
<text x="81.0" y="425.1" font-size="6.4" fill="#1a1a1a" text-anchor="start" >regulation of leukocyte mediated immunity</text>
<circle cx="75.2" cy="433.8" r="3.0" fill="#ff0000" />
<text x="81.0" y="436.6" font-size="6.4" fill="#1a1a1a" text-anchor="start" >cell killing</text>
<circle cx="75.2" cy="445.2" r="3.0" fill="#ff0000" />
<text x="81.0" y="448.0" font-size="6.4" fill="#1a1a1a" text-anchor="start" >leukocyte mediated cytotoxicity</text>
<circle cx="75.2" cy="456.6" r="2.7" fill="#ff0000" />
<text x="81.0" y="459.4" font-size="6.4" fill="#1a1a1a" text-anchor="start" >natural killer cell mediated immunity</text>
<circle cx="75.2" cy="468.1" r="2.7" fill="#ff0000" />
<text x="81.0" y="470.9" font-size="6.4" fill="#1a1a1a" text-anchor="start" >natural killer cell mediated cytotoxicity</text>
<circle cx="75.2" cy="479.6" r="3.3" fill="#f0103c" />
<text x="81.0" y="482.4" font-size="6.4" fill="#1a1a1a" text-anchor="start" >lymphocyte mediated immunity</text>
<circle cx="75.2" cy="491.0" r="3.3" fill="#f0103c" />
<text x="81.0" y="493.8" font-size="6.4" fill="#1a1a1a" text-anchor="start" >leukocyte mediated immunity</text>
<circle cx="75.2" cy="502.4" r="1.2" fill="#3c00ff" />
<text x="81.0" y="505.2" font-size="6.4" fill="#1a1a1a" text-anchor="start" >stimulatory C-type lectin receptor signaling pathway</text>
<circle cx="75.2" cy="513.9" r="2.6" fill="#c8147e" />
<text x="81.0" y="516.7" font-size="6.4" fill="#1a1a1a" text-anchor="start" >natural killer cell activation</text>
<circle cx="75.2" cy="525.4" r="3.0" fill="#ff0000" />
<text x="81.0" y="528.1" font-size="6.4" fill="#1a1a1a" text-anchor="start" >regulation of innate immune response</text>
<circle cx="75.2" cy="536.8" r="3.2" fill="#ff0000" />
<text x="81.0" y="539.6" font-size="6.4" fill="#1a1a1a" text-anchor="start" >regulation of response to biotic stimulus</text>
<circle cx="75.2" cy="548.2" r="2.9" fill="#ff0000" />
<text x="81.0" y="551.0" font-size="6.4" fill="#1a1a1a" text-anchor="start" >positive regulation of response to biotic stimulus</text>
<circle cx="75.2" cy="559.7" r="2.9" fill="#ff0000" />
<text x="81.0" y="562.5" font-size="6.4" fill="#1a1a1a" text-anchor="start" >positive regulation of innate immune response</text>
<circle cx="75.2" cy="571.1" r="3.2" fill="#f0103c" />
<text x="81.0" y="573.9" font-size="6.4" fill="#1a1a1a" text-anchor="start" >positive regulation of response to external stimulus</text>
<circle cx="75.2" cy="582.6" r="3.0" fill="#ff0000" />
<text x="81.0" y="585.4" font-size="6.4" fill="#1a1a1a" text-anchor="start" >positive regulation of defense response</text>
<circle cx="75.2" cy="594.0" r="3.0" fill="#ff0000" />
<text x="81.0" y="596.8" font-size="6.4" fill="#1a1a1a" text-anchor="start" >immune response-activating signal transduction</text>
<circle cx="75.2" cy="605.5" r="3.0" fill="#ff0000" />
<text x="81.0" y="608.3" font-size="6.4" fill="#1a1a1a" text-anchor="start" >immune response-activating cell surface receptor signaling pathway</text>
<circle cx="75.2" cy="617.0" r="3.0" fill="#ff0000" />
<text x="81.0" y="619.8" font-size="6.4" fill="#1a1a1a" text-anchor="start" >immune response-regulating cell surface receptor signaling pathway</text>
<circle cx="75.2" cy="628.4" r="3.2" fill="#ff0000" />
<text x="81.0" y="631.2" font-size="6.4" fill="#1a1a1a" text-anchor="start" >activation of immune response</text>
<circle cx="75.2" cy="639.8" r="2.9" fill="#c8147e" />
<text x="81.0" y="642.6" font-size="6.4" fill="#1a1a1a" text-anchor="start" >antigen receptor-mediated signaling pathway</text>
<circle cx="75.2" cy="651.3" r="2.6" fill="#ff0000" />
<text x="81.0" y="654.1" font-size="6.4" fill="#1a1a1a" text-anchor="start" >T cell receptor signaling pathway</text>
<circle cx="75.2" cy="662.8" r="2.7" fill="#ff0000" />
<text x="81.0" y="665.5" font-size="6.4" fill="#1a1a1a" text-anchor="start" >alpha-beta T cell activation</text>
<circle cx="75.2" cy="674.2" r="3.0" fill="#ff0000" />
<text x="81.0" y="677.0" font-size="6.4" fill="#1a1a1a" text-anchor="start" >T cell differentiation</text>
<circle cx="75.2" cy="685.6" r="3.0" fill="#c8147e" />
<text x="81.0" y="688.4" font-size="6.4" fill="#1a1a1a" text-anchor="start" >leukocyte cell-cell adhesion</text>
<circle cx="75.2" cy="697.1" r="3.0" fill="#ff0000" />
<text x="81.0" y="699.9" font-size="6.4" fill="#1a1a1a" text-anchor="start" >regulation of T cell activation</text>
<line x1="283.2" y1="304.2" x2="283.2" y2="425.7" stroke="#9c9c9c" stroke-width="0.9" />
<line x1="283.2" y1="430.4" x2="283.2" y2="517.7" stroke="#e8b040" stroke-width="0.9" />
<line x1="283.2" y1="522.6" x2="283.2" y2="586.6" stroke="#6cc0ec" stroke-width="0.9" />
<line x1="283.2" y1="591.4" x2="283.2" y2="655.0" stroke="#2fae84" stroke-width="0.9" />
<line x1="283.2" y1="660.0" x2="283.2" y2="700.5" stroke="#f4e070" stroke-width="0.9" />
<text x="284.0" y="359.1" font-size="6.8" fill="#1a1a1a" text-anchor="start" >regulation killing</text>
<text x="284.0" y="368.7" font-size="6.8" fill="#1a1a1a" text-anchor="start" >mediated immunity</text>
<text x="284.0" y="378.3" font-size="6.8" fill="#1a1a1a" text-anchor="start" >cytotoxicity</text>
<text x="284.0" y="467.8" font-size="6.8" fill="#1a1a1a" text-anchor="start" >stimulatory</text>
<text x="284.0" y="477.4" font-size="6.8" fill="#1a1a1a" text-anchor="start" >lymphocyte C-type</text>
<text x="284.0" y="487.0" font-size="6.8" fill="#1a1a1a" text-anchor="start" >killer lectin</text>
<text x="284.0" y="553.2" font-size="6.8" fill="#1a1a1a" text-anchor="start" >innate defense to</text>
<text x="284.0" y="562.8" font-size="6.8" fill="#1a1a1a" text-anchor="start" >biotic stimulus</text>
<text x="284.0" y="607.0" font-size="6.8" fill="#1a1a1a" text-anchor="start" >antigen</text>
<text x="284.0" y="616.6" font-size="6.8" fill="#1a1a1a" text-anchor="start" >response-activating</text>
<text x="284.0" y="626.2" font-size="6.8" fill="#1a1a1a" text-anchor="start" >receptor-mediated</text>
<text x="284.0" y="635.8" font-size="6.8" fill="#1a1a1a" text-anchor="start" >response-regulating</text>
<text x="284.0" y="645.4" font-size="6.8" fill="#1a1a1a" text-anchor="start" >surface</text>
<text x="284.0" y="669.1" font-size="6.8" fill="#1a1a1a" text-anchor="start" >alpha-beta</text>
<text x="284.0" y="678.7" font-size="6.8" fill="#1a1a1a" text-anchor="start" >cell-cell</text>
<text x="284.0" y="688.3" font-size="6.8" fill="#1a1a1a" text-anchor="start" >differentiation</text>
<text x="284.0" y="697.9" font-size="6.8" fill="#1a1a1a" text-anchor="start" >adhesion activation</text>
<text x="238.0" y="390.6" font-size="5" fill="#222" text-anchor="start" >number of genes</text>
<circle cx="241.8" cy="398.6" r="1.9" fill="#000" />
<text x="248.5" y="400.3" font-size="4.5" fill="#333" text-anchor="start" >10</text>
<circle cx="241.8" cy="406.7" r="2.4" fill="#000" />
<text x="248.5" y="408.4" font-size="4.5" fill="#333" text-anchor="start" >15</text>
<circle cx="241.8" cy="414.9" r="2.8" fill="#000" />
<text x="248.5" y="416.6" font-size="4.5" fill="#333" text-anchor="start" >20</text>
<circle cx="241.8" cy="423.2" r="3.1" fill="#000" />
<text x="248.5" y="424.9" font-size="4.5" fill="#333" text-anchor="start" >25</text>
<text x="238.0" y="441.8" font-size="5" fill="#222" text-anchor="start" >p.adjust</text>
<rect x="237.7" y="445.8" width="7.9" height="40.8" fill="url(#pa)"/>
<text x="248.5" y="451.5" font-size="4.5" fill="#333" text-anchor="start" >6e-06</text>
<text x="248.5" y="464.3" font-size="4.5" fill="#333" text-anchor="start" >4e-06</text>
<text x="248.5" y="475.9" font-size="4.5" fill="#333" text-anchor="start" >2e-06</text>
<path d="M364.7,282 C352,302 336,311 313.5,313.2 L312.8,309.7 L301.2,320.4 L316.5,323.7 L315.6,319.8 C340,316 356,302 365.5,283.5 Z" fill="#4472c4"/>
<text x="391.5" y="475.7" font-size="17" fill="#000" text-anchor="start" >E</text>
<text x="414.2" y="472.9" font-size="14" fill="#000" text-anchor="start" textLength="44.4" lengthAdjust="spacingAndGlyphs" >Protein</text>
<text x="507.5" y="472.8" font-size="11.5" fill="#222" text-anchor="start" textLength="46.9" lengthAdjust="spacingAndGlyphs" >validated</text>
<circle cx="565.2" cy="469.9" r="2.3" fill="#e0e0e0" />
<text x="576.4" y="473.3" font-size="8.8" fill="#222" text-anchor="start" >no</text>
<circle cx="597.0" cy="469.9" r="2.3" fill="#d49aa8" />
<text x="607.7" y="473.3" font-size="8.8" fill="#222" text-anchor="start" >yes</text>
<line x1="422.5" y1="668.9" x2="675.2" y2="668.9" stroke="#666" stroke-width="0.9" />
<line x1="499.4" y1="492.5" x2="499.4" y2="689.0" stroke="#444" stroke-width="0.9" />
<circle cx="442.2" cy="633.1" r="2.2" fill="#e3e3e3" />
<circle cx="433.4" cy="657.5" r="2.2" fill="#e3e3e3" />
<circle cx="545.6" cy="628.5" r="2.2" fill="#e3e3e3" />
<circle cx="553.9" cy="629.0" r="2.2" fill="#e3e3e3" />
<circle cx="546.1" cy="634.5" r="2.2" fill="#e3e3e3" />
<circle cx="544.7" cy="635.9" r="2.2" fill="#e3e3e3" />
<circle cx="560.8" cy="634.5" r="2.2" fill="#e3e3e3" />
<circle cx="570.0" cy="626.2" r="2.2" fill="#e3e3e3" />
<circle cx="570.0" cy="634.5" r="2.2" fill="#e3e3e3" />
<circle cx="568.6" cy="637.7" r="2.2" fill="#e3e3e3" />
<circle cx="542.0" cy="643.7" r="2.2" fill="#e3e3e3" />
<circle cx="575.5" cy="645.0" r="2.2" fill="#e3e3e3" />
<circle cx="553.0" cy="651.5" r="2.2" fill="#e3e3e3" />
<circle cx="555.3" cy="655.2" r="2.2" fill="#e3e3e3" />
<circle cx="565.4" cy="649.7" r="2.2" fill="#e3e3e3" />
<circle cx="568.6" cy="652.0" r="2.2" fill="#e3e3e3" />
<circle cx="553.9" cy="679.5" r="2.2" fill="#e3e3e3" />
<circle cx="583.8" cy="610.1" r="2.2" fill="#e3e3e3" />
<circle cx="606.8" cy="616.1" r="2.2" fill="#e3e3e3" />
<circle cx="565.7" cy="602.4" r="2.2" fill="#e3e3e3" />
<circle cx="554.0" cy="628.5" r="2.2" fill="#e3e3e3" />
<circle cx="648.0" cy="501.0" r="2.2" fill="#d08c9c" />
<circle cx="635.2" cy="529.6" r="2.2" fill="#d08c9c" />
<circle cx="664.6" cy="534.0" r="2.2" fill="#d08c9c" />
<circle cx="614.8" cy="545.7" r="2.2" fill="#d08c9c" />
<circle cx="627.5" cy="562.8" r="2.2" fill="#d08c9c" />
<circle cx="595.0" cy="569.2" r="2.2" fill="#d08c9c" />
<circle cx="552.2" cy="577.4" r="2.2" fill="#d08c9c" />
<circle cx="561.1" cy="580.0" r="2.2" fill="#d08c9c" />
<circle cx="554.7" cy="584.0" r="2.2" fill="#d08c9c" />
<circle cx="562.9" cy="584.0" r="2.2" fill="#d08c9c" />
<circle cx="562.4" cy="589.1" r="2.2" fill="#d08c9c" />
<circle cx="593.8" cy="587.9" r="2.2" fill="#d08c9c" />
<circle cx="552.7" cy="593.5" r="2.2" fill="#d08c9c" />
<circle cx="547.8" cy="596.0" r="2.2" fill="#d08c9c" />
<circle cx="550.4" cy="599.1" r="2.2" fill="#d08c9c" />
<circle cx="552.9" cy="603.7" r="2.2" fill="#d08c9c" />
<circle cx="568.3" cy="603.7" r="2.2" fill="#d08c9c" />
<circle cx="603.8" cy="596.8" r="2.2" fill="#d08c9c" />
<circle cx="553.0" cy="603.2" r="2.2" fill="#d08c9c" />
<circle cx="567.7" cy="603.2" r="2.2" fill="#d08c9c" />
<line x1="648.0" y1="501.0" x2="653.0" y2="506.6" stroke="#c27085" stroke-width="0.8" />
<rect x="639.8" y="506.6" width="31.7" height="11.5" rx="1.2" fill="#fff" fill-opacity="0.9" stroke="#dcaab6" stroke-width="0.8"/>
<text x="655.6" y="515.6" font-size="10" fill="#c06a80" text-anchor="middle" textLength="27.2" lengthAdjust="spacingAndGlyphs" >GZMH</text>
<line x1="635.2" y1="529.6" x2="630.0" y2="526.0" stroke="#c27085" stroke-width="0.8" />
<rect x="595.0" y="518.6" width="35.0" height="11.0" rx="1.2" fill="#fff" fill-opacity="0.9" stroke="#dcaab6" stroke-width="0.8"/>
<text x="612.5" y="527.1" font-size="10" fill="#c06a80" text-anchor="middle" textLength="30.5" lengthAdjust="spacingAndGlyphs" >KLRD1</text>
<line x1="664.6" y1="534.0" x2="659.0" y2="539.3" stroke="#c27085" stroke-width="0.8" />
<rect x="637.0" y="539.3" width="34.5" height="11.5" rx="1.2" fill="#fff" fill-opacity="0.9" stroke="#dcaab6" stroke-width="0.8"/>
<text x="654.2" y="548.3" font-size="10" fill="#c06a80" text-anchor="middle" textLength="30.0" lengthAdjust="spacingAndGlyphs" >FCRL6</text>
<rect x="594.3" y="546.7" width="28.9" height="11.0" rx="1.2" fill="#fff" fill-opacity="0.9" stroke="#dcaab6" stroke-width="0.8"/>
<text x="608.8" y="555.2" font-size="10" fill="#c06a80" text-anchor="middle" textLength="24.4" lengthAdjust="spacingAndGlyphs" >GNLY</text>
<rect x="580.3" y="557.7" width="43.9" height="11.0" rx="1.2" fill="#fff" fill-opacity="0.9" stroke="#dcaab6" stroke-width="0.8"/>
<text x="602.2" y="566.2" font-size="10" fill="#c06a80" text-anchor="middle" textLength="39.4" lengthAdjust="spacingAndGlyphs" >ADGRG1</text>
<line x1="561.1" y1="580.0" x2="565.0" y2="578.1" stroke="#c27085" stroke-width="0.8" />
<rect x="554.7" y="566.6" width="29.4" height="11.5" rx="1.2" fill="#fff" fill-opacity="0.9" stroke="#dcaab6" stroke-width="0.8"/>
<text x="569.4" y="575.6" font-size="10" fill="#c06a80" text-anchor="middle" textLength="24.9" lengthAdjust="spacingAndGlyphs" >GBP1</text>
<line x1="547.8" y1="596.0" x2="542.0" y2="601.9" stroke="#c27085" stroke-width="0.8" />
<rect x="518.2" y="601.9" width="30.9" height="11.2" rx="1.2" fill="#fff" fill-opacity="0.9" stroke="#dcaab6" stroke-width="0.8"/>
<text x="533.7" y="610.6" font-size="10" fill="#c06a80" text-anchor="middle" textLength="26.4" lengthAdjust="spacingAndGlyphs" >ITGAL</text>
<line x1="603.8" y1="596.8" x2="609.0" y2="602.4" stroke="#c27085" stroke-width="0.8" />
<rect x="596.4" y="602.4" width="43.1" height="12.0" rx="1.2" fill="#fff" fill-opacity="0.9" stroke="#dcaab6" stroke-width="0.8"/>
<text x="618.0" y="611.9" font-size="10" fill="#c06a80" text-anchor="middle" textLength="38.6" lengthAdjust="spacingAndGlyphs" >KIR2DL3</text>
<line x1="422.5" y1="492.5" x2="422.5" y2="689.0" stroke="#000" stroke-width="1.1" />
<line x1="422.5" y1="689.0" x2="675.2" y2="689.0" stroke="#000" stroke-width="1.1" />
<line x1="419.5" y1="502.1" x2="422.5" y2="502.1" stroke="#333" stroke-width="0.8" />
<text x="418.0" y="505.3" font-size="9.5" fill="#4d4d4d" text-anchor="end" >1.2</text>
<line x1="419.5" y1="557.7" x2="422.5" y2="557.7" stroke="#333" stroke-width="0.8" />
<text x="418.0" y="560.9" font-size="9.5" fill="#4d4d4d" text-anchor="end" >0.8</text>
<line x1="419.5" y1="613.3" x2="422.5" y2="613.3" stroke="#333" stroke-width="0.8" />
<text x="418.0" y="616.5" font-size="9.5" fill="#4d4d4d" text-anchor="end" >0.4</text>
<line x1="419.5" y1="668.9" x2="422.5" y2="668.9" stroke="#333" stroke-width="0.8" />
<text x="418.0" y="672.1" font-size="9.5" fill="#4d4d4d" text-anchor="end" >0.0</text>
<line x1="425.2" y1="689.0" x2="425.2" y2="692.0" stroke="#333" stroke-width="0.8" />
<text x="425.2" y="701.0" font-size="9.5" fill="#4d4d4d" text-anchor="middle" >-0.5</text>
<line x1="499.4" y1="689.0" x2="499.4" y2="692.0" stroke="#333" stroke-width="0.8" />
<text x="499.4" y="701.0" font-size="9.5" fill="#4d4d4d" text-anchor="middle" >0.0</text>
<line x1="573.6" y1="689.0" x2="573.6" y2="692.0" stroke="#333" stroke-width="0.8" />
<text x="573.6" y="701.0" font-size="9.5" fill="#4d4d4d" text-anchor="middle" >0.5</text>
<line x1="647.8" y1="689.0" x2="647.8" y2="692.0" stroke="#333" stroke-width="0.8" />
<text x="647.8" y="701.0" font-size="9.5" fill="#4d4d4d" text-anchor="middle" >1.0</text>
<text x="548.8" y="714.3" font-size="11" fill="#000" text-anchor="middle" font-weight="bold" textLength="111" lengthAdjust="spacingAndGlyphs" >effectSize_discovery</text>
<text x="0.0" y="0.0" font-size="11" fill="#000" text-anchor="middle" font-weight="bold" textLength="111" lengthAdjust="spacingAndGlyphs" transform="translate(400.3,590.5) rotate(-90)">effectSize_validation</text>
<text x="15.5" y="730.8" font-size="16.5" fill="#000" text-anchor="start" >F</text>
<text x="40.5" y="733.2" font-size="11" fill="#000" text-anchor="start" textLength="56" lengthAdjust="spacingAndGlyphs" >Methylation</text>
<rect x="15.3" y="737.6" width="52.1" height="7.1" fill="#fff" stroke="#333" stroke-width="0.7"/>
<text x="41.4" y="742.9" font-size="4.6" fill="#333" text-anchor="middle" >Discovery</text>
<rect x="70.5" y="737.6" width="51.7" height="7.1" fill="#fff" stroke="#333" stroke-width="0.7"/>
<text x="96.3" y="742.9" font-size="4.6" fill="#333" text-anchor="middle" >Validation</text>
<g stroke="#d2b0d2" stroke-width="0.6" fill="none">
<rect x="21.5" y="770.9" width="17.3" height="14.7"/>
<line x1="21.5" y1="778.5" x2="38.8" y2="778.5" stroke-width="0.9"/>
<line x1="30.1" y1="752.0" x2="30.1" y2="770.9"/>
<line x1="30.1" y1="785.6" x2="30.1" y2="808.0"/>
</g>
<g stroke="#f0dc80" stroke-width="0.6" fill="none">
<rect x="45.0" y="760.0" width="16.7" height="14.4"/>
<line x1="45.0" y1="766.2" x2="61.7" y2="766.2" stroke-width="0.9"/>
<line x1="53.4" y1="752.0" x2="53.4" y2="760.0"/>
<line x1="53.4" y1="774.4" x2="53.4" y2="790.0"/>
</g>
<g stroke="#d2b0d2" stroke-width="0.6" fill="none">
<rect x="76.2" y="770.3" width="16.8" height="14.3"/>
<line x1="76.2" y1="777.0" x2="93.0" y2="777.0" stroke-width="0.9"/>
<line x1="84.6" y1="753.0" x2="84.6" y2="770.3"/>
<line x1="84.6" y1="784.6" x2="84.6" y2="805.0"/>
</g>
<g stroke="#f0dc80" stroke-width="0.6" fill="none">
<rect x="99.5" y="759.7" width="17.0" height="9.6"/>
<line x1="99.5" y1="763.5" x2="116.5" y2="763.5" stroke-width="0.9"/>
<line x1="108.0" y1="753.0" x2="108.0" y2="759.7"/>
<line x1="108.0" y1="769.3" x2="108.0" y2="781.0"/>
</g>
<path d="M31.6 795.0h0M32.8 750.6h0M25.0 811.6h0M31.8 797.8h0M27.4 796.0h0M31.0 768.0h0M27.8 785.9h0M33.5 792.0h0M26.1 807.3h0M27.0 813.9h0M34.3 812.7h0M30.6 776.2h0M27.0 770.8h0M34.5 776.7h0M26.5 758.9h0M28.0 748.6h0M24.7 778.2h0M33.7 773.9h0M30.0 796.0h0M25.3 809.7h0M34.0 802.3h0M28.7 788.6h0M24.8 765.9h0M35.2 800.3h0M34.9 777.2h0M30.5 796.6h0M25.9 793.7h0M25.1 756.6h0M25.7 791.6h0M34.8 810.5h0M30.7 774.0h0M26.7 763.9h0M32.3 787.5h0M35.6 789.0h0M29.2 790.6h0M33.8 780.3h0M25.3 802.1h0M33.9 798.9h0M35.1 788.6h0M33.4 781.1h0M26.3 780.4h0M35.7 800.8h0M35.4 784.3h0M32.7 772.5h0M29.1 777.6h0M35.6 772.7h0M28.4 771.3h0M33.3 772.4h0M28.7 788.6h0M32.0 762.2h0M28.7 781.7h0M33.2 802.0h0M27.9 773.3h0M24.8 769.0h0M27.5 758.1h0M31.8 791.4h0M28.5 782.8h0M28.6 756.9h0M34.3 822.1h0M30.4 779.4h0M26.5 800.8h0M32.3 778.5h0M32.7 801.8h0M31.1 766.6h0M33.2 795.0h0M32.6 764.6h0M29.6 789.4h0M31.6 783.3h0M27.2 763.0h0M28.2 766.6h0M25.1 777.8h0M31.4 807.4h0M27.3 800.3h0M27.8 761.9h0M33.8 757.2h0M31.4 787.7h0M28.4 785.1h0M35.2 761.0h0M31.8 763.5h0M31.3 798.4h0M35.2 774.2h0M34.5 761.5h0M30.9 776.2h0M26.2 796.3h0M29.4 772.5h0M35.4 812.7h0M34.8 775.8h0M27.6 769.5h0M28.2 785.4h0M30.1 783.6h0M26.0 773.3h0M33.3 789.3h0M24.8 779.8h0M33.3 771.1h0M26.4 819.7h0M27.9 763.7h0M31.3 788.4h0M26.0 779.2h0M28.4 786.8h0M29.8 799.7h0M31.2 770.1h0M29.7 802.6h0M34.5 810.9h0M29.4 787.4h0M32.5 752.2h0M28.9 806.1h0M26.9 804.8h0M25.4 788.8h0M32.3 772.2h0M33.3 795.7h0M30.7 774.8h0M26.4 798.4h0M33.6 768.8h0M33.7 783.2h0M32.6 782.1h0M35.7 812.5h0M27.1 793.7h0M35.2 793.3h0M34.8 791.6h0M29.3 792.3h0M25.2 777.8h0M25.5 789.5h0M32.9 794.3h0M26.2 773.9h0M31.3 811.3h0M28.8 796.8h0M26.4 752.1h0M30.8 783.8h0M27.6 784.3h0M30.4 769.1h0M28.8 810.0h0M26.7 781.4h0M32.0 762.5h0M31.2 807.6h0M30.0 802.8h0M25.0 779.8h0M25.3 812.1h0M32.2 762.0h0M35.4 788.5h0M31.6 769.1h0M28.4 777.6h0M28.5 763.2h0M33.8 790.4h0M34.1 769.9h0M31.2 784.1h0M25.8 767.1h0M25.1 770.0h0M30.0 801.9h0M34.5 785.0h0M29.4 761.0h0M26.4 777.5h0M28.9 791.6h0M27.8 772.2h0M27.3 756.9h0M34.9 811.3h0M32.3 794.4h0M29.9 801.4h0M27.9 800.0h0M32.7 767.1h0M25.0 759.7h0M29.1 776.5h0M29.8 798.9h0M32.6 769.4h0M32.1 794.8h0M31.8 813.5h0M24.8 801.8h0M29.2 787.9h0M35.6 781.1h0M25.5 790.4h0M30.1 795.6h0M25.3 758.6h0M27.5 773.4h0M25.3 813.3h0M26.7 788.7h0M29.1 796.2h0M25.9 791.6h0M34.8 791.5h0M24.9 776.8h0M30.1 770.0h0M32.7 799.7h0M28.1 804.6h0M27.2 773.7h0M25.7 790.5h0M26.1 769.7h0M25.6 789.6h0M27.4 797.0h0M25.2 772.2h0M28.8 780.2h0M28.2 773.2h0M30.8 770.6h0M31.0 804.0h0M31.9 764.1h0M32.7 782.0h0M28.9 759.0h0M26.6 795.6h0M27.8 800.8h0M30.8 758.0h0M26.1 806.6h0M35.1 812.3h0M27.2 776.7h0M28.3 790.1h0M33.8 800.2h0M26.6 795.4h0M29.6 787.1h0M28.2 777.8h0M29.8 781.5h0M33.1 746.2h0M31.3 803.9h0M29.3 813.7h0M25.1 776.9h0M30.0 776.8h0M27.7 788.7h0M28.6 791.5h0M27.4 769.9h0M35.5 797.2h0M29.1 804.9h0M30.1 765.2h0M25.8 768.1h0M34.6 802.8h0M28.3 798.7h0M33.5 755.6h0M30.3 769.1h0M26.7 774.0h0M25.0 778.0h0M29.9 750.7h0M33.7 810.3h0M32.3 758.9h0M28.7 778.9h0M32.2 783.7h0M25.7 789.8h0M33.1 790.9h0M28.1 781.3h0M25.5 808.5h0M32.1 803.3h0M33.9 771.2h0M31.4 786.0h0M34.6 813.5h0M30.7 755.2h0M29.0 794.2h0M34.6 773.8h0M25.9 775.3h0M30.8 763.0h0M27.0 771.1h0M31.5 807.3h0M26.5 786.1h0M25.4 774.4h0M33.8 782.9h0M29.4 769.6h0M34.7 771.8h0M31.4 786.4h0M26.0 788.4h0M31.3 766.4h0M31.2 776.1h0M25.4 805.1h0M35.2 806.0h0M31.8 762.5h0M27.2 794.2h0M25.8 764.4h0M25.7 791.9h0M25.9 770.6h0M32.8 792.8h0M34.9 762.6h0M31.6 790.6h0M25.4 777.5h0M29.7 789.2h0M32.9 779.2h0M30.7 762.1h0M31.3 796.0h0M30.2 790.5h0M33.1 783.0h0M28.0 783.7h0M28.6 797.8h0M27.9 796.8h0M33.4 777.8h0M28.0 805.9h0M30.4 780.2h0M27.3 795.7h0M25.8 814.1h0M30.7 811.0h0M25.7 803.6h0M24.8 790.3h0M28.7 770.1h0M29.7 786.0h0M25.3 813.5h0M29.6 760.1h0M27.8 778.1h0M25.3 801.7h0M29.5 768.5h0M34.6 782.3h0M25.0 781.9h0M29.2 800.3h0M28.9 755.4h0M33.0 800.6h0M29.3 806.0h0M35.6 780.3h0M27.7 772.2h0M32.0 765.2h0M29.7 777.9h0M34.6 786.0h0M33.8 787.7h0M31.3 769.2h0M34.8 794.4h0M29.4 800.2h0M28.8 786.9h0M26.4 808.1h0M25.7 793.6h0M28.8 783.7h0M31.1 781.3h0M27.4 783.5h0M32.7 783.9h0M32.5 801.3h0M29.3 803.8h0M31.4 801.6h0M25.1 775.7h0M24.9 782.0h0M31.9 791.1h0M28.8 776.9h0M35.1 750.6h0M28.0 810.9h0M25.6 799.2h0M30.5 810.5h0M28.0 788.9h0M28.6 789.0h0M27.0 758.6h0M25.7 763.6h0M35.3 771.5h0M33.3 777.8h0M27.6 774.5h0M31.6 770.8h0M34.3 808.8h0M26.6 758.1h0M32.8 774.4h0M24.8 804.4h0M30.1 804.4h0M26.0 789.9h0M31.4 791.5h0M25.9 796.0h0M25.7 782.6h0M31.8 821.0h0M32.6 793.6h0M34.0 800.3h0M27.5 755.1h0M33.0 798.7h0M26.4 770.8h0M35.1 760.3h0M28.6 780.5h0M31.5 775.3h0M26.6 784.5h0M32.3 789.4h0M34.7 771.1h0M30.1 800.5h0M32.0 802.1h0M33.9 761.5h0M27.6 808.4h0M27.6 773.8h0M31.7 804.1h0M28.4 792.9h0M34.0 802.2h0M25.2 769.1h0M32.7 779.5h0M28.3 758.9h0M32.6 807.2h0M25.4 765.8h0M35.1 799.2h0M34.6 797.3h0M27.2 788.9h0M27.9 785.7h0M35.0 794.5h0M29.8 801.1h0M26.0 823.3h0M30.7 771.3h0M30.8 807.2h0M29.4 785.9h0M34.8 793.0h0M34.8 803.7h0M30.5 758.2h0M35.0 781.6h0M34.8 772.7h0M32.9 783.2h0M33.0 785.0h0M26.2 796.7h0M32.7 814.9h0M26.2 760.4h0M29.6 790.6h0M32.4 789.8h0M27.5 758.1h0M32.6 800.8h0M28.4 778.0h0M31.7 807.4h0M34.8 775.0h0M34.3 780.2h0M29.3 800.2h0M33.0 800.8h0M24.7 773.8h0M32.0 805.3h0M32.1 798.9h0M30.3 812.1h0M31.5 794.5h0M24.7 799.8h0M33.2 802.9h0M30.0 767.2h0M35.4 790.0h0M27.3 776.4h0M31.8 771.4h0M24.8 773.0h0M31.1 769.0h0M28.1 784.6h0M28.8 785.8h0M32.2 770.6h0M33.9 758.4h0M24.9 768.8h0M25.9 781.3h0M33.5 786.3h0M25.0 787.3h0M33.9 764.2h0M32.6 782.8h0M34.4 783.0h0M26.9 775.4h0M25.8 760.4h0M27.1 780.7h0M28.0 778.1h0M35.2 790.8h0M32.3 779.2h0M29.7 756.6h0M29.7 774.6h0M32.2 757.1h0M34.3 789.2h0M32.0 770.0h0M34.4 775.9h0M28.3 795.9h0M33.2 787.0h0M33.9 760.7h0M31.4 763.6h0M27.9 763.9h0M29.4 755.4h0M30.7 788.4h0M33.9 810.5h0M25.6 755.4h0M25.3 785.7h0M33.5 810.1h0M31.4 767.9h0M26.6 781.4h0M33.8 772.7h0M33.7 787.2h0M27.1 779.5h0M32.7 774.2h0M34.1 781.3h0M28.1 798.0h0M25.6 797.7h0M34.8 802.4h0M29.9 764.1h0M27.8 759.3h0M32.1 772.4h0M25.7 810.9h0M27.9 775.7h0M35.1 775.5h0M27.0 789.6h0M29.8 806.7h0M28.3 755.9h0M25.3 772.1h0M27.6 793.9h0M30.2 785.4h0M34.0 764.1h0M31.5 780.6h0M26.1 807.7h0M28.1 791.2h0M31.2 781.8h0M32.8 761.5h0M33.0 791.6h0M25.4 792.6h0M27.8 801.2h0M26.5 796.6h0M30.3 788.5h0M34.0 790.4h0M29.9 792.5h0M25.9 777.3h0M28.8 818.3h0M29.0 772.5h0M35.7 799.8h0M32.7 771.7h0M26.6 810.9h0M29.1 792.2h0M29.5 773.2h0M25.1 788.5h0M31.9 785.0h0M31.1 806.2h0M28.1 791.7h0M26.5 769.8h0M25.2 771.4h0M30.5 768.5h0M35.6 788.0h0M25.1 766.5h0M35.5 769.9h0M25.4 814.7h0M32.8 801.3h0M33.9 784.7h0M27.7 765.5h0M32.6 755.6h0M28.1 794.1h0M34.1 781.2h0M30.8 789.4h0M27.8 770.6h0M29.7 759.8h0M27.4 812.4h0M30.1 752.2h0M32.9 778.4h0M28.2 798.5h0M34.1 782.6h0M24.8 793.2h0M27.2 773.1h0M27.2 794.9h0M31.1 798.8h0M27.0 799.7h0M32.5 798.6h0M30.1 769.2h0M25.6 782.9h0M30.7 799.5h0M28.5 786.3h0M33.9 788.6h0M31.4 768.3h0M28.1 783.2h0M31.3 795.9h0M30.9 761.1h0M34.9 784.9h0M27.9 771.2h0M26.5 809.6h0M25.6 796.7h0M31.6 768.7h0M27.8 797.1h0M29.6 783.8h0M30.0 795.0h0M32.6 787.2h0M33.2 781.6h0M30.3 782.1h0M28.3 771.0h0M31.5 800.3h0M34.9 779.1h0M27.2 762.3h0M31.5 800.3h0M27.2 786.4h0M32.6 750.2h0M29.6 792.1h0M35.6 797.8h0M35.2 801.6h0M31.9 792.3h0M26.3 791.9h0M32.4 756.2h0M33.5 799.5h0M34.7 791.2h0M33.0 801.2h0M30.5 765.5h0M32.6 762.2h0M30.1 794.4h0M30.9 812.6h0M28.2 757.5h0M26.8 782.8h0M33.6 795.0h0M31.0 797.4h0M29.9 770.5h0M28.7 762.2h0M26.3 801.1h0M35.1 770.0h0M27.9 777.6h0M30.5 763.6h0M33.3 781.4h0M33.1 786.0h0M34.3 811.8h0M25.2 784.0h0M27.6 785.5h0M32.6 785.6h0M28.1 809.6h0M34.7 814.2h0M30.8 760.0h0M29.4 783.4h0M29.7 811.9h0M29.9 801.7h0M27.4 761.2h0M27.3 771.8h0M32.1 772.4h0M30.4 763.8h0M25.0 779.3h0M24.8 779.3h0M28.2 767.6h0M34.1 759.1h0M25.6 794.3h0M31.1 797.8h0M25.2 805.4h0M25.3 805.2h0M31.2 769.1h0M25.4 776.4h0M26.7 808.7h0M34.6 802.0h0M26.2 796.4h0M34.4 813.8h0M28.3 772.1h0M33.9 784.2h0M27.8 779.2h0M34.7 798.4h0M28.5 768.5h0M30.4 771.0h0M29.2 788.4h0M31.3 788.4h0M34.4 766.8h0M32.8 783.5h0M31.5 798.3h0M29.4 768.2h0M25.9 812.1h0M35.2 779.7h0M27.8 775.8h0M34.4 785.4h0M25.2 768.3h0M31.7 772.9h0M28.0 767.7h0M32.2 811.8h0M29.5 784.7h0M34.9 762.6h0M32.5 780.0h0M26.4 796.2h0M28.3 756.6h0M24.9 770.9h0M28.6 795.6h0M34.7 793.7h0M26.7 829.2h0M31.8 808.3h0M31.4 803.3h0M27.9 806.7h0M32.8 770.9h0M28.3 775.7h0M30.9 770.8h0M27.6 761.5h0M31.1 805.7h0M34.1 782.1h0M30.2 783.3h0M28.8 778.2h0M35.2 781.5h0M32.9 768.3h0M26.0 798.9h0M28.5 803.9h0M32.9 774.6h0M29.0 800.6h0M27.1 781.0h0M24.7 773.7h0M33.4 795.8h0M32.7 789.8h0M28.0 787.9h0M31.4 783.9h0M31.3 794.1h0M31.6 771.0h0M32.2 757.2h0M26.6 796.2h0M31.9 804.0h0M28.3 800.1h0M32.2 808.4h0M25.0 804.4h0M26.8 761.0h0M30.6 774.5h0M31.8 804.5h0M28.4 762.5h0M32.2 806.0h0M26.3 812.0h0M30.2 778.7h0M28.8 794.2h0M26.8 801.8h0M27.6 769.8h0M34.7 788.8h0M35.2 805.2h0M26.3 792.8h0M25.2 777.4h0M27.5 759.4h0M30.9 776.9h0M30.5 803.1h0M31.0 759.3h0M25.8 806.9h0M33.9 808.6h0M31.4 774.1h0M32.4 761.8h0M33.1 773.3h0M28.7 787.2h0M29.8 814.2h0M35.5 766.8h0M32.7 783.4h0M32.2 790.7h0M26.9 787.7h0M29.4 805.8h0M27.6 761.4h0M28.2 811.2h0M28.7 807.9h0M26.7 765.0h0M27.4 765.0h0M32.2 781.6h0M27.9 763.5h0M26.0 759.5h0M30.4 801.3h0M27.6 817.5h0M27.2 773.4h0M29.9 766.8h0M27.5 789.2h0M28.7 780.8h0M25.0 780.0h0M28.8 769.7h0M24.8 808.6h0M35.2 777.1h0M35.7 766.2h0M29.8 811.4h0M30.8 777.2h0M30.1 805.7h0M35.7 789.3h0M25.5 804.6h0M30.8 761.0h0M27.5 763.6h0M32.9 765.0h0M31.5 805.0h0M31.9 783.6h0M32.7 783.3h0M28.9 809.7h0M29.5 800.6h0M31.6 767.6h0M31.1 786.2h0M28.8 780.2h0M34.9 796.3h0M27.8 785.5h0M26.5 758.9h0M31.9 801.3h0M28.9 773.0h0M30.8 787.4h0M30.2 781.6h0M33.9 779.7h0M31.6 794.7h0M28.0 779.4h0M31.6 772.0h0M30.9 798.4h0M27.4 810.3h0M26.3 783.9h0M29.7 765.6h0M35.2 763.6h0M32.8 766.7h0M33.2 802.4h0M27.0 743.3h0M31.3 816.7h0M32.0 781.5h0M32.5 760.3h0M35.6 781.8h0M32.4 780.6h0M33.3 765.3h0M34.9 759.5h0M26.3 792.8h0M32.5 789.2h0M32.2 782.8h0M27.3 790.7h0M33.3 769.2h0M29.1 774.5h0M29.9 792.4h0M33.5 795.2h0M33.7 808.3h0M35.0 792.5h0M28.9 787.9h0M34.2 793.7h0M33.5 765.9h0M33.5 777.7h0M27.2 762.6h0M35.5 787.6h0M30.7 787.0h0M35.3 786.2h0M27.6 774.2h0M32.1 801.9h0M29.0 775.5h0M28.0 774.8h0M26.1 800.6h0M27.3 784.6h0M34.1 773.3h0M30.2 767.6h0M29.1 763.7h0M31.4 809.9h0M35.3 781.1h0M28.4 810.0h0M29.4 785.1h0M33.0 764.1h0M28.8 761.6h0M25.1 773.6h0M29.5 788.3h0M24.9 798.6h0M29.7 791.2h0M30.3 779.5h0M25.1 784.3h0M26.9 778.2h0M30.3 785.1h0M33.7 763.3h0M32.9 776.6h0M28.0 799.1h0M27.9 814.5h0M26.1 823.6h0M27.4 781.3h0M26.6 751.9h0M31.0 767.4h0M35.2 768.5h0M34.1 786.0h0M33.3 787.8h0M33.0 764.6h0M27.1 810.5h0M30.5 793.5h0M35.6 768.5h0M31.6 785.8h0M30.1 804.8h0M32.7 767.9h0M26.9 771.0h0M27.0 788.3h0M33.9 756.5h0M26.7 812.4h0M32.5 791.0h0M26.5 790.2h0M30.9 759.3h0M24.7 779.4h0M25.5 812.4h0M32.2 773.8h0M31.7 778.5h0M35.4 756.9h0M26.4 776.4h0M32.3 799.7h0M30.8 774.2h0M25.3 809.4h0M27.9 778.1h0M26.0 775.5h0M27.9 781.1h0M27.3 774.9h0M26.1 813.4h0M25.3 799.0h0M29.3 780.7h0M30.3 787.6h0M24.8 797.7h0M34.0 779.4h0M35.1 762.1h0M27.4 772.6h0M35.0 803.4h0M26.9 774.5h0M30.0 807.7h0M30.3 781.6h0M30.3 795.2h0M27.7 778.3h0M30.0 776.6h0M35.3 773.8h0M32.4 797.2h0M29.2 781.4h0M29.4 807.4h0M28.5 790.7h0M30.1 762.6h0M29.8 801.3h0M33.6 798.5h0M26.9 763.3h0M33.4 774.0h0M26.2 748.3h0M27.0 790.7h0M32.4 789.8h0M30.5 758.3h0M33.7 782.4h0M28.3 783.2h0M25.0 760.3h0M33.9 788.1h0M32.3 798.6h0M31.7 807.1h0M29.9 794.1h0M29.9 811.8h0M34.0 770.6h0M27.3 776.5h0M34.8 757.0h0M29.9 781.3h0M28.5 801.5h0M31.1 790.0h0M31.5 798.8h0M29.4 778.1h0M30.9 768.1h0M33.9 785.4h0M33.9 761.5h0M29.1 798.9h0M27.9 770.1h0M32.3 803.5h0M30.0 777.3h0M26.2 798.5h0M26.4 756.6h0M32.8 804.2h0M33.9 773.4h0M27.6 756.7h0M27.5 782.2h0M30.5 783.9h0M25.9 809.2h0M27.9 774.2h0M35.0 815.0h0M25.7 797.2h0M30.9 778.8h0M25.4 804.5h0M29.0 765.1h0M32.5 778.1h0M33.2 759.7h0M31.8 798.0h0M34.4 789.5h0M29.2 772.3h0M31.2 764.4h0M29.2 775.5h0M28.7 759.9h0M34.7 751.4h0M26.2 813.8h0M26.5 768.5h0M27.0 782.7h0M33.2 784.5h0M26.2 810.2h0M30.6 798.0h0M25.5 767.7h0M28.0 779.6h0M30.1 784.5h0M29.4 787.8h0M30.6 809.0h0M28.4 790.8h0M27.3 802.3h0M26.8 759.2h0M28.0 786.0h0M34.5 768.0h0M29.1 792.5h0M32.9 772.0h0M30.2 795.9h0M33.9 781.2h0M33.8 789.2h0M30.9 811.2h0M30.3 814.1h0M31.5 805.7h0M31.6 773.3h0M34.4 771.7h0M31.0 796.9h0M29.9 762.5h0M26.5 808.0h0M34.0 771.3h0M33.5 777.1h0M34.6 792.4h0M30.9 789.0h0M33.5 757.0h0M25.1 800.7h0M32.2 766.1h0M33.8 766.0h0M33.0 791.4h0M27.2 772.1h0M34.0 801.8h0M29.2 812.7h0M26.3 756.8h0M28.6 764.3h0M35.1 797.9h0M27.0 755.4h0M26.0 784.4h0M29.7 757.8h0M31.8 765.8h0M29.5 774.5h0M26.8 801.1h0M25.2 802.7h0M29.9 799.9h0M31.1 776.5h0M29.6 798.4h0M26.7 769.4h0M27.0 775.7h0M25.2 807.7h0M29.9 801.0h0M33.6 760.6h0M28.9 797.6h0M33.1 774.5h0M34.8 760.2h0M34.3 763.2h0M33.0 792.8h0M26.8 808.5h0M30.4 813.8h0M35.6 772.8h0M30.3 797.5h0M26.2 772.4h0M26.2 789.1h0M30.2 800.7h0M28.1 752.0h0M28.2 800.4h0M35.4 793.0h0M28.2 758.1h0M35.0 762.4h0M34.3 761.7h0M29.6 776.0h0M33.1 797.9h0M30.1 814.8h0M25.6 802.4h0M35.0 766.7h0M32.0 801.8h0M33.3 773.7h0M33.3 760.7h0M31.6 807.5h0M26.8 770.6h0M30.0 782.2h0M26.9 793.4h0M27.1 761.4h0M24.8 783.6h0M35.3 805.0h0M31.1 808.0h0M26.0 774.1h0M27.3 792.9h0M27.9 764.5h0M32.8 798.5h0M35.5 789.5h0M28.3 786.2h0M30.2 789.2h0M26.9 791.8h0M30.6 799.8h0M25.1 790.8h0M29.7 802.6h0M35.4 775.0h0M35.5 807.1h0M34.0 767.7h0M25.1 789.5h0M25.7 777.6h0M28.6 755.5h0M29.1 798.1h0M32.4 779.4h0M34.3 791.7h0M32.3 793.6h0M31.5 809.9h0M29.3 795.4h0M25.5 823.3h0M28.5 778.4h0M35.5 759.4h0M32.0 813.1h0M32.0 763.6h0M30.3 767.1h0M34.6 790.5h0M26.5 756.1h0M35.5 764.5h0M25.3 764.2h0M33.0 804.7h0M31.5 813.5h0M32.8 774.7h0M30.7 794.7h0M32.3 782.1h0M34.0 798.7h0M33.5 786.8h0M27.3 765.5h0M25.6 769.7h0M33.3 789.1h0M28.9 767.7h0M27.6 812.5h0M34.4 762.1h0M34.2 793.4h0M31.3 791.8h0M34.7 806.6h0M27.6 772.8h0M30.4 750.2h0M26.8 789.4h0M31.2 765.8h0M30.3 801.9h0M33.4 803.8h0M24.8 776.0h0M25.7 792.5h0M30.6 776.2h0M26.6 783.5h0M26.8 764.6h0M25.1 789.2h0M28.7 769.2h0M27.5 793.4h0M27.0 790.6h0M25.8 755.6h0M31.9 770.1h0M35.2 778.3h0M35.2 786.8h0M32.4 808.4h0M33.0 772.8h0M32.2 797.1h0M33.9 784.9h0M28.7 761.3h0M25.1 762.3h0M26.9 763.2h0M26.9 813.5h0M29.4 748.2h0M33.8 775.4h0M34.3 794.6h0M31.4 810.5h0M27.6 775.5h0M27.3 799.6h0M31.0 762.6h0M34.3 785.6h0M33.9 783.6h0M26.5 767.1h0M29.0 771.7h0M28.9 776.4h0M33.1 763.1h0M35.0 783.1h0M35.4 807.3h0M33.0 777.4h0M24.9 808.5h0M29.1 780.0h0M29.6 783.8h0M31.7 811.6h0M26.5 770.5h0M30.6 814.0h0M26.9 784.5h0M33.4 793.0h0M34.5 779.5h0M35.7 793.3h0M25.0 786.4h0M29.9 778.0h0M24.9 778.2h0M28.6 777.1h0M32.1 778.6h0M31.6 788.8h0M30.0 772.8h0M25.0 766.7h0M26.8 761.5h0M34.8 798.6h0M30.1 778.8h0M32.8 756.3h0M24.7 798.6h0M25.0 786.1h0M28.8 811.4h0M35.2 814.4h0M30.6 781.8h0M26.2 761.2h0M29.0 774.6h0M27.0 775.2h0M29.7 806.6h0M27.6 767.4h0M27.8 774.3h0M30.6 802.8h0M27.3 782.6h0M26.8 781.3h0M34.4 784.7h0M28.3 802.8h0M27.9 814.9h0M25.1 774.2h0M28.4 776.3h0M33.8 785.3h0M26.7 761.7h0M30.3 782.9h0M34.2 774.1h0M29.9 765.4h0M32.6 792.5h0M32.6 763.8h0M27.3 806.0h0M33.5 755.7h0M30.6 772.4h0M35.0 778.7h0M32.1 803.6h0M32.0 761.1h0M28.4 796.9h0M35.4 792.5h0M29.4 799.8h0M29.9 778.5h0M25.9 781.0h0M31.1 768.4h0M31.5 803.1h0M29.7 768.7h0M35.1 815.0h0M26.5 768.6h0M28.5 765.6h0M26.0 765.2h0M33.7 764.6h0M34.1 776.3h0M34.6 785.8h0M34.0 771.1h0M31.9 806.9h0M32.9 788.5h0M33.3 805.8h0M30.6 803.8h0M29.7 796.9h0M25.1 788.1h0M29.3 800.1h0M31.7 768.7h0M33.3 790.0h0M32.7 791.1h0M31.8 786.0h0M31.7 780.1h0M35.2 761.7h0M29.0 789.1h0M30.6 791.6h0M29.9 770.0h0M33.4 782.2h0M31.0 778.7h0M26.8 786.3h0M27.7 772.1h0M29.3 813.9h0M34.5 782.4h0M30.3 808.6h0M33.9 791.6h0M25.8 789.3h0M29.4 768.3h0M34.3 769.5h0M27.9 794.6h0M31.5 802.7h0M35.4 792.5h0M28.8 773.0h0M35.3 783.5h0M34.2 756.3h0M31.3 787.0h0M25.1 787.2h0M27.4 764.9h0M27.1 753.8h0M30.7 774.6h0M35.1 773.8h0M35.3 805.6h0M33.1 769.0h0M25.3 806.3h0M25.6 797.4h0M25.9 742.7h0M25.6 805.8h0M26.2 802.2h0M29.3 783.5h0M31.7 779.1h0M25.2 769.8h0M33.0 796.4h0M27.7 764.5h0M25.6 797.9h0M32.5 806.1h0M27.4 772.0h0M32.8 755.9h0M34.7 807.3h0M35.1 786.7h0M25.5 806.0h0M31.6 766.5h0M25.5 784.3h0M33.8 765.1h0M30.9 786.5h0M29.7 789.9h0M27.6 794.9h0M29.3 782.0h0M28.5 782.2h0M35.0 781.8h0M35.5 796.6h0M28.7 783.3h0M25.4 773.6h0M35.6 811.1h0M30.4 771.5h0M31.9 763.3h0M32.5 808.0h0M31.4 775.7h0M27.3 774.9h0M27.0 790.5h0M30.2 771.3h0M33.1 783.9h0M25.9 813.7h0M29.5 759.4h0M26.5 817.0h0M29.1 770.0h0M27.1 793.3h0M26.8 794.8h0M34.2 774.8h0M34.8 800.9h0M28.2 783.7h0M34.1 767.3h0M31.7 789.6h0M28.1 815.4h0M25.9 782.9h0M32.6 774.5h0M32.6 804.5h0M34.5 778.4h0M28.5 771.6h0M26.5 775.4h0M24.9 785.0h0M34.5 782.0h0M34.4 809.1h0M26.7 775.4h0M33.5 778.9h0M33.7 768.6h0M35.6 790.7h0M29.4 812.2h0M34.7 785.9h0M28.6 791.2h0M33.5 809.9h0M33.0 788.9h0M33.1 752.8h0M32.5 767.0h0M34.7 807.1h0M32.6 808.2h0M32.6 775.6h0M32.2 759.5h0M28.2 770.4h0M35.3 774.6h0M30.2 795.0h0M25.7 760.5h0M26.1 787.5h0M33.4 808.2h0M30.2 789.4h0M28.4 764.7h0M33.4 801.7h0M33.1 810.9h0M25.5 814.4h0M25.5 779.5h0M35.6 780.2h0M33.4 753.4h0M29.4 776.8h0M25.5 790.9h0M27.8 782.0h0M27.2 808.3h0M24.8 768.2h0M28.7 783.9h0M29.4 791.5h0M32.9 762.6h0M32.4 800.4h0M30.8 775.6h0M35.0 767.8h0M31.9 811.3h0M34.3 808.6h0M27.8 783.8h0M35.5 807.0h0M32.2 798.5h0M25.7 779.4h0M33.6 826.4h0M32.8 818.6h0M31.3 821.4h0M34.3 822.8h0M29.2 824.3h0M33.3 823.3h0M28.8 823.7h0M31.0 816.4h0M27.7 816.9h0M30.3 816.5h0M33.1 822.7h0M26.2 824.1h0M33.3 815.4h0M32.8 821.2h0M34.6 826.9h0M31.5 825.3h0M26.8 824.6h0M32.4 824.7h0M29.7 818.1h0M28.9 817.2h0M32.0 823.8h0M31.5 825.2h0M27.9 822.9h0M33.5 823.2h0M26.6 818.7h0M28.1 819.1h0M32.2 819.9h0M27.0 827.3h0M31.1 826.8h0M29.4 816.5h0M25.5 826.9h0M25.0 816.0h0M31.3 820.3h0M25.1 819.4h0M31.2 817.1h0M28.8 818.2h0M30.3 826.5h0M31.2 824.8h0M33.7 815.2h0M25.8 825.6h0M27.0 834.0h0M30.0 836.0h0M28.0 848.0h0M32.0 830.0h0" stroke="#a462a4" stroke-opacity="0.9" stroke-width="1.6" stroke-linecap="round" fill="none"/>
<path d="M53.4 784.8h0M50.3 782.4h0M56.2 761.9h0M58.2 754.9h0M53.9 783.3h0M50.5 770.4h0M55.6 771.6h0M51.2 767.8h0M55.2 767.8h0M51.0 757.9h0M57.9 780.9h0M59.9 748.4h0M53.4 783.9h0M49.5 770.2h0M59.0 768.3h0M53.0 776.9h0M51.9 784.5h0M57.4 772.7h0M47.6 770.8h0M47.2 754.2h0M53.6 780.8h0M52.1 785.2h0M56.4 772.1h0M47.6 754.8h0M53.5 760.0h0M51.7 788.0h0M58.3 789.6h0M56.5 765.9h0M57.8 784.9h0M52.8 774.4h0M59.7 758.3h0M55.8 787.5h0M48.8 787.3h0M59.9 785.5h0M52.8 763.4h0M56.2 758.3h0M47.4 768.0h0M56.4 777.1h0M59.5 780.3h0M53.7 763.7h0M55.2 772.8h0M52.9 770.6h0M53.6 768.9h0M60.0 776.1h0M50.6 772.8h0M50.7 752.6h0M50.2 762.7h0M59.6 774.1h0M54.1 770.5h0M50.4 787.4h0M54.9 786.6h0M54.6 779.9h0M51.1 776.1h0M51.4 757.9h0M48.2 771.7h0M49.5 766.9h0M50.2 777.7h0M54.6 764.8h0M55.7 757.0h0M52.2 754.2h0M48.5 783.0h0M58.6 780.1h0M57.7 787.2h0M49.9 783.5h0M47.6 761.5h0M57.0 774.8h0M47.1 772.0h0M54.8 783.7h0M52.3 774.3h0M50.4 760.0h0M57.2 761.0h0M48.8 766.6h0M49.0 787.3h0M54.8 776.2h0M57.8 787.9h0M49.2 768.6h0M59.5 780.0h0M56.4 769.5h0M53.0 759.5h0M49.1 762.0h0M59.0 789.8h0M51.4 760.5h0M52.5 771.8h0M50.3 773.2h0M55.2 783.8h0M54.6 769.7h0M49.8 755.7h0M56.7 770.7h0M59.8 764.1h0M58.9 763.7h0M58.5 769.3h0M50.7 765.9h0M47.1 773.5h0M59.0 776.0h0M58.3 761.6h0M55.6 752.5h0M56.1 776.3h0M48.3 767.0h0M58.7 759.8h0M58.6 755.6h0M50.2 760.5h0M54.8 773.5h0M48.9 763.3h0M50.4 780.5h0M51.7 759.0h0M54.7 753.7h0M51.9 773.0h0M51.6 777.1h0M58.7 765.4h0M51.3 742.1h0M50.0 812.0h0M53.0 817.0h0M56.0 800.0h0" stroke="#ecca38" stroke-opacity="0.9" stroke-width="1.6" stroke-linecap="round" fill="none"/>
<path d="M86.9 781.9h0M84.2 789.0h0M80.8 775.8h0M79.1 768.9h0M81.8 791.4h0M80.1 780.8h0M85.0 783.3h0M87.8 787.6h0M80.6 798.6h0M90.6 803.0h0M85.7 781.2h0M88.7 757.7h0M87.9 762.3h0M87.5 779.2h0M84.8 770.0h0M82.8 772.7h0M81.4 794.6h0M80.6 783.2h0M84.0 753.0h0M83.3 758.0h0M90.4 769.2h0M90.2 788.2h0M87.2 783.5h0M87.3 768.8h0M81.8 778.5h0M83.6 755.0h0M90.5 798.9h0M89.3 761.9h0M81.4 763.7h0M86.0 775.7h0M80.7 765.3h0M86.8 761.9h0M79.6 790.4h0M84.0 775.3h0M87.1 799.8h0M86.6 795.7h0M82.7 783.5h0M90.4 767.4h0M79.8 755.9h0M84.3 770.9h0M83.0 786.7h0M80.4 791.2h0M84.6 768.7h0M88.2 779.9h0M90.2 774.3h0M86.8 793.4h0M89.2 778.6h0M84.3 785.8h0M80.9 765.0h0M83.8 767.8h0M90.0 776.1h0M86.2 784.0h0M85.5 784.1h0M88.2 772.5h0M83.2 792.5h0M87.5 767.7h0M84.7 803.6h0M79.1 769.9h0M90.2 800.8h0M87.3 804.4h0M84.0 790.2h0M87.0 752.5h0M82.5 780.5h0M88.9 783.5h0M89.0 768.5h0M81.3 781.9h0M82.2 766.8h0M81.6 783.4h0M89.2 798.1h0M83.6 787.0h0M82.0 754.9h0M82.9 788.7h0M87.6 800.9h0M86.7 785.1h0M87.8 767.2h0M86.6 768.0h0M79.2 781.8h0M89.9 801.3h0M83.3 786.8h0M82.2 786.8h0M82.7 767.4h0M89.4 777.5h0M80.2 771.9h0M88.5 773.7h0M86.5 770.2h0M86.7 784.1h0M87.4 804.9h0M89.5 780.3h0M80.0 786.4h0M85.2 784.3h0M82.0 789.6h0M87.8 768.0h0M83.4 789.8h0M85.9 778.8h0M89.1 785.3h0M79.9 786.6h0M84.7 780.5h0M83.1 787.8h0M82.6 793.6h0M79.5 790.8h0M84.5 775.3h0M80.7 790.1h0M82.5 762.7h0M86.2 776.2h0M83.9 761.3h0M87.5 796.7h0M84.5 798.0h0M79.3 771.2h0M79.9 776.7h0M82.2 781.7h0M81.0 776.5h0M87.1 769.8h0M90.4 764.9h0M90.2 794.0h0M83.6 761.2h0M89.4 757.8h0M79.4 803.5h0M87.2 783.9h0M83.9 770.4h0M89.7 768.7h0M79.3 790.6h0M80.1 780.5h0M83.1 773.4h0M86.8 784.2h0M85.8 769.4h0M81.9 777.5h0M89.9 754.8h0M84.0 785.3h0M86.0 794.7h0M79.4 772.1h0M82.9 770.1h0M80.0 763.2h0M79.0 796.2h0M87.7 789.1h0M81.7 798.7h0M80.9 788.6h0M84.2 755.7h0M89.6 784.0h0M84.1 804.4h0M82.3 804.3h0M82.9 763.7h0M82.6 788.9h0M80.1 804.3h0M84.3 768.4h0M84.8 776.3h0M85.0 754.5h0M86.8 786.8h0M79.8 766.7h0M89.1 772.6h0M80.2 756.1h0M84.0 804.5h0M79.8 759.4h0M82.3 795.1h0M88.5 777.6h0M80.0 778.1h0M88.4 750.9h0M80.9 786.8h0M85.1 783.6h0M86.3 775.5h0M79.1 782.7h0M87.2 781.2h0M88.8 765.4h0M84.3 757.5h0M83.1 763.8h0M86.5 775.5h0M81.5 777.8h0M84.7 779.2h0M90.5 765.9h0M83.3 752.8h0M82.9 777.6h0M84.3 763.6h0M84.6 785.4h0M82.7 775.5h0M88.1 785.1h0M86.5 773.6h0M80.4 778.1h0M86.5 790.8h0M89.6 790.0h0M87.6 780.3h0M87.6 768.3h0M89.7 754.6h0M87.5 803.2h0M78.9 769.1h0M89.7 784.8h0M85.7 800.7h0M79.7 791.6h0M87.8 798.1h0M80.9 754.1h0M88.6 784.3h0M84.4 777.6h0M88.2 770.4h0M85.1 791.5h0M82.7 766.0h0M79.1 785.2h0M86.6 752.5h0M83.5 783.0h0M88.4 776.9h0M82.8 803.2h0M88.8 807.3h0M80.1 780.7h0M83.0 792.2h0M78.9 795.1h0M79.1 788.4h0M85.9 797.0h0M80.1 792.9h0M88.8 759.0h0M88.4 760.7h0M88.4 766.5h0M88.6 758.4h0M88.2 781.4h0M80.1 779.0h0M85.5 767.0h0M79.8 777.1h0M90.5 786.3h0M86.5 768.5h0M86.7 763.9h0M81.0 768.0h0M89.3 755.2h0M87.5 754.6h0M81.7 778.5h0M85.7 787.6h0M84.0 761.9h0M85.3 773.8h0M81.3 756.5h0M83.4 774.2h0M90.2 775.8h0M85.8 773.5h0M89.1 802.8h0M85.7 771.7h0M87.3 795.9h0M88.8 797.1h0M80.1 788.7h0M90.0 792.7h0M86.2 789.5h0M88.9 762.5h0M78.7 760.7h0M89.0 769.3h0M86.4 791.3h0M83.5 780.3h0M85.2 803.6h0M88.5 781.3h0M85.9 760.5h0M83.7 787.1h0M84.6 754.1h0M82.4 764.1h0M86.3 799.1h0M89.1 778.9h0M81.8 774.1h0M79.2 788.4h0M88.8 761.2h0M81.5 766.7h0M84.3 784.5h0M87.4 758.7h0M85.2 765.4h0M83.7 793.9h0M86.0 771.4h0M80.0 769.8h0M85.6 764.1h0M87.9 787.4h0M87.8 792.1h0M81.0 815.0h0M88.0 829.0h0" stroke="#a462a4" stroke-opacity="0.9" stroke-width="1.6" stroke-linecap="round" fill="none"/>
<path d="M102.2 761.9h0M110.7 772.9h0M109.6 771.6h0M113.4 758.8h0M110.0 764.9h0M102.6 764.3h0M103.7 761.4h0M107.9 764.1h0M105.9 754.6h0M112.3 778.4h0M107.1 768.4h0M102.9 768.9h0M106.4 770.6h0M105.0 767.9h0M105.4 770.3h0M112.5 767.6h0M108.5 773.2h0M113.2 762.8h0M114.0 766.4h0M111.9 766.4h0M111.0 750.5h0M108.5 775.3h0M103.2 769.5h0M103.3 773.2h0M103.9 766.2h0M113.3 767.6h0M104.1 767.1h0M109.8 759.4h0M112.0 775.2h0M108.9 753.8h0M107.8 779.6h0M102.6 773.2h0M105.8 766.2h0M106.6 755.0h0M109.1 760.8h0" stroke="#ecca38" stroke-opacity="0.9" stroke-width="1.6" stroke-linecap="round" fill="none"/>
<line x1="15.3" y1="744.7" x2="15.3" y2="852.5" stroke="#333" stroke-width="0.9" />
<line x1="15.3" y1="852.5" x2="67.4" y2="852.5" stroke="#333" stroke-width="0.9" />
<line x1="70.5" y1="852.5" x2="122.2" y2="852.5" stroke="#333" stroke-width="0.9" />
<line x1="13.8" y1="762.1" x2="15.3" y2="762.1" stroke="#444" stroke-width="0.5" />
<text x="12.8" y="763.6" font-size="4.5" fill="#555" text-anchor="end" >0.8</text>
<line x1="13.8" y1="793.4" x2="15.3" y2="793.4" stroke="#444" stroke-width="0.5" />
<text x="12.8" y="794.9" font-size="4.5" fill="#555" text-anchor="end" >0.7</text>
<line x1="13.8" y1="824.9" x2="15.3" y2="824.9" stroke="#444" stroke-width="0.5" />
<text x="12.8" y="826.4" font-size="4.5" fill="#555" text-anchor="end" >0.6</text>
<text x="0.0" y="0.0" font-size="5.5" fill="#000" text-anchor="middle" font-weight="bold" transform="translate(4.5,797) rotate(-90)">cg24833881</text>
<text x="41.9" y="749.2" font-size="4.9" fill="#333" text-anchor="middle" >1.67e-07</text>
<path d="M30.2,752.5 L30.2,750.5 L53.5,750.5 L53.5,752.5" fill="none" stroke="#777" stroke-width="0.5"/>
<text x="96.3" y="749.2" font-size="4.9" fill="#333" text-anchor="middle" >0.0106</text>
<path d="M84.6,752.5 L84.6,750.5 L108.0,750.5 L108.0,752.5" fill="none" stroke="#777" stroke-width="0.5"/>
<line x1="30.2" y1="852.0" x2="30.2" y2="853.5" stroke="#444" stroke-width="0.5" />
<text x="30.2" y="858.3" font-size="5" fill="#777" text-anchor="middle" >CMV+</text>
<line x1="53.5" y1="852.0" x2="53.5" y2="853.5" stroke="#444" stroke-width="0.5" />
<text x="53.5" y="858.3" font-size="5" fill="#777" text-anchor="middle" >CMV-</text>
<line x1="84.6" y1="852.0" x2="84.6" y2="853.5" stroke="#444" stroke-width="0.5" />
<text x="84.6" y="858.3" font-size="5" fill="#777" text-anchor="middle" >CMV+</text>
<line x1="108.0" y1="852.0" x2="108.0" y2="853.5" stroke="#444" stroke-width="0.5" />
<text x="108.0" y="858.3" font-size="5" fill="#777" text-anchor="middle" >CMV-</text>
<text x="68.8" y="864.0" font-size="5.8" fill="#000" text-anchor="middle" font-weight="bold" >CMV_IgG_Serology</text>
<text x="153.6" y="733.2" font-size="11" fill="#000" text-anchor="start" textLength="76.7" lengthAdjust="spacingAndGlyphs" >Gene expression</text>
<rect x="145.4" y="738.6" width="52.2" height="8.6" fill="#fff" stroke="#333" stroke-width="0.7"/>
<text x="171.5" y="745.4" font-size="4.6" fill="#333" text-anchor="middle" >Discovery</text>
<rect x="200.2" y="738.6" width="52.5" height="8.6" fill="#fff" stroke="#333" stroke-width="0.7"/>
<text x="226.4" y="745.4" font-size="4.6" fill="#333" text-anchor="middle" >Validation</text>
<g stroke="#d2b0d2" stroke-width="0.6" fill="none">
<rect x="151.2" y="819.3" width="16.7" height="17.4"/>
<line x1="151.2" y1="829.0" x2="167.9" y2="829.0" stroke-width="0.9"/>
<line x1="159.6" y1="795.0" x2="159.6" y2="819.3"/>
<line x1="159.6" y1="836.7" x2="159.6" y2="848.0"/>
</g>
<g stroke="#f0dc80" stroke-width="0.6" fill="none">
<rect x="174.5" y="830.6" width="16.9" height="11.2"/>
<line x1="174.5" y1="837.1" x2="191.4" y2="837.1" stroke-width="0.9"/>
<line x1="182.9" y1="815.0" x2="182.9" y2="830.6"/>
<line x1="182.9" y1="841.8" x2="182.9" y2="848.0"/>
</g>
<g stroke="#d2b0d2" stroke-width="0.6" fill="none">
<rect x="206.3" y="818.3" width="17.4" height="18.4"/>
<line x1="206.3" y1="828.1" x2="223.7" y2="828.1" stroke-width="0.9"/>
<line x1="215.0" y1="795.0" x2="215.0" y2="818.3"/>
<line x1="215.0" y1="836.7" x2="215.0" y2="848.0"/>
</g>
<g stroke="#f0dc80" stroke-width="0.6" fill="none">
<rect x="229.6" y="836.3" width="17.6" height="8.2"/>
<line x1="229.6" y1="841.8" x2="247.2" y2="841.8" stroke-width="0.9"/>
<line x1="238.4" y1="826.0" x2="238.4" y2="836.3"/>
<line x1="238.4" y1="844.5" x2="238.4" y2="848.0"/>
</g>
<path d="M155.2 842.4h0M158.3 823.2h0M156.0 807.9h0M165.0 823.5h0M155.9 846.8h0M158.3 822.6h0M160.8 806.7h0M161.6 843.6h0M164.8 827.9h0M154.9 808.9h0M162.6 811.3h0M162.9 817.4h0M156.6 830.0h0M157.4 827.6h0M155.7 820.2h0M160.5 809.8h0M154.1 823.3h0M158.3 830.2h0M160.0 828.3h0M164.3 842.7h0M164.8 829.6h0M155.1 832.3h0M160.8 811.0h0M158.8 807.1h0M154.5 841.9h0M160.7 836.1h0M156.8 835.0h0M164.8 844.1h0M156.4 821.7h0M161.5 831.4h0M162.5 823.6h0M154.1 814.9h0M157.7 827.7h0M163.6 825.9h0M154.3 813.2h0M163.0 816.4h0M154.4 812.2h0M162.6 844.9h0M159.7 810.6h0M156.2 810.0h0M157.7 815.4h0M159.7 822.6h0M161.4 833.6h0M164.2 825.7h0M164.7 818.2h0M155.0 833.6h0M159.4 836.2h0M163.4 818.6h0M154.6 847.5h0M163.5 841.9h0M154.3 821.0h0M156.1 832.2h0M162.8 814.7h0M164.3 816.7h0M161.5 837.9h0M159.8 827.0h0M155.6 828.0h0M160.9 799.6h0M156.1 831.9h0M160.5 843.5h0M163.6 813.6h0M158.8 828.3h0M161.7 815.1h0M154.6 815.4h0M158.2 805.7h0M156.2 828.6h0M157.4 843.3h0M158.1 827.3h0M156.6 828.5h0M164.0 832.4h0M162.6 844.5h0M164.1 834.8h0M155.8 803.0h0M155.8 825.1h0M157.1 827.7h0M163.7 812.8h0M163.0 809.4h0M154.6 837.2h0M164.7 811.5h0M162.4 818.9h0M161.1 848.0h0M161.6 843.6h0M163.9 823.0h0M155.8 822.1h0M156.5 811.4h0M164.5 822.1h0M161.2 823.4h0M158.7 827.6h0M162.3 828.4h0M161.2 830.1h0M154.7 806.3h0M164.1 807.3h0M161.4 813.5h0M162.2 822.5h0M163.0 825.6h0M161.9 845.2h0M163.3 814.2h0M154.4 831.7h0M162.0 823.3h0M158.2 830.5h0M159.1 829.1h0M159.4 843.8h0M160.9 828.3h0M161.9 826.2h0M161.1 824.0h0M158.7 844.4h0M157.4 806.9h0M157.7 821.8h0M155.8 819.6h0M159.2 832.4h0M161.2 823.1h0M159.8 807.0h0M163.0 851.2h0M155.7 831.6h0M163.7 840.0h0M160.7 846.8h0M164.1 840.0h0M156.3 819.7h0M163.5 812.7h0M160.4 818.2h0M154.4 828.7h0M159.6 839.4h0M158.5 817.4h0M158.0 818.9h0M164.4 851.1h0M157.7 834.6h0M162.0 820.7h0M163.1 840.9h0M156.0 823.1h0M162.0 824.3h0M163.3 832.1h0M155.5 846.1h0M159.0 851.7h0M158.2 844.0h0M157.4 813.0h0M163.0 834.3h0M159.6 823.6h0M159.5 817.1h0M160.3 809.1h0M163.7 837.8h0M155.9 837.6h0M154.4 836.7h0M156.5 814.5h0M164.4 846.1h0M162.2 825.4h0M163.0 814.8h0M158.0 820.8h0M164.3 838.7h0M164.9 843.9h0M157.4 836.7h0M162.0 836.3h0M157.7 817.7h0M157.3 846.1h0M164.4 812.9h0M160.2 818.7h0M160.5 820.6h0M156.0 835.8h0M156.7 844.5h0M156.0 842.0h0M156.9 843.2h0M164.1 834.3h0M160.9 823.4h0M161.7 840.5h0M155.0 826.6h0M163.1 821.8h0M155.8 821.6h0M157.5 805.8h0M156.9 809.8h0M156.4 802.5h0M160.2 829.4h0M161.8 816.1h0M161.1 825.4h0M159.7 841.0h0M155.7 833.5h0M162.8 846.3h0M157.3 833.1h0M160.3 808.6h0M155.3 806.1h0M162.4 818.7h0M155.8 823.3h0M159.1 824.7h0M160.1 818.2h0M155.0 825.1h0M163.0 831.2h0M159.5 848.4h0M154.5 830.9h0M162.9 815.7h0M163.6 807.5h0M164.3 828.0h0M163.9 813.4h0M158.8 825.6h0M157.0 841.1h0M160.4 838.1h0M161.3 821.6h0M154.9 830.3h0M157.6 827.8h0M160.7 824.0h0M164.2 836.1h0M155.7 812.9h0M161.9 823.3h0M159.7 827.1h0M156.6 843.2h0M160.9 827.1h0M161.0 847.5h0M156.8 817.7h0M155.0 834.7h0M159.7 847.3h0M159.3 822.3h0M163.5 813.6h0M164.1 824.8h0M161.4 816.2h0M160.2 822.2h0M160.9 842.7h0M156.6 811.9h0M162.1 811.5h0M162.8 830.2h0M156.0 826.9h0M162.4 809.5h0M159.4 840.3h0M165.0 820.8h0M157.1 805.3h0M154.4 815.5h0M158.5 840.9h0M161.2 811.4h0M164.5 821.5h0M164.9 821.8h0M162.9 847.0h0M156.4 833.2h0M160.8 842.4h0M156.8 828.6h0M160.9 844.8h0M162.8 833.2h0M163.1 823.9h0M159.3 823.9h0M161.8 837.9h0M162.3 811.1h0M160.3 805.8h0M163.5 834.4h0M164.7 837.9h0M157.9 824.6h0M164.9 815.8h0M158.6 840.6h0M154.7 827.5h0M156.8 826.8h0M162.3 817.8h0M159.7 827.7h0M157.8 845.7h0M164.2 833.7h0M158.0 841.0h0M157.2 815.7h0M163.0 847.8h0M160.4 832.7h0M163.0 823.9h0M163.7 820.4h0M164.4 821.0h0M157.0 824.3h0M160.1 844.0h0M155.0 823.0h0M156.5 830.4h0M163.2 832.0h0M158.9 807.9h0M160.8 842.1h0M156.7 828.5h0M159.3 832.8h0M164.6 842.8h0M158.9 834.6h0M157.6 806.3h0M154.6 825.6h0M155.9 804.6h0M156.4 813.9h0M159.1 822.8h0M159.2 835.2h0M162.5 829.2h0M164.9 847.0h0M157.2 833.0h0M160.1 812.3h0M164.8 810.4h0M163.9 846.5h0M154.4 843.5h0M155.4 815.2h0M155.5 822.5h0M163.4 842.5h0M154.2 821.9h0M155.9 826.1h0M156.3 802.0h0M161.3 826.3h0M164.8 840.1h0M156.8 810.4h0M157.6 831.5h0M165.0 817.9h0M155.9 822.1h0M156.9 828.1h0M158.3 836.3h0M160.2 805.7h0M156.3 816.2h0M161.4 825.5h0M164.7 817.8h0M163.2 847.0h0M164.6 807.6h0M157.0 812.7h0M156.8 831.8h0M163.5 828.6h0M162.5 819.6h0M164.6 814.1h0M163.3 847.7h0M162.4 824.3h0M158.9 837.1h0M159.8 842.2h0M159.1 814.9h0M164.7 821.4h0M162.5 813.3h0M154.7 831.9h0M161.1 829.8h0M164.2 850.2h0M161.3 825.5h0M163.2 840.4h0M163.4 831.1h0M154.5 808.6h0M156.2 814.2h0M158.1 813.1h0M156.2 840.7h0M156.0 814.5h0M163.3 844.0h0M159.1 817.8h0M162.9 841.9h0M163.7 833.5h0M161.0 830.1h0M164.6 846.6h0M165.0 832.5h0M163.5 804.9h0M155.3 825.9h0M157.5 843.5h0M157.3 824.0h0M158.0 846.9h0M164.7 832.1h0M158.2 813.0h0M154.3 812.4h0M160.3 809.4h0M162.8 832.7h0M162.4 837.8h0M159.7 838.0h0M158.3 808.6h0M164.3 845.0h0M159.3 806.2h0M158.2 822.5h0M156.8 819.0h0M155.4 836.3h0M154.3 826.5h0M159.5 829.3h0M159.3 821.1h0M162.1 838.2h0M155.0 841.7h0M161.0 833.8h0M158.5 815.8h0M164.3 818.0h0M157.7 821.8h0M164.3 806.7h0M164.2 836.8h0M164.0 841.6h0M154.5 813.0h0M156.6 826.3h0M161.2 803.6h0M156.8 817.7h0M156.6 825.5h0M164.1 822.7h0M160.7 824.6h0M162.0 814.3h0M160.3 849.2h0M162.2 836.8h0M159.2 831.6h0M160.4 811.0h0M158.7 818.0h0M162.7 805.6h0M155.6 822.2h0M157.4 836.1h0M161.1 824.4h0M159.8 832.0h0M157.8 807.8h0M154.4 814.9h0M157.8 817.3h0M160.5 809.4h0M155.1 835.2h0M160.8 823.9h0M155.0 837.9h0M160.3 825.1h0M157.0 824.3h0M156.8 831.1h0M157.9 837.3h0M162.6 818.9h0M163.3 836.8h0M155.2 847.7h0M156.8 810.7h0M156.2 829.7h0M159.8 822.1h0M163.7 819.9h0M158.6 806.2h0M160.4 843.0h0M160.4 838.7h0M156.1 826.1h0M163.5 832.3h0M157.3 816.1h0M163.6 826.9h0M155.9 815.5h0M156.6 807.4h0M164.0 832.0h0M163.8 826.2h0M159.5 819.7h0M164.8 846.5h0M156.4 814.3h0M158.2 816.1h0M156.0 835.8h0M155.8 824.0h0M155.2 824.7h0M160.6 807.3h0M157.1 830.9h0M163.3 827.3h0M156.2 842.3h0M159.8 811.9h0M157.8 847.6h0M162.9 821.2h0M158.4 817.9h0M160.1 837.9h0M154.9 813.7h0M159.0 811.6h0M154.8 809.0h0M159.8 826.7h0M154.5 812.1h0M159.3 806.2h0M163.0 828.1h0M154.2 853.6h0M155.4 805.1h0M157.6 824.3h0M165.0 828.7h0M162.6 837.6h0M163.3 849.1h0M158.7 846.3h0M157.9 823.3h0M156.3 815.5h0M162.9 833.2h0M161.3 835.9h0M160.4 811.0h0M159.3 807.9h0M157.2 816.5h0M160.8 835.3h0M163.4 823.9h0M163.2 806.1h0M163.6 845.5h0M161.6 805.2h0M157.9 823.4h0M158.4 841.7h0M159.7 829.4h0M160.4 817.6h0M156.0 827.2h0M155.5 823.2h0M157.2 833.0h0M158.2 819.8h0M155.6 823.6h0M155.2 830.9h0M164.3 828.5h0M162.0 827.7h0M164.3 812.0h0M157.1 834.1h0M155.8 831.9h0M163.4 812.8h0M161.6 834.9h0M160.6 837.8h0M164.6 844.5h0M156.6 813.6h0M159.4 829.2h0M162.4 808.8h0M163.5 810.8h0M154.3 811.8h0M160.0 830.4h0M155.0 818.3h0M163.0 810.9h0M164.4 838.0h0M156.5 845.8h0M162.0 822.5h0M162.7 832.2h0M154.9 810.6h0M162.0 837.5h0M161.7 843.9h0M159.1 822.0h0M155.1 836.5h0M154.3 828.0h0M163.9 834.0h0M161.7 811.8h0M163.6 811.1h0M162.2 812.0h0M163.7 854.4h0M157.8 823.4h0M157.4 828.6h0M154.6 831.7h0M159.7 821.7h0M156.5 837.1h0M158.0 810.5h0M164.9 823.5h0M164.7 834.3h0M161.9 836.7h0M158.6 814.3h0M154.6 845.1h0M160.9 821.1h0M157.6 808.1h0M165.0 836.8h0M156.7 811.7h0M157.4 846.8h0M162.5 832.6h0M160.7 841.7h0M156.5 812.6h0M161.5 836.8h0M159.0 824.8h0M162.0 822.9h0M162.2 808.2h0M155.6 835.5h0M164.4 846.2h0M162.7 822.7h0M164.2 847.5h0M154.4 824.4h0M159.9 835.3h0M162.9 815.0h0M159.2 817.7h0M158.0 833.7h0M163.1 830.3h0M159.9 827.3h0M155.3 808.1h0M157.3 835.2h0M160.8 818.4h0M159.5 817.3h0M154.4 835.5h0M163.3 831.3h0M159.9 838.7h0M154.8 841.3h0M159.5 835.6h0M162.5 823.3h0M155.1 822.2h0M157.3 815.9h0M154.9 826.7h0M164.2 824.5h0M162.3 827.0h0M164.7 835.3h0M156.9 812.0h0M156.7 819.6h0M164.6 829.1h0M162.6 826.7h0M157.1 806.8h0M161.9 813.8h0M159.8 813.8h0M164.9 840.2h0M155.9 841.1h0M165.0 828.5h0M157.8 832.6h0M157.4 815.9h0M158.7 846.1h0M154.6 822.5h0M164.3 817.2h0M157.7 815.1h0M161.0 849.8h0M164.6 807.9h0M161.4 827.0h0M163.1 814.7h0M156.6 820.2h0M160.8 839.7h0M159.6 805.9h0M159.1 812.0h0M163.6 826.7h0M162.5 833.7h0M164.1 820.9h0M159.8 818.6h0M163.4 823.1h0M158.1 823.4h0M154.4 836.7h0M155.9 828.2h0M157.8 844.0h0M164.6 823.5h0M156.8 827.1h0M156.4 826.0h0M163.1 813.9h0M156.5 826.1h0M156.7 805.5h0M160.6 814.4h0M158.8 826.9h0M161.1 818.2h0M156.7 831.4h0M157.1 833.0h0M158.0 840.7h0M155.7 829.9h0M164.0 838.0h0M164.7 827.7h0M163.3 824.3h0M162.2 806.1h0M157.7 821.6h0M155.1 844.4h0M162.6 806.9h0M159.2 822.2h0M155.4 831.2h0M154.4 831.3h0M161.8 833.9h0M158.9 830.6h0M162.9 838.2h0M159.7 832.5h0M164.7 838.0h0M159.7 818.4h0M155.8 827.9h0M156.1 830.8h0M160.1 809.4h0M155.2 842.4h0M155.2 808.2h0M154.7 807.3h0M163.3 824.3h0M162.8 828.9h0M154.4 820.3h0M156.1 815.7h0M160.4 811.8h0M163.7 821.0h0M160.0 825.4h0M163.6 818.3h0M165.0 808.6h0M154.1 834.8h0M157.2 843.6h0M164.9 847.6h0M155.2 825.9h0M161.7 850.9h0M154.8 815.5h0M159.2 842.3h0M164.6 815.6h0M157.4 826.7h0M160.3 822.0h0M162.6 815.0h0M159.4 837.8h0M161.2 811.1h0M159.3 827.6h0M157.2 847.4h0M156.8 847.1h0M163.7 842.3h0M154.8 821.0h0M154.2 828.8h0M158.7 809.2h0M157.2 823.6h0M160.5 837.0h0M154.5 818.9h0M154.2 843.8h0M154.6 821.9h0M163.2 830.2h0M160.8 820.7h0M155.4 835.4h0M158.6 809.3h0M159.5 846.7h0M156.2 827.4h0M159.9 835.0h0M156.6 825.1h0M161.7 817.3h0M164.6 824.1h0M157.4 841.1h0M157.0 826.9h0M162.3 833.4h0M163.3 806.2h0M161.8 824.6h0M163.5 810.9h0M159.2 848.2h0M159.2 846.1h0M155.8 833.7h0M163.2 817.0h0M154.6 824.5h0M160.0 812.5h0M158.8 822.1h0M156.5 833.2h0M157.8 843.5h0M161.7 828.5h0M164.2 857.8h0M164.0 837.3h0M164.4 804.9h0M157.0 840.3h0M160.9 820.2h0M157.9 820.6h0M161.3 834.0h0M162.2 812.3h0M163.5 813.3h0M162.6 835.0h0M164.3 819.1h0M164.4 827.3h0M157.8 834.6h0M157.8 818.4h0M163.1 834.3h0M163.5 836.2h0M164.8 819.6h0M158.7 828.4h0M158.0 805.3h0M163.2 826.8h0M157.0 831.5h0M160.3 829.2h0M155.0 828.4h0M159.5 827.3h0M158.7 807.4h0M154.7 809.8h0M159.9 829.6h0M154.7 833.9h0M157.1 839.8h0M155.5 843.5h0M163.6 819.9h0M157.1 835.7h0M162.7 812.6h0M159.9 816.6h0M160.0 847.2h0M163.0 829.3h0M160.4 832.9h0M161.9 806.7h0M160.0 841.2h0M164.1 845.8h0M158.4 809.4h0M154.9 829.0h0M154.7 825.1h0M158.1 822.2h0M154.5 843.7h0M156.1 844.3h0M159.8 819.4h0M157.3 828.9h0M163.1 829.2h0M159.9 820.7h0M156.1 842.8h0M163.2 816.1h0M159.3 820.8h0M162.4 812.5h0M158.9 813.5h0M160.1 838.4h0M160.3 839.9h0M157.6 819.6h0M158.4 827.3h0M156.6 830.3h0M160.4 844.8h0M163.4 819.4h0M158.5 816.0h0M163.6 821.3h0M162.7 844.2h0M161.0 847.8h0M158.7 845.9h0M156.6 824.9h0M159.8 832.9h0M155.3 828.4h0M155.9 823.3h0M162.9 844.9h0M163.2 830.0h0M164.4 836.3h0M158.5 821.2h0M163.3 835.3h0M164.0 836.4h0M162.2 842.0h0M157.8 815.9h0M161.3 838.3h0M157.1 832.5h0M163.3 819.3h0M161.7 821.5h0M154.8 840.7h0M154.3 828.7h0M156.4 812.2h0M163.8 834.2h0M164.6 808.5h0M165.1 807.5h0M161.4 831.3h0M157.9 826.1h0M154.4 812.0h0M155.5 838.3h0M155.6 847.0h0M160.3 809.8h0M162.2 824.6h0M161.0 818.2h0M156.7 845.3h0M156.5 823.1h0M163.0 846.6h0M163.0 815.9h0M159.4 833.0h0M164.3 826.9h0M155.7 811.5h0M160.8 812.7h0M163.2 832.0h0M162.0 808.5h0M156.0 822.4h0M163.5 828.2h0M164.5 839.8h0M164.6 823.1h0M161.9 823.9h0M162.7 813.3h0M161.1 814.6h0M154.4 822.5h0M164.3 829.5h0M161.5 832.3h0M157.4 815.5h0M164.6 817.1h0M154.7 844.0h0M155.1 818.7h0M161.3 833.4h0M156.3 839.8h0M163.9 832.8h0M155.9 840.1h0M158.6 842.1h0M158.7 833.5h0M157.0 828.6h0M161.7 827.5h0M158.1 820.3h0M164.6 835.8h0M156.6 809.4h0M160.0 845.1h0M156.2 821.8h0M158.4 842.1h0M163.2 832.4h0M154.5 836.5h0M157.7 805.3h0M157.6 827.3h0M160.7 825.5h0M156.6 834.7h0M156.9 829.0h0M161.6 830.8h0M158.8 837.0h0M159.2 823.2h0M161.3 825.4h0M156.5 816.0h0M160.5 820.3h0M161.1 834.9h0M163.2 838.9h0M155.0 824.9h0M154.6 819.2h0M160.2 826.9h0M160.3 835.2h0M154.8 837.0h0M160.9 823.9h0M158.0 820.7h0M163.3 809.5h0M164.4 820.7h0M162.4 828.8h0M163.7 826.0h0M163.0 839.2h0M163.6 833.0h0M163.0 851.4h0M164.7 849.2h0M157.2 807.3h0M164.9 827.2h0M156.7 828.8h0M159.0 838.3h0M160.9 819.9h0M156.4 808.3h0M158.2 833.8h0M163.3 836.0h0M164.5 824.2h0M161.6 843.0h0M161.9 825.5h0M157.8 844.0h0M156.3 832.8h0M162.9 838.5h0M154.4 832.1h0M159.1 838.1h0M158.2 840.3h0M162.8 821.9h0M162.9 814.8h0M159.2 813.5h0M156.2 820.2h0M162.6 842.3h0M156.0 838.7h0M164.9 820.5h0M158.5 840.9h0M161.1 822.1h0M159.0 830.6h0M159.8 843.3h0M163.6 805.6h0M155.4 809.1h0M164.3 838.3h0M158.4 827.0h0M159.2 837.7h0M156.6 810.9h0M163.1 836.3h0M155.9 817.1h0M155.7 818.6h0M164.7 824.1h0M157.5 840.5h0M164.7 832.3h0M155.5 844.8h0M156.1 838.1h0M157.3 805.4h0M163.1 836.0h0M155.0 809.0h0M155.7 838.1h0M157.0 838.2h0M159.8 827.1h0M159.4 823.4h0M162.6 804.2h0M156.3 816.7h0M159.8 805.7h0M158.6 839.9h0M161.8 805.3h0M156.0 831.0h0M157.2 825.4h0M156.4 827.1h0M158.5 814.4h0M161.7 817.5h0M160.5 806.2h0M162.5 822.3h0M158.5 811.4h0M154.7 819.0h0M163.7 817.1h0M157.8 817.6h0M159.1 829.7h0M164.2 846.7h0M157.5 822.8h0M157.4 823.8h0M158.9 822.0h0M163.1 847.3h0M162.6 810.3h0M157.1 841.4h0M156.5 837.3h0M157.9 821.3h0M165.1 822.4h0M161.7 827.7h0M155.7 819.1h0M155.4 833.4h0M155.9 848.0h0M159.2 805.5h0M157.9 830.5h0M161.9 830.5h0M154.6 815.8h0M162.0 817.5h0M163.1 830.0h0M158.5 827.9h0M155.5 805.5h0M162.6 834.0h0M162.2 820.1h0M162.6 830.5h0M154.5 814.7h0M164.6 826.8h0M161.3 824.1h0M155.2 821.5h0M158.1 835.4h0M163.3 832.5h0M154.9 838.8h0M158.2 833.8h0M163.0 826.6h0M155.5 825.1h0M157.1 814.0h0M158.7 822.0h0M159.2 828.9h0M164.7 845.2h0M163.1 809.3h0M160.5 830.6h0M157.2 829.6h0M164.3 820.6h0M155.7 825.0h0M162.3 842.9h0M156.7 842.4h0M157.7 806.7h0M157.3 811.2h0M164.7 834.9h0M157.3 805.2h0M164.0 807.8h0M159.4 842.0h0M155.9 829.1h0M163.0 812.1h0M156.6 838.8h0M154.6 828.3h0M158.3 826.2h0M157.9 844.4h0M164.2 855.1h0M157.4 827.2h0M154.4 808.8h0M164.7 832.8h0M164.0 838.3h0M161.0 829.5h0M161.9 820.0h0M156.5 832.6h0M154.7 830.8h0M163.7 821.5h0M157.3 835.0h0M155.4 820.5h0M154.6 826.1h0M163.0 844.5h0M164.0 823.7h0M156.9 837.7h0M159.1 814.5h0M163.1 835.6h0M162.3 804.1h0M159.8 816.7h0M156.8 834.1h0M161.2 833.6h0M163.3 827.0h0M160.1 825.7h0M154.9 797.7h0M162.9 817.5h0M161.5 838.4h0M164.1 811.6h0M162.7 842.1h0M158.1 841.8h0M161.1 815.7h0M164.4 829.3h0M164.6 820.4h0M157.1 827.6h0M158.6 818.7h0M164.0 821.2h0M159.3 840.0h0M156.8 807.1h0M158.3 819.3h0M159.9 832.6h0M156.0 830.4h0M156.2 831.1h0M158.8 819.6h0M161.3 807.2h0M164.7 831.5h0M158.5 832.5h0M163.1 816.7h0M162.2 816.0h0M160.0 836.1h0M160.7 828.7h0M154.3 808.8h0M159.2 829.5h0M154.8 827.3h0M161.1 842.0h0M162.1 817.9h0M157.9 824.6h0M160.0 840.7h0M160.6 844.9h0M163.7 829.2h0M162.5 830.2h0M155.6 806.9h0M157.3 819.0h0M158.3 834.1h0M162.7 841.1h0M163.9 820.2h0M164.8 831.2h0M154.7 818.2h0M161.9 839.3h0M157.1 806.0h0M154.9 829.4h0M158.4 829.4h0M163.9 823.1h0M156.5 830.3h0M158.2 817.3h0M161.9 832.1h0M155.7 828.5h0M161.3 814.0h0M154.3 835.3h0M155.5 820.9h0M157.7 838.0h0M157.3 827.8h0M156.6 833.5h0M156.7 818.7h0M157.9 826.1h0M156.6 836.8h0M164.6 830.8h0M156.5 839.3h0M163.7 833.5h0M157.6 809.8h0M158.3 823.2h0M155.4 837.4h0M156.4 828.9h0M162.5 833.7h0M163.0 811.2h0M156.4 825.7h0M163.9 839.4h0M165.1 825.1h0M156.0 845.5h0M158.5 813.8h0M157.9 830.5h0M155.3 806.3h0M155.5 836.8h0M160.8 822.4h0M158.6 828.7h0M160.8 819.1h0M162.3 833.6h0M164.9 828.8h0M157.0 811.1h0M160.2 843.3h0M161.2 833.0h0M164.4 829.7h0M163.6 820.2h0M164.9 844.5h0M164.2 828.7h0M159.7 824.0h0M164.3 839.9h0M154.9 845.6h0M157.4 821.4h0M163.4 836.4h0M161.2 817.0h0M161.1 848.7h0M160.1 824.7h0M160.8 806.3h0M162.5 834.1h0M164.7 815.5h0M159.2 835.7h0M159.0 842.1h0M157.7 823.9h0M155.0 832.5h0M157.4 814.4h0M160.3 811.0h0M161.9 833.8h0M158.9 812.0h0M164.5 817.8h0M163.1 814.3h0M157.9 829.7h0M164.3 832.9h0M162.7 822.9h0M160.8 844.7h0M154.6 827.3h0M155.6 811.8h0M159.2 821.3h0M156.1 826.7h0M162.0 816.9h0M154.9 829.9h0M161.2 836.4h0M161.7 810.4h0M160.4 814.6h0M157.3 824.1h0M158.1 810.9h0M165.1 807.2h0M156.8 812.6h0M162.9 836.3h0M161.1 836.2h0M155.0 830.1h0M155.2 837.6h0M157.8 837.2h0M155.3 812.1h0M158.9 836.9h0M156.0 835.7h0M157.3 830.3h0M156.4 837.8h0M157.9 840.8h0M164.2 825.8h0M160.6 830.3h0M163.6 832.3h0M161.8 812.3h0M163.2 827.9h0M163.7 835.9h0M161.7 821.2h0M159.7 837.8h0M154.8 822.9h0M159.0 838.6h0M161.7 844.9h0M162.5 845.8h0M155.4 832.2h0M163.5 822.1h0M159.9 814.4h0M161.2 844.1h0M155.0 811.3h0M164.0 817.5h0M158.4 815.1h0M159.8 828.0h0M160.0 812.6h0M158.7 842.1h0M156.2 821.9h0M164.7 820.3h0M156.3 826.1h0M163.9 834.0h0M164.9 842.2h0M160.7 814.5h0M161.1 813.2h0M155.7 832.0h0M164.9 814.7h0M161.0 811.2h0M161.2 815.6h0M159.0 817.1h0M158.0 816.4h0M164.7 824.8h0M161.5 846.6h0M154.2 833.6h0M156.1 822.9h0M159.2 819.6h0M155.9 817.2h0M154.7 836.8h0M156.5 829.9h0M162.9 844.0h0M161.5 814.5h0M157.9 838.3h0M156.2 818.2h0M163.4 833.6h0M156.4 818.3h0M161.8 817.6h0M164.4 808.7h0M155.8 823.3h0M156.7 832.9h0M162.1 825.8h0M159.9 833.0h0M162.5 819.6h0M157.7 817.3h0M160.3 836.8h0M154.5 814.7h0M159.6 818.1h0M154.8 810.2h0M165.0 838.8h0M159.8 812.2h0M162.6 824.7h0M156.1 836.9h0M158.4 827.7h0M159.7 816.0h0M158.3 818.8h0M164.3 820.9h0M157.8 834.1h0M161.6 820.6h0M160.1 836.8h0M164.7 836.7h0M154.7 838.0h0M160.6 824.0h0M160.9 823.7h0M158.4 842.2h0M163.9 824.9h0M162.0 812.3h0M162.8 823.8h0M155.9 827.7h0M162.6 832.6h0M155.0 824.7h0M159.0 806.2h0M157.1 828.9h0M164.3 827.6h0M160.9 811.0h0M164.9 823.6h0M158.9 830.2h0M159.0 844.0h0M157.9 835.1h0M158.6 835.0h0M155.5 837.2h0M155.6 837.2h0M163.9 813.9h0M160.0 845.7h0M154.1 832.5h0M154.6 827.5h0M160.7 822.8h0M164.8 840.1h0M154.3 825.0h0M159.7 829.9h0M159.1 833.2h0M160.8 832.3h0M164.3 820.0h0M162.3 817.0h0M163.4 834.1h0M164.8 835.9h0M154.8 833.4h0M160.2 826.2h0M160.5 830.6h0M156.3 820.9h0M159.5 816.3h0M160.5 821.0h0M162.5 814.5h0M164.4 833.4h0M160.9 814.5h0M161.7 840.7h0M156.8 833.6h0M154.2 792.5h0M157.0 823.2h0M154.3 809.7h0M159.8 813.9h0M157.2 829.8h0M161.5 840.9h0M162.5 832.3h0M160.4 817.6h0M155.5 816.7h0M163.8 835.7h0M156.9 837.7h0M155.4 817.9h0M159.9 825.7h0M156.5 832.1h0M158.0 835.3h0M161.2 820.1h0M158.0 824.2h0M164.5 836.0h0M161.0 812.2h0M156.6 805.9h0M156.0 834.2h0M155.5 829.6h0M156.4 836.2h0M161.6 844.7h0M155.1 806.9h0M154.7 819.2h0M158.9 820.7h0M158.5 831.2h0M163.8 821.7h0M160.0 831.7h0M159.5 829.0h0M162.7 829.7h0M163.8 821.5h0M164.7 835.7h0M165.0 816.1h0M158.6 822.6h0M160.2 811.6h0M158.5 844.3h0M155.4 816.0h0M160.4 818.2h0M160.1 839.2h0M164.4 833.5h0M164.9 821.5h0M154.9 809.6h0M163.8 835.1h0M158.6 841.4h0M154.2 838.5h0M160.2 802.4h0M162.7 813.3h0M161.8 837.3h0M164.7 827.7h0M163.6 805.6h0M164.7 814.1h0M157.9 830.8h0M154.9 832.8h0M158.4 829.1h0M160.5 809.7h0M157.3 829.8h0M165.1 830.6h0M155.9 821.5h0M163.2 815.7h0M158.8 800.0h0M159.7 790.5h0M158.1 781.8h0M155.4 801.7h0M163.3 780.1h0M162.6 790.3h0M160.9 787.7h0M161.1 798.9h0M155.5 792.8h0M157.3 791.3h0M162.9 780.4h0M157.1 788.7h0M159.0 796.7h0M154.2 777.0h0M159.0 804.8h0M165.0 786.8h0M161.0 787.9h0M159.6 780.1h0M155.6 788.4h0M155.0 791.0h0M161.4 775.7h0M159.0 781.4h0M158.3 802.1h0M156.3 797.8h0M159.4 790.4h0M154.5 778.5h0M165.1 782.1h0M162.4 794.1h0M157.7 799.9h0M162.3 804.3h0M161.5 790.5h0M157.4 788.4h0M159.1 775.5h0M158.5 803.6h0M156.7 780.7h0M160.8 795.0h0M156.0 802.8h0M157.4 784.3h0M162.6 783.9h0M154.9 782.3h0M157.0 801.1h0M164.1 789.9h0M161.3 793.7h0M154.2 797.5h0M155.7 781.2h0M157.2 788.8h0M158.0 792.2h0M163.5 793.2h0M162.7 789.9h0M161.7 802.3h0M155.0 788.9h0M160.2 788.5h0M160.5 777.5h0M162.0 800.7h0M160.0 800.0h0M164.6 786.8h0M156.1 776.6h0M157.5 795.5h0M158.3 804.3h0M161.8 777.1h0M159.0 800.0h0M161.4 789.8h0M154.6 801.9h0M157.6 780.8h0M154.6 775.1h0M163.9 800.0h0M155.4 785.6h0M155.7 796.8h0M161.2 783.9h0M159.9 790.8h0M155.1 787.3h0M157.4 790.6h0M163.5 797.1h0M161.1 798.0h0M155.0 778.2h0M161.4 796.4h0M162.3 779.6h0M160.2 795.2h0M154.8 793.8h0M155.6 782.8h0M160.2 777.9h0M159.5 798.9h0M158.9 785.9h0M157.2 803.3h0M157.2 775.6h0M158.0 784.2h0M165.0 781.4h0M163.3 775.6h0M158.5 791.5h0M163.5 777.2h0M159.3 796.6h0M163.3 804.6h0M155.8 795.3h0M156.8 780.6h0M164.5 792.9h0M161.8 783.2h0M163.0 798.8h0M156.1 794.2h0M155.5 794.3h0M157.2 791.7h0M154.6 802.7h0M158.0 786.2h0M163.7 802.6h0M160.4 789.2h0M154.5 775.0h0M161.6 788.2h0M159.7 776.5h0M159.6 791.3h0M155.9 788.3h0M156.1 804.3h0M158.0 757.0h0M161.0 760.0h0M157.0 765.0h0M162.0 768.0h0" stroke="#a462a4" stroke-opacity="0.9" stroke-width="1.6" stroke-linecap="round" fill="none"/>
<path d="M185.6 834.8h0M181.8 833.9h0M183.9 836.5h0M189.4 834.2h0M188.7 845.4h0M177.4 833.5h0M178.1 841.2h0M185.8 829.8h0M179.5 822.4h0M188.8 840.0h0M176.8 838.0h0M179.6 846.0h0M184.4 836.7h0M180.2 823.1h0M181.1 845.9h0M188.5 825.0h0M182.3 850.5h0M186.2 828.0h0M188.3 843.2h0M177.0 837.3h0M180.5 833.4h0M186.4 827.5h0M177.8 831.2h0M181.2 843.4h0M181.4 830.7h0M184.7 834.5h0M183.4 836.9h0M186.4 829.6h0M179.6 827.1h0M177.7 829.4h0M179.0 840.8h0M181.3 840.8h0M187.8 841.8h0M179.3 828.0h0M178.9 844.7h0M179.0 822.3h0M185.0 841.6h0M188.7 840.8h0M188.9 825.8h0M177.0 827.4h0M186.6 841.8h0M176.9 831.2h0M183.8 847.8h0M186.0 839.3h0M187.9 845.4h0M183.7 828.3h0M187.0 840.8h0M177.4 830.2h0M177.8 827.7h0M186.6 828.4h0M181.9 834.9h0M187.9 847.8h0M179.9 829.8h0M188.9 832.6h0M182.7 828.4h0M183.8 824.1h0M178.1 846.4h0M183.5 822.5h0M177.6 837.1h0M178.9 840.3h0M181.2 833.8h0M185.2 838.0h0M188.8 819.8h0M184.4 831.5h0M183.6 829.6h0M181.1 839.0h0M177.6 839.1h0M185.4 843.0h0M182.1 845.0h0M185.6 835.8h0M180.9 824.1h0M185.6 835.8h0M184.1 840.6h0M181.1 835.8h0M187.1 838.9h0M180.4 828.3h0M185.1 833.2h0M181.0 836.4h0M189.0 834.5h0M177.1 836.7h0M179.9 830.0h0M185.1 835.0h0M180.0 828.1h0M181.5 829.4h0M179.5 828.9h0M182.3 838.4h0M187.6 833.1h0M187.5 838.0h0M180.6 828.1h0M184.1 830.2h0M180.7 832.6h0M178.4 833.5h0M181.9 836.2h0M180.5 847.7h0M186.5 834.5h0M179.0 824.9h0M189.1 841.9h0M180.4 834.6h0M181.5 840.5h0M186.1 830.8h0M180.4 844.6h0M187.7 844.8h0M183.3 842.1h0M182.1 846.6h0M185.8 831.6h0M183.3 825.2h0M180.8 832.5h0M179.6 829.7h0M188.8 847.5h0M177.8 840.2h0M182.3 843.1h0M178.6 827.7h0M181.3 847.8h0M187.7 835.7h0M188.4 838.7h0M185.1 826.3h0M185.3 823.7h0M178.3 847.0h0M179.8 828.3h0M176.9 842.5h0M185.7 832.0h0M189.0 845.2h0M177.6 837.1h0M187.3 840.5h0M181.9 841.3h0M189.1 829.0h0M188.5 841.0h0M183.8 825.7h0M188.0 836.7h0M184.3 828.8h0M185.6 824.2h0M177.0 840.4h0M185.2 827.0h0M178.0 834.5h0M179.7 835.7h0M187.0 833.2h0M180.5 830.2h0M179.6 822.6h0M181.3 831.8h0M183.3 835.7h0M184.0 814.5h0M184.1 811.2h0M188.2 810.3h0M184.3 821.4h0M178.3 811.5h0M184.1 813.5h0M180.2 816.5h0M179.4 818.8h0M182.5 815.9h0M180.0 819.0h0M183.3 809.8h0M181.0 808.9h0M185.8 817.5h0M186.9 809.7h0M188.7 817.5h0M185.8 815.6h0M185.4 816.2h0M177.6 820.8h0M181.3 812.7h0M185.4 813.3h0M180.0 806.0h0M186.0 800.0h0M183.0 790.0h0M187.0 792.0h0" stroke="#ecca38" stroke-opacity="0.9" stroke-width="1.6" stroke-linecap="round" fill="none"/>
<path d="M214.5 828.1h0M220.5 809.0h0M211.7 807.6h0M215.0 838.3h0M214.2 812.0h0M216.9 805.9h0M219.3 824.8h0M220.5 840.3h0M219.1 810.2h0M218.8 822.0h0M216.4 808.3h0M215.7 817.9h0M220.0 817.2h0M214.0 816.9h0M217.3 818.4h0M220.6 805.0h0M216.3 843.5h0M212.2 826.4h0M210.6 833.3h0M217.1 836.1h0M218.3 845.2h0M220.4 832.1h0M212.1 839.4h0M212.4 809.7h0M213.0 817.3h0M211.1 843.5h0M215.4 840.8h0M218.9 833.1h0M212.2 847.3h0M215.1 823.6h0M212.8 816.4h0M219.0 819.9h0M216.1 823.8h0M215.6 833.5h0M214.5 849.8h0M218.7 820.6h0M211.1 820.8h0M212.0 816.1h0M217.4 829.9h0M213.9 845.3h0M212.0 830.3h0M216.9 846.3h0M213.2 843.8h0M211.1 828.4h0M218.0 817.3h0M214.7 827.0h0M220.3 824.6h0M216.5 837.3h0M210.4 810.1h0M210.2 834.7h0M213.6 839.8h0M220.3 820.4h0M214.9 841.0h0M218.5 825.0h0M219.1 832.6h0M213.1 833.8h0M220.3 829.8h0M220.5 813.2h0M212.1 806.6h0M220.2 846.3h0M216.6 811.3h0M216.0 832.1h0M216.7 816.5h0M211.7 816.5h0M218.2 812.5h0M215.1 805.5h0M217.5 825.1h0M210.8 828.9h0M215.2 835.9h0M215.1 818.9h0M213.0 823.6h0M211.0 834.6h0M216.9 832.4h0M214.5 847.9h0M210.2 825.9h0M217.3 822.9h0M211.0 811.5h0M218.9 825.5h0M219.0 835.9h0M217.8 845.0h0M215.0 846.6h0M214.7 809.6h0M218.1 843.4h0M215.4 828.4h0M217.5 821.1h0M218.7 812.5h0M219.3 833.2h0M219.9 829.6h0M217.5 834.6h0M209.7 817.0h0M216.6 834.2h0M211.9 825.1h0M213.9 818.7h0M218.4 820.0h0M210.4 821.2h0M217.7 819.1h0M209.5 811.6h0M217.1 831.7h0M215.4 806.9h0M212.1 833.9h0M209.7 825.3h0M215.8 833.0h0M211.0 817.4h0M216.8 825.5h0M210.3 816.9h0M218.2 819.4h0M217.8 821.3h0M220.2 820.7h0M217.1 820.4h0M213.7 839.6h0M209.5 838.2h0M218.8 807.6h0M218.6 818.3h0M220.2 837.2h0M217.1 814.4h0M217.4 841.2h0M219.4 828.7h0M212.6 840.2h0M218.5 820.7h0M212.5 838.9h0M220.1 813.7h0M219.0 805.5h0M212.9 832.8h0M213.3 831.0h0M217.7 823.0h0M220.2 821.9h0M215.4 825.4h0M217.6 834.6h0M213.3 826.3h0M209.1 842.6h0M210.5 836.0h0M215.9 825.3h0M214.5 842.2h0M214.0 845.7h0M214.6 822.6h0M213.2 821.5h0M214.9 831.5h0M218.3 848.1h0M214.8 837.7h0M213.5 846.1h0M211.0 841.3h0M217.7 836.6h0M213.1 849.0h0M217.5 834.9h0M210.2 816.3h0M210.0 841.3h0M215.0 819.9h0M210.6 812.7h0M215.7 818.3h0M219.3 815.1h0M220.6 815.3h0M210.8 823.9h0M215.7 829.2h0M211.5 830.2h0M220.1 833.9h0M211.3 825.6h0M218.6 826.4h0M212.4 841.1h0M220.6 838.5h0M219.9 812.5h0M214.3 817.3h0M215.7 834.3h0M217.9 847.8h0M211.0 831.2h0M212.4 824.1h0M218.5 846.1h0M219.2 807.9h0M215.2 831.8h0M215.1 839.6h0M212.8 824.4h0M221.0 814.1h0M213.3 829.3h0M210.4 838.0h0M213.7 844.7h0M216.9 832.3h0M217.0 835.0h0M209.7 816.2h0M216.6 819.3h0M215.0 842.5h0M217.7 848.2h0M215.7 815.1h0M218.0 834.0h0M215.8 845.2h0M209.3 838.1h0M209.8 815.9h0M211.2 824.5h0M220.7 832.2h0M212.8 824.4h0M213.9 820.2h0M216.7 828.5h0M215.6 839.3h0M211.1 816.0h0M216.1 821.1h0M216.6 837.6h0M210.8 827.2h0M214.0 833.3h0M211.1 821.8h0M212.6 840.7h0M212.4 807.9h0M219.5 836.1h0M217.2 814.0h0M218.9 795.3h0M216.1 819.8h0M216.6 829.2h0M219.7 837.5h0M215.2 839.5h0M213.9 814.0h0M213.3 830.6h0M220.2 808.8h0M212.2 847.4h0M214.0 821.5h0M209.0 838.2h0M216.8 813.9h0M216.8 805.4h0M218.3 841.9h0M212.8 801.2h0M216.0 838.7h0M211.6 826.8h0M212.5 824.6h0M216.9 813.0h0M212.6 813.0h0M211.3 835.0h0M211.3 840.9h0M219.1 821.7h0M214.9 827.9h0M211.9 827.1h0M220.6 829.9h0M218.7 837.4h0M215.0 822.6h0M213.9 808.4h0M210.2 803.5h0M216.0 798.6h0M218.1 790.7h0M212.3 800.0h0M215.9 799.2h0M211.1 782.3h0M213.4 792.3h0M218.6 784.1h0M210.2 792.2h0M210.0 798.3h0M218.5 793.3h0M210.6 787.1h0M217.1 791.2h0M215.6 782.6h0M209.6 796.2h0M214.9 804.5h0M217.8 781.0h0M215.8 787.3h0M214.7 796.8h0M209.7 804.9h0M216.4 792.2h0M214.5 798.9h0M215.2 784.6h0M212.9 804.4h0M220.8 795.2h0M219.9 788.9h0M213.1 788.2h0M219.9 803.0h0M216.8 781.2h0M212.1 791.6h0M217.5 803.3h0M218.9 794.4h0M215.2 799.5h0M210.2 787.5h0M211.6 796.2h0M214.9 791.3h0M219.6 803.2h0M219.9 791.5h0M212.1 785.8h0M216.5 792.4h0M214.0 775.0h0M218.0 780.0h0M212.0 770.0h0" stroke="#a462a4" stroke-opacity="0.9" stroke-width="1.6" stroke-linecap="round" fill="none"/>
<path d="M239.2 840.1h0M233.6 842.6h0M243.1 841.9h0M239.8 843.1h0M242.9 842.8h0M233.7 844.9h0M232.4 842.4h0M238.9 837.7h0M233.5 837.8h0M235.9 838.0h0M237.4 847.0h0M240.8 838.1h0M239.2 841.3h0M237.6 839.1h0M241.0 839.3h0M243.6 835.6h0M241.4 842.9h0M234.5 837.0h0M234.2 844.4h0M233.2 841.9h0M242.1 836.5h0M237.1 840.0h0M238.7 837.7h0M239.5 842.8h0M232.9 843.2h0M241.3 834.9h0M237.8 841.1h0M241.3 843.7h0M240.7 847.6h0M233.7 833.9h0M236.0 822.0h0M240.0 818.0h0" stroke="#ecca38" stroke-opacity="0.9" stroke-width="1.6" stroke-linecap="round" fill="none"/>
<line x1="145.4" y1="747.2" x2="145.4" y2="852.5" stroke="#333" stroke-width="0.9" />
<line x1="145.4" y1="852.5" x2="197.6" y2="852.5" stroke="#333" stroke-width="0.9" />
<line x1="200.2" y1="852.5" x2="252.7" y2="852.5" stroke="#333" stroke-width="0.9" />
<line x1="143.9" y1="762.1" x2="145.4" y2="762.1" stroke="#444" stroke-width="0.5" />
<text x="142.9" y="763.6" font-size="4.5" fill="#555" text-anchor="end" >1500</text>
<line x1="143.9" y1="790.7" x2="145.4" y2="790.7" stroke="#444" stroke-width="0.5" />
<text x="142.9" y="792.2" font-size="4.5" fill="#555" text-anchor="end" >1000</text>
<line x1="143.9" y1="819.7" x2="145.4" y2="819.7" stroke="#444" stroke-width="0.5" />
<text x="142.9" y="821.2" font-size="4.5" fill="#555" text-anchor="end" >500</text>
<line x1="143.9" y1="848.6" x2="145.4" y2="848.6" stroke="#444" stroke-width="0.5" />
<text x="142.9" y="850.1" font-size="4.5" fill="#555" text-anchor="end" >0</text>
<text x="0.0" y="0.0" font-size="5.5" fill="#000" text-anchor="middle" font-weight="bold" transform="translate(128,797) rotate(-90)">FCRL6</text>
<text x="171.6" y="751.1" font-size="4.9" fill="#333" text-anchor="middle" >3.089408e-13</text>
<path d="M159.3,754.4 L159.3,752.4 L183.9,752.4 L183.9,754.4" fill="none" stroke="#777" stroke-width="0.5"/>
<text x="226.5" y="751.1" font-size="4.9" fill="#333" text-anchor="middle" >2.745989e-09</text>
<path d="M214.5,754.4 L214.5,752.4 L238.5,752.4 L238.5,754.4" fill="none" stroke="#777" stroke-width="0.5"/>
<line x1="159.6" y1="852.0" x2="159.6" y2="853.5" stroke="#444" stroke-width="0.5" />
<text x="159.6" y="858.3" font-size="5" fill="#777" text-anchor="middle" >CMV+</text>
<line x1="183.0" y1="852.0" x2="183.0" y2="853.5" stroke="#444" stroke-width="0.5" />
<text x="183.0" y="858.3" font-size="5" fill="#777" text-anchor="middle" >CMV-</text>
<line x1="215.0" y1="852.0" x2="215.0" y2="853.5" stroke="#444" stroke-width="0.5" />
<text x="215.0" y="858.3" font-size="5" fill="#777" text-anchor="middle" >CMV+</text>
<line x1="238.4" y1="852.0" x2="238.4" y2="853.5" stroke="#444" stroke-width="0.5" />
<text x="238.4" y="858.3" font-size="5" fill="#777" text-anchor="middle" >CMV-</text>
<text x="199.1" y="864.0" font-size="5.8" fill="#000" text-anchor="middle" font-weight="bold" >CMV_IgG_Serology</text>
<text x="271.3" y="733.2" font-size="11" fill="#000" text-anchor="start" textLength="87.5" lengthAdjust="spacingAndGlyphs" >Protein abundance</text>
<rect x="266.9" y="738.6" width="55.5" height="8.6" fill="#fff" stroke="#333" stroke-width="0.7"/>
<text x="294.6" y="745.4" font-size="4.6" fill="#333" text-anchor="middle" >Discovery</text>
<rect x="325.5" y="738.6" width="56.2" height="8.6" fill="#fff" stroke="#333" stroke-width="0.7"/>
<text x="353.6" y="745.4" font-size="4.6" fill="#333" text-anchor="middle" >Validation</text>
<g stroke="#d2b0d2" stroke-width="0.6" fill="none">
<rect x="273.0" y="784.0" width="17.8" height="16.3"/>
<line x1="273.0" y1="792.2" x2="290.8" y2="792.2" stroke-width="0.9"/>
<line x1="281.9" y1="770.0" x2="281.9" y2="784.0"/>
<line x1="281.9" y1="800.3" x2="281.9" y2="815.0"/>
</g>
<g stroke="#f0dc80" stroke-width="0.6" fill="none">
<rect x="298.3" y="798.3" width="18.4" height="17.0"/>
<line x1="298.3" y1="805.6" x2="316.7" y2="805.6" stroke-width="0.9"/>
<line x1="307.5" y1="783.0" x2="307.5" y2="798.3"/>
<line x1="307.5" y1="815.3" x2="307.5" y2="838.0"/>
</g>
<g stroke="#d2b0d2" stroke-width="0.6" fill="none">
<rect x="331.6" y="781.9" width="18.4" height="19.7"/>
<line x1="331.6" y1="791.3" x2="350.0" y2="791.3" stroke-width="0.9"/>
<line x1="340.8" y1="762.0" x2="340.8" y2="781.9"/>
<line x1="340.8" y1="801.6" x2="340.8" y2="830.0"/>
</g>
<g stroke="#f0dc80" stroke-width="0.6" fill="none">
<rect x="357.2" y="798.3" width="18.4" height="17.6"/>
<line x1="357.2" y1="807.7" x2="375.6" y2="807.7" stroke-width="0.9"/>
<line x1="366.4" y1="785.0" x2="366.4" y2="798.3"/>
<line x1="366.4" y1="815.9" x2="366.4" y2="840.0"/>
</g>
<path d="M285.9 795.5h0M282.6 795.1h0M280.9 781.3h0M287.2 787.1h0M280.5 784.0h0M277.8 772.5h0M286.1 785.0h0M282.9 790.4h0M280.7 784.8h0M277.9 797.1h0M281.3 792.7h0M281.2 790.4h0M285.5 799.0h0M281.7 783.1h0M276.9 802.9h0M285.8 796.9h0M287.2 809.1h0M277.0 787.7h0M277.7 793.2h0M286.9 819.4h0M281.7 798.0h0M282.6 795.0h0M277.1 813.6h0M276.4 793.6h0M285.8 799.4h0M285.1 784.9h0M284.8 801.4h0M277.8 791.4h0M278.2 785.6h0M277.5 798.0h0M276.9 787.3h0M276.4 792.8h0M276.6 789.0h0M276.6 812.8h0M279.3 808.7h0M281.8 770.5h0M281.1 794.3h0M277.5 775.5h0M286.7 806.1h0M279.0 797.7h0M287.3 797.2h0M277.1 778.8h0M285.7 818.0h0M281.9 796.2h0M285.7 777.9h0M276.6 779.7h0M281.0 804.3h0M276.8 787.5h0M280.9 789.3h0M279.7 775.9h0M276.5 773.1h0M286.9 787.8h0M278.2 795.6h0M280.0 804.9h0M277.8 806.5h0M285.4 771.0h0M283.1 795.1h0M284.0 785.8h0M286.9 799.7h0M277.7 814.0h0M281.6 789.0h0M285.7 773.2h0M283.2 778.7h0M286.0 789.8h0M280.3 790.5h0M280.2 795.3h0M283.8 787.1h0M283.0 784.4h0M277.2 783.7h0M280.4 799.6h0M281.3 798.3h0M281.2 800.8h0M281.0 798.3h0M285.4 779.5h0M283.5 783.3h0M281.7 792.5h0M276.4 804.6h0M287.3 797.4h0M286.0 781.4h0M283.8 789.6h0M283.2 795.6h0M278.2 798.0h0M276.5 808.9h0M286.3 805.6h0M285.0 813.7h0M280.7 798.9h0M283.6 789.7h0M287.1 807.4h0M279.8 789.3h0M281.1 786.1h0M285.2 812.1h0M286.5 811.3h0M285.6 769.3h0M277.5 798.6h0M278.4 792.5h0M277.1 808.8h0M280.9 811.5h0M283.4 810.6h0M287.1 786.5h0M277.4 784.6h0M282.5 814.5h0M279.1 778.5h0M278.5 787.3h0M286.3 783.1h0M279.5 788.7h0M280.3 799.9h0M281.1 784.2h0M283.4 806.6h0M277.1 781.6h0M277.8 809.3h0M279.3 791.5h0M284.5 792.6h0M284.6 807.2h0M281.8 786.8h0M283.2 778.8h0M287.3 788.3h0M284.1 782.3h0M280.5 808.0h0M279.9 806.8h0M281.2 779.6h0M277.1 777.6h0M284.0 780.1h0M281.4 784.4h0M285.7 790.0h0M276.6 790.8h0M278.5 773.7h0M280.1 797.7h0M281.3 795.2h0M280.0 795.7h0M282.2 791.8h0M278.7 808.5h0M286.0 781.8h0M285.2 806.0h0M277.2 795.8h0M277.3 782.8h0M285.1 780.5h0M282.0 770.1h0M284.6 798.3h0M286.6 783.4h0M281.3 774.9h0M281.5 800.9h0M284.5 782.9h0M282.9 795.7h0M285.1 794.4h0M283.1 806.8h0M282.8 773.0h0M277.8 777.3h0M286.0 793.2h0M279.0 792.3h0M281.2 794.1h0M281.1 773.7h0M278.2 787.4h0M281.8 802.6h0M276.7 788.2h0M287.2 778.7h0M286.9 768.2h0M283.1 790.0h0M286.4 792.5h0M279.2 776.9h0M277.0 796.1h0M286.3 785.2h0M279.1 787.3h0M286.4 781.6h0M282.3 785.9h0M279.0 812.7h0M285.7 780.5h0M285.9 799.9h0M283.5 793.6h0M282.7 774.6h0M278.5 759.2h0M279.5 809.1h0M277.4 807.0h0M283.3 806.3h0M276.9 773.7h0M277.3 787.1h0M286.5 777.2h0M277.6 786.8h0M285.9 799.5h0M278.4 805.5h0M286.7 779.6h0M277.5 779.6h0M280.7 787.4h0M280.3 795.2h0M283.2 789.6h0M287.3 788.3h0M281.0 790.3h0M279.9 806.3h0M280.1 770.9h0M281.3 772.5h0M281.8 804.6h0M283.9 773.3h0M287.2 796.1h0M279.6 781.7h0M279.8 782.3h0M285.4 793.1h0M283.0 804.4h0M278.1 797.4h0M277.3 808.0h0M281.2 787.6h0M278.5 800.3h0M284.8 805.4h0M280.4 793.1h0M282.9 815.1h0M284.6 796.6h0M281.5 793.6h0M277.0 776.6h0M282.4 797.2h0M277.3 800.7h0M286.0 780.2h0M282.7 780.1h0M276.4 769.1h0M286.7 771.9h0M280.8 782.7h0M286.5 803.6h0M279.6 781.4h0M284.1 806.9h0M285.8 779.1h0M283.5 778.3h0M286.3 793.6h0M280.1 808.5h0M285.6 793.1h0M277.9 814.9h0M281.8 795.0h0M280.5 786.1h0M283.2 773.6h0M278.0 783.2h0M279.2 803.3h0M286.4 806.6h0M284.3 779.3h0M280.8 801.2h0M279.4 781.9h0M276.5 789.9h0M286.4 789.6h0M278.7 791.0h0M287.4 805.3h0M279.1 785.5h0M285.4 807.5h0M284.6 787.2h0M279.8 788.5h0M283.3 795.7h0M284.3 791.0h0M283.8 799.7h0M287.3 800.3h0M286.0 778.5h0M277.9 778.1h0M279.5 793.4h0M283.7 790.4h0M279.9 813.0h0M287.0 799.5h0M278.7 811.6h0M277.1 798.1h0M279.2 771.4h0M282.9 779.1h0M278.0 791.9h0M277.3 770.5h0M277.6 770.5h0M276.9 788.8h0M280.8 809.1h0M285.2 802.8h0M278.5 787.4h0M282.8 785.7h0M285.9 783.8h0M285.0 799.5h0M281.8 775.7h0M283.5 790.4h0M282.2 806.3h0M279.0 813.1h0M286.2 803.3h0M279.8 780.1h0M280.1 782.3h0M278.7 774.4h0M279.6 802.3h0M282.1 771.7h0M277.1 792.6h0M281.7 790.0h0M286.2 807.9h0M285.3 779.4h0M286.6 784.5h0M283.4 800.5h0M278.9 792.2h0M287.0 802.0h0M278.9 805.3h0M283.8 809.8h0M281.8 790.5h0M278.8 803.7h0M278.2 798.0h0M277.1 786.7h0M277.1 795.7h0M285.9 799.0h0M277.8 792.2h0M281.6 780.0h0M281.7 781.5h0M281.2 771.2h0M277.6 782.3h0M281.3 807.4h0M276.6 800.9h0M286.7 772.3h0M279.7 774.3h0M284.0 803.2h0M280.3 773.5h0M276.8 791.5h0M285.4 810.0h0M276.9 801.2h0M287.1 774.2h0M283.5 771.8h0M282.9 811.8h0M278.1 816.8h0M285.5 803.8h0M279.9 810.4h0M286.0 776.3h0M280.3 776.5h0M286.9 774.6h0M276.6 789.0h0M287.0 787.8h0M278.4 777.4h0M287.4 819.5h0M286.3 790.0h0M285.6 793.6h0M284.2 795.6h0M283.1 814.9h0M284.7 774.4h0M281.7 804.9h0M285.0 792.9h0M286.4 789.8h0M280.4 793.2h0M279.7 789.2h0M281.7 794.9h0M282.6 800.2h0M285.4 797.0h0M280.0 799.8h0M278.9 791.2h0M283.5 774.8h0M285.3 793.0h0M283.9 800.7h0M284.0 775.1h0M286.3 781.3h0M276.9 804.7h0M278.6 791.7h0M283.6 805.0h0M286.0 773.0h0M286.8 803.2h0M285.6 789.0h0M282.2 788.5h0M281.2 803.2h0M285.9 811.3h0M282.3 777.9h0M276.6 814.1h0M279.2 797.9h0M276.6 800.5h0M276.4 794.0h0M285.0 817.4h0M280.6 797.3h0M281.4 802.7h0M285.6 800.6h0M282.3 809.7h0M286.2 788.6h0M279.9 776.8h0M285.5 803.2h0M287.3 776.1h0M282.7 779.5h0M277.2 775.3h0M282.4 791.2h0M281.3 786.0h0M276.4 786.3h0M279.7 809.2h0M283.1 779.6h0M278.1 796.9h0M282.5 802.5h0M280.2 793.7h0M283.0 787.1h0M283.7 801.2h0M282.7 780.7h0M280.8 803.5h0M281.7 775.1h0M277.9 811.7h0M287.2 786.7h0M285.3 783.7h0M281.1 805.4h0M283.2 795.4h0M281.9 795.3h0M287.4 793.2h0M283.7 781.5h0M282.8 791.9h0M278.6 804.2h0M286.8 785.8h0M285.1 804.2h0M286.0 759.8h0M285.9 790.2h0M287.1 791.4h0M280.6 802.2h0M282.9 802.0h0M277.8 807.2h0M281.8 795.8h0M283.1 795.6h0M286.4 778.3h0M279.4 801.5h0M287.3 789.4h0M283.7 777.5h0M283.8 788.6h0M279.4 806.9h0M283.9 784.3h0M282.3 799.5h0M284.7 773.4h0M283.1 796.0h0M286.0 807.8h0M287.2 808.3h0M278.9 772.7h0M285.9 799.5h0M278.5 802.7h0M277.8 814.1h0M278.1 785.6h0M281.2 782.7h0M280.3 814.7h0M283.3 791.2h0M279.2 789.1h0M279.8 802.7h0M286.3 783.9h0M279.9 777.4h0M276.7 790.1h0M281.3 802.4h0M283.6 812.8h0M277.7 770.5h0M278.6 791.7h0M281.2 796.5h0M280.7 796.5h0M282.7 804.9h0M280.7 813.6h0M286.3 784.9h0M280.0 790.5h0M282.2 810.2h0M285.5 799.2h0M280.5 784.6h0M287.0 785.6h0M277.1 784.1h0M285.6 807.8h0M279.0 807.6h0M278.6 812.4h0M283.0 790.0h0M285.4 789.5h0M277.0 780.9h0M286.7 773.9h0M277.7 797.2h0M284.5 797.9h0M285.5 788.8h0M282.2 792.3h0M281.9 779.8h0M285.0 782.4h0M285.3 787.4h0M283.2 789.4h0M286.7 770.7h0M283.1 797.9h0M276.5 799.4h0M282.6 802.7h0M278.0 770.9h0M279.0 781.0h0M280.5 798.5h0M277.2 793.2h0M284.6 800.4h0M277.8 811.7h0M278.6 810.8h0M286.9 792.8h0M279.8 791.1h0M283.4 770.9h0M280.9 808.8h0M282.5 800.4h0M278.6 791.1h0M276.8 801.0h0M278.3 799.8h0M278.3 774.7h0M285.5 784.2h0M278.2 791.5h0M280.6 776.2h0M282.7 789.1h0M278.4 787.3h0M281.6 779.1h0M276.8 819.7h0M279.3 799.3h0M284.0 798.4h0M280.8 791.2h0M278.7 806.7h0M281.3 785.8h0M279.0 789.3h0M278.2 775.8h0M277.5 802.1h0M281.2 797.9h0M286.2 777.0h0M284.0 773.4h0M283.4 790.0h0M276.8 809.2h0M285.9 786.9h0M286.8 790.6h0M285.3 782.9h0M281.8 811.3h0M286.8 792.6h0M278.5 796.5h0M283.6 779.1h0M280.0 801.2h0M281.6 790.5h0M281.3 807.8h0M286.3 773.2h0M281.0 782.6h0M282.4 807.4h0M286.5 795.9h0M281.6 785.2h0M280.3 792.1h0M278.4 798.8h0M284.8 773.6h0M286.0 763.0h0M277.1 778.1h0M283.7 773.8h0M286.9 810.7h0M279.2 784.3h0M280.1 770.7h0M277.2 805.7h0M284.8 797.0h0M278.8 799.1h0M279.9 780.9h0M282.3 774.6h0M282.4 803.0h0M287.1 783.2h0M282.6 801.4h0M277.7 814.3h0M286.9 803.8h0M279.2 794.8h0M287.3 770.2h0M286.9 799.0h0M279.1 803.1h0M276.9 795.8h0M278.3 775.6h0M282.7 788.8h0M283.8 793.1h0M279.6 785.5h0M285.2 788.7h0M281.1 795.2h0M276.8 821.3h0M282.1 814.4h0M277.3 790.6h0M283.0 775.3h0M279.0 806.4h0M279.4 789.2h0M281.3 801.0h0M279.4 814.4h0M276.7 776.4h0M279.1 802.1h0M281.2 806.8h0M279.6 770.2h0M284.9 797.9h0M280.1 781.3h0M280.2 792.8h0M277.2 782.7h0M278.9 787.7h0M285.1 785.3h0M286.8 814.6h0M283.7 789.6h0M284.6 800.5h0M277.7 772.8h0M283.9 804.7h0M283.0 812.3h0M284.5 807.8h0M286.3 791.7h0M284.9 794.8h0M282.1 783.7h0M277.4 794.1h0M281.5 795.5h0M280.2 808.0h0M282.2 798.6h0M286.5 786.6h0M282.1 775.4h0M280.7 801.4h0M285.8 778.9h0M277.6 792.2h0M286.9 808.7h0M283.5 779.9h0M285.8 787.8h0M283.8 782.8h0M282.0 777.0h0M279.9 801.4h0M282.3 811.3h0M283.8 805.6h0M276.8 788.9h0M285.0 813.3h0M278.2 787.2h0M277.0 784.2h0M281.8 795.4h0M280.0 783.7h0M282.7 778.1h0M280.6 803.6h0M276.9 782.3h0M277.2 780.4h0M282.9 784.0h0M286.0 794.2h0M279.7 784.8h0M284.8 813.5h0M278.8 812.4h0M277.4 797.2h0M282.8 778.0h0M286.7 777.2h0M285.2 797.9h0M286.6 802.4h0M284.2 772.4h0M277.4 784.3h0M279.3 793.2h0M283.0 784.3h0M279.2 804.8h0M286.8 795.4h0M280.8 780.8h0M282.2 808.7h0M285.2 788.7h0M286.7 785.3h0M285.2 785.2h0M285.7 774.2h0M278.9 810.3h0M276.5 789.4h0M280.4 814.3h0M279.7 783.4h0M284.0 772.4h0M285.7 777.6h0M279.0 787.0h0M286.7 791.7h0M277.9 779.4h0M281.0 775.8h0M286.6 801.1h0M281.4 792.0h0M277.5 801.4h0M278.8 802.5h0M284.8 803.9h0M287.1 797.5h0M278.4 804.8h0M278.8 800.0h0M277.1 790.1h0M284.5 810.5h0M276.9 792.7h0M278.5 775.0h0M276.7 790.3h0M278.8 809.5h0M276.9 776.7h0M280.7 792.8h0M287.1 800.2h0M285.5 814.6h0M279.6 791.5h0M284.9 806.5h0M287.2 807.3h0M276.8 794.9h0M281.8 779.3h0M285.5 809.3h0M285.1 788.5h0M278.5 782.5h0M282.9 770.0h0M286.5 778.2h0M284.0 801.8h0M283.1 779.5h0M285.3 795.6h0M286.0 790.8h0M285.8 807.3h0M276.6 784.3h0M276.7 783.8h0M278.9 798.4h0M278.7 789.6h0M287.0 797.1h0M278.9 792.7h0M284.1 811.2h0M282.5 775.3h0M285.9 772.7h0M280.5 805.5h0M279.0 796.1h0M286.6 770.9h0M279.4 807.4h0M286.4 812.8h0M277.6 783.7h0M285.7 801.0h0M280.1 791.4h0M276.5 793.6h0M280.2 800.9h0M281.8 814.7h0M278.7 795.3h0M277.2 814.9h0M284.7 771.9h0M279.5 794.6h0M286.1 799.0h0M279.4 772.9h0M282.3 777.1h0M280.9 784.4h0M286.5 805.0h0M281.6 774.8h0M287.4 801.6h0M283.0 783.4h0M284.6 797.3h0M277.5 801.3h0M284.1 798.7h0M282.5 805.9h0M280.7 806.0h0M278.7 806.2h0M286.7 798.1h0M277.2 813.3h0M276.8 804.2h0M278.9 796.9h0M280.6 807.6h0M280.4 809.4h0M286.1 799.5h0M279.5 770.4h0M287.2 792.3h0M277.4 764.4h0M279.0 805.0h0M277.9 818.7h0M279.0 808.5h0M282.6 802.0h0M277.0 791.4h0M285.2 810.3h0M280.9 806.8h0M278.1 797.3h0M281.7 821.1h0M277.8 812.4h0M282.4 775.0h0M283.0 802.6h0M286.1 783.2h0M282.9 776.7h0M277.0 806.0h0M281.5 795.1h0M284.3 804.5h0M277.6 781.9h0M281.8 784.9h0M286.2 789.7h0M287.2 803.1h0M278.2 774.5h0M286.4 799.6h0M282.8 769.2h0M285.2 797.1h0M281.5 797.0h0M287.3 796.0h0M281.1 788.8h0M282.1 759.5h0M284.3 798.5h0M282.2 802.1h0M284.7 803.5h0M278.6 803.9h0M276.7 789.8h0M284.6 778.1h0M279.8 789.9h0M285.5 796.6h0M282.6 796.9h0M280.0 771.6h0M286.8 779.8h0M285.1 790.2h0M281.3 793.1h0M282.1 794.5h0M278.0 796.7h0M278.4 790.9h0M279.7 808.5h0M280.0 804.5h0M283.0 808.9h0M278.7 787.5h0M281.3 799.5h0M279.9 785.4h0M285.4 776.0h0M285.5 800.0h0M287.3 812.7h0M285.2 781.4h0M286.4 810.4h0M283.8 802.2h0M277.2 798.2h0M277.7 807.1h0M278.3 781.7h0M286.0 776.3h0M277.6 783.8h0M280.8 793.8h0M277.6 798.7h0M282.2 779.1h0M277.8 785.9h0M283.5 785.8h0M285.2 809.7h0M282.6 807.3h0M277.2 807.1h0M277.3 802.4h0M277.3 787.0h0M277.5 809.7h0M279.6 787.2h0M284.6 788.8h0M281.8 775.4h0M286.0 809.6h0M283.1 772.9h0M287.0 785.4h0M276.8 794.7h0M280.4 790.6h0M287.3 783.0h0M282.6 792.6h0M280.1 789.9h0M282.6 803.6h0M282.1 804.7h0M283.9 789.5h0M280.4 780.0h0M277.9 791.1h0M285.0 810.7h0M282.1 813.5h0M281.0 810.3h0M283.9 772.5h0M279.6 770.7h0M282.1 788.5h0M284.9 794.5h0M277.0 774.5h0M283.8 801.5h0M287.1 780.4h0M276.6 793.4h0M280.2 776.4h0M284.9 780.2h0M277.1 778.6h0M276.7 786.4h0M285.3 803.9h0M287.3 793.9h0M276.7 802.2h0M279.4 795.4h0M286.6 808.0h0M277.6 810.3h0M280.9 819.9h0M280.2 830.1h0M286.3 799.9h0M283.3 785.8h0M284.0 785.7h0M284.3 783.2h0M283.3 800.5h0M283.9 812.3h0M281.4 783.8h0M278.5 790.6h0M281.3 809.7h0M280.5 774.8h0M278.2 779.1h0M286.0 811.2h0M280.0 790.1h0M282.8 803.0h0M279.7 800.0h0M280.2 785.2h0M280.8 784.8h0M279.1 792.6h0M278.0 793.1h0M285.8 783.9h0M279.0 794.7h0M276.9 786.8h0M278.6 792.5h0M286.8 799.5h0M286.5 792.0h0M280.2 778.2h0M279.4 784.8h0M283.7 806.6h0M280.6 785.1h0M284.1 783.7h0M285.4 807.3h0M276.4 801.5h0M280.0 788.7h0M278.2 784.4h0M279.7 799.6h0M280.3 782.4h0M284.0 779.4h0M283.7 784.2h0M282.8 778.1h0M278.4 771.6h0M286.7 804.8h0M279.4 795.4h0M280.0 794.1h0M278.8 808.0h0M276.7 791.3h0M280.1 806.7h0M283.9 806.3h0M282.1 798.1h0M284.8 781.8h0M280.0 790.7h0M280.8 773.1h0M278.5 790.0h0M279.6 796.2h0M280.2 806.7h0M281.7 772.2h0M281.6 808.0h0M285.4 772.2h0M286.7 802.8h0M286.5 802.0h0M282.4 783.4h0M278.7 771.4h0M281.5 794.3h0M284.7 790.2h0M285.4 790.7h0M277.0 801.9h0M282.8 808.4h0M276.8 783.5h0M287.3 781.8h0M277.6 805.9h0M276.8 793.5h0M281.6 798.9h0M280.8 797.7h0M278.8 807.6h0M287.1 810.5h0M278.2 797.3h0M278.9 778.3h0M285.4 784.3h0M287.1 789.1h0M281.2 797.7h0M285.5 801.7h0M286.2 810.9h0M282.0 814.7h0M279.0 796.2h0M283.5 786.8h0M287.4 774.6h0M282.9 791.4h0M280.9 811.2h0M282.8 781.1h0M280.4 807.4h0M281.6 798.9h0M280.8 771.2h0M283.4 789.7h0M282.0 770.7h0M283.7 790.8h0M281.8 792.5h0M284.7 786.9h0M280.8 781.9h0M283.0 777.3h0M285.1 800.0h0M284.3 781.1h0M279.4 776.9h0M280.3 788.9h0M281.8 781.5h0M282.3 808.8h0M277.1 773.4h0M282.8 784.3h0M283.0 817.9h0M276.7 809.3h0M285.5 804.5h0M278.8 801.7h0M286.4 791.1h0M276.5 789.6h0M277.0 776.5h0M282.7 810.8h0M276.9 786.8h0M283.1 777.8h0M282.9 808.7h0M283.2 780.1h0M280.7 795.7h0M279.3 792.8h0M281.5 780.3h0M286.3 813.4h0M280.4 805.2h0M283.5 813.5h0M277.6 779.7h0M286.6 792.3h0M278.9 805.7h0M279.2 779.3h0M278.6 801.4h0M281.1 789.7h0M277.7 809.8h0M281.5 787.6h0M279.9 807.7h0M280.3 797.0h0M283.8 799.8h0M285.4 791.1h0M285.5 799.7h0M287.2 809.0h0M282.1 793.3h0M283.7 781.4h0M278.3 794.9h0M283.8 795.7h0M287.4 776.9h0M287.2 791.4h0M283.5 788.7h0M286.2 803.5h0M283.1 780.5h0M277.5 786.1h0M278.0 783.0h0M278.6 782.3h0M278.5 803.9h0M281.0 814.1h0M277.0 806.7h0M286.6 800.3h0M279.9 807.8h0M286.1 813.7h0M285.3 794.3h0M277.9 784.2h0M278.7 800.4h0M281.7 787.7h0M278.0 786.3h0M278.8 783.4h0M283.1 808.3h0M278.5 784.9h0M279.9 779.6h0M283.8 796.9h0M282.8 814.4h0M281.1 798.6h0M279.3 787.1h0M277.1 810.1h0M283.1 781.4h0M281.5 779.2h0M287.1 796.7h0M281.9 772.1h0M284.1 778.3h0M285.3 805.3h0M279.9 782.9h0M287.3 801.6h0M284.2 793.0h0M281.1 770.5h0M276.6 809.3h0M279.0 809.6h0M282.9 787.9h0M286.6 796.2h0M285.0 781.9h0M281.2 788.8h0M286.8 790.8h0M286.8 774.0h0M284.6 795.0h0M286.2 802.3h0M282.1 802.1h0M280.3 777.3h0M286.5 789.7h0M278.6 792.7h0M285.1 774.4h0M283.5 787.9h0M279.7 788.6h0M282.2 811.7h0M279.7 791.9h0M285.8 794.2h0M281.0 782.7h0M284.7 806.8h0M285.1 789.1h0M279.7 805.5h0M281.8 774.3h0M281.9 802.7h0M284.3 781.8h0M285.4 802.3h0M277.6 795.4h0M277.3 786.7h0M285.2 773.7h0M286.8 788.3h0M286.3 793.0h0M282.8 794.2h0M277.2 797.9h0M280.0 770.3h0M281.8 779.5h0M279.5 787.8h0M281.1 803.3h0M280.0 805.0h0M286.4 782.6h0M285.2 778.9h0M280.5 777.3h0M286.4 802.9h0M284.5 782.9h0M280.2 768.3h0M283.0 790.6h0M285.5 791.5h0M284.4 809.3h0M281.9 812.2h0M285.5 803.7h0M279.9 792.2h0M283.1 771.2h0M280.5 779.8h0M285.7 778.7h0M278.9 789.3h0M284.7 814.7h0M280.5 807.0h0M277.4 798.4h0M279.8 789.2h0M286.4 814.6h0M279.8 790.1h0M277.3 800.0h0M284.0 795.2h0M285.4 780.1h0M283.4 785.2h0M286.9 791.7h0M281.6 790.2h0M281.5 772.2h0M282.5 792.4h0M280.5 796.1h0M277.6 798.5h0M287.0 796.8h0M276.5 809.0h0M280.8 770.7h0M278.1 795.4h0M277.4 794.5h0M276.5 807.3h0M278.2 771.2h0M281.1 782.4h0M281.6 775.8h0M286.6 779.4h0M281.2 778.8h0M285.6 792.1h0M279.8 788.0h0M284.4 774.5h0M285.4 788.5h0M277.2 814.2h0M284.1 798.8h0M280.5 798.1h0M286.8 775.7h0M276.8 813.7h0M284.4 801.6h0M285.7 808.3h0M277.6 770.8h0M282.2 770.1h0M287.0 784.6h0M278.5 764.5h0M283.8 786.5h0M280.5 798.9h0M279.9 814.2h0M283.8 781.1h0M279.9 801.7h0M276.9 792.8h0M286.2 781.4h0M276.9 799.7h0M281.2 816.2h0M277.3 789.3h0M281.9 791.1h0M282.0 804.1h0M283.0 807.5h0M285.8 810.6h0M278.8 791.1h0M284.2 786.9h0M278.8 777.5h0M280.5 793.6h0M280.2 805.1h0M286.2 819.0h0M283.2 790.7h0M284.8 792.2h0M286.0 807.9h0M287.0 774.3h0M285.7 808.4h0M283.3 779.0h0M282.8 776.3h0M277.8 788.5h0M277.0 783.4h0M285.8 812.2h0M284.8 801.0h0M277.4 797.2h0M277.6 799.6h0M278.6 811.1h0M281.7 795.0h0M285.8 767.2h0M285.6 788.5h0M278.4 798.7h0M282.3 783.3h0M286.8 783.4h0M286.0 792.2h0M279.7 783.6h0M286.4 784.7h0M285.1 814.6h0M278.7 798.1h0M278.3 794.0h0M285.5 778.6h0M282.2 782.1h0M277.2 800.0h0M283.3 813.1h0M276.8 786.4h0M286.4 784.7h0M281.0 808.2h0M279.8 796.5h0M284.7 814.2h0M285.9 799.5h0M278.1 778.8h0M282.0 814.3h0M276.9 785.8h0M277.1 796.1h0M280.7 778.7h0M283.7 798.1h0M282.9 776.6h0M277.0 810.8h0M279.9 794.7h0M282.9 794.8h0M280.6 811.0h0M279.8 795.3h0M286.8 812.6h0M281.7 780.1h0M276.6 789.9h0M283.5 797.3h0M282.5 774.0h0M285.8 793.6h0M285.5 813.1h0M285.5 781.0h0M282.8 774.5h0M279.5 784.6h0M284.9 799.7h0M282.3 776.7h0M283.2 773.8h0M277.2 770.2h0M286.9 791.9h0M277.6 793.0h0M282.1 776.8h0M286.0 795.7h0M285.0 802.2h0M286.2 788.2h0M277.4 785.8h0M281.5 789.8h0M278.2 793.3h0M283.3 791.2h0M278.3 793.6h0M282.0 794.8h0M286.2 792.0h0M278.1 772.6h0M280.5 783.5h0M280.0 808.1h0M285.9 804.5h0M280.2 810.7h0M281.1 802.4h0M283.0 796.2h0M276.9 800.9h0M280.9 793.5h0M284.4 788.7h0M277.9 786.8h0M283.8 775.3h0M280.2 786.3h0M283.6 810.5h0M276.8 789.3h0M285.7 801.9h0M279.9 784.2h0M277.6 808.5h0M280.6 793.9h0M281.2 797.2h0M280.1 778.1h0M276.4 780.0h0M280.0 794.1h0M280.6 788.4h0M283.0 789.7h0M283.9 771.0h0M276.6 802.1h0M284.3 780.3h0M280.2 794.8h0M287.1 791.8h0M284.3 810.7h0M277.5 782.2h0M276.8 792.6h0M282.1 786.4h0M285.2 786.1h0M281.5 797.3h0M278.3 791.6h0M282.3 798.5h0M281.1 787.3h0M285.0 781.9h0M281.5 774.9h0M277.1 793.9h0M276.9 795.3h0M284.6 794.2h0M281.1 791.4h0M285.2 778.9h0M285.9 793.0h0M282.7 811.9h0M277.9 783.9h0M284.0 799.9h0M279.1 811.1h0M285.0 804.0h0M285.9 776.5h0M278.3 789.5h0M285.2 783.1h0M285.9 780.7h0M282.5 805.9h0M281.9 779.2h0M283.1 782.0h0M280.2 783.8h0M283.1 808.5h0M283.5 805.7h0M276.9 809.9h0M279.5 811.8h0M283.4 798.7h0M276.5 791.7h0M278.2 808.9h0M283.4 773.8h0M278.7 783.9h0M280.3 796.8h0M286.7 778.9h0M278.9 793.4h0M278.8 802.1h0M279.7 770.0h0M279.0 792.2h0M284.3 780.5h0M283.6 794.0h0M279.9 772.8h0M284.9 786.5h0M280.2 804.4h0M285.9 786.2h0M277.4 793.6h0M281.1 771.4h0M282.2 785.4h0M285.4 775.4h0M285.7 804.3h0M280.4 807.1h0M280.7 796.3h0M282.0 786.2h0M287.4 787.5h0M281.3 784.1h0M278.2 802.0h0M284.0 791.6h0M285.8 794.6h0M284.1 796.9h0M277.3 785.5h0M276.9 775.0h0M282.0 781.0h0M285.6 803.1h0M284.7 785.5h0M281.4 780.1h0M279.3 797.8h0M282.1 788.7h0M278.5 798.3h0M282.7 776.6h0M286.6 788.0h0M284.0 788.3h0M284.9 796.5h0M277.4 796.8h0M283.7 800.1h0M286.9 787.4h0M287.3 809.3h0M280.0 804.0h0M279.6 820.7h0M280.9 820.5h0M283.7 825.4h0M276.5 824.7h0M278.0 823.3h0M277.7 824.1h0M277.1 829.3h0M279.3 821.7h0M277.3 815.1h0M278.0 817.3h0M284.0 818.2h0M277.0 827.2h0M281.4 824.1h0M281.5 825.5h0M286.0 823.4h0M282.3 825.3h0M276.8 828.2h0M282.3 816.6h0M286.7 815.7h0M280.7 817.2h0M283.4 821.7h0M283.1 829.2h0M279.6 819.5h0M278.2 824.9h0M278.6 815.1h0M278.4 818.3h0M277.1 827.7h0M279.5 815.1h0M283.9 821.6h0M279.0 822.3h0M277.6 816.8h0M277.8 826.4h0M284.1 817.5h0M286.6 817.4h0M287.1 815.6h0M284.6 824.6h0M281.5 820.0h0M280.7 821.9h0M278.1 826.6h0M280.5 820.3h0M280.0 846.0h0M284.0 840.0h0M278.0 835.0h0M283.0 830.0h0M281.0 755.0h0M285.0 758.0h0" stroke="#a462a4" stroke-opacity="0.9" stroke-width="1.6" stroke-linecap="round" fill="none"/>
<path d="M310.0 814.8h0M313.0 817.1h0M301.9 819.3h0M301.1 816.5h0M301.4 811.2h0M305.1 787.3h0M308.4 796.8h0M313.7 805.0h0M301.5 797.4h0M307.2 806.6h0M304.2 823.9h0M301.4 768.6h0M311.5 802.8h0M307.1 807.2h0M306.3 821.7h0M307.8 816.2h0M301.2 804.8h0M307.1 803.2h0M313.0 786.7h0M301.4 811.9h0M302.5 801.6h0M311.9 796.4h0M304.8 811.3h0M305.1 785.5h0M308.2 801.5h0M313.7 816.3h0M313.7 803.7h0M306.5 818.6h0M310.0 828.3h0M308.0 812.0h0M305.9 812.2h0M305.7 801.1h0M307.4 819.0h0M302.0 818.2h0M311.7 828.2h0M305.8 803.8h0M310.3 816.7h0M304.6 784.6h0M313.5 799.6h0M302.8 810.3h0M313.1 795.8h0M309.9 806.5h0M307.3 815.8h0M310.8 817.0h0M302.7 808.3h0M305.3 829.1h0M307.7 797.8h0M310.3 794.6h0M306.0 809.6h0M302.7 785.1h0M303.6 805.8h0M304.8 799.5h0M313.9 819.1h0M307.8 790.4h0M309.1 797.6h0M312.7 825.2h0M313.7 801.6h0M301.8 804.0h0M305.2 817.1h0M311.3 785.4h0M311.9 830.6h0M311.0 823.3h0M301.2 795.0h0M302.2 812.7h0M306.7 799.9h0M304.4 813.7h0M310.1 809.3h0M312.2 811.1h0M303.8 806.5h0M313.4 809.4h0M312.9 795.6h0M305.0 790.8h0M308.1 827.1h0M313.1 824.6h0M302.8 791.6h0M307.5 811.8h0M313.1 785.4h0M310.1 821.1h0M313.0 813.0h0M308.2 812.4h0M311.3 804.6h0M301.4 792.8h0M306.3 801.1h0M309.6 823.0h0M309.2 816.4h0M306.2 819.0h0M302.0 797.4h0M309.0 812.3h0M302.3 800.9h0M301.4 797.2h0M308.1 822.6h0M309.6 787.1h0M308.4 800.0h0M311.8 806.7h0M313.3 831.7h0M310.0 818.5h0M305.8 797.9h0M305.2 816.9h0M307.0 811.7h0M311.2 821.9h0M305.2 798.8h0M307.7 818.5h0M306.3 821.8h0M301.9 811.4h0M308.1 828.1h0M309.1 801.2h0M305.7 808.6h0M312.7 812.0h0M303.1 809.8h0M306.8 796.6h0M311.1 794.3h0M306.0 813.9h0M309.5 808.3h0M302.9 814.1h0M306.6 808.7h0M309.0 773.9h0M313.6 799.6h0M307.6 798.9h0M307.1 804.9h0M312.4 817.7h0M301.0 808.9h0M302.9 813.8h0M302.4 819.4h0M308.6 818.4h0M307.0 825.0h0M311.9 810.0h0M302.8 814.8h0M302.3 812.5h0M304.3 787.3h0M304.8 802.4h0M307.0 838.0h0M306.0 842.0h0M309.0 835.0h0" stroke="#ecca38" stroke-opacity="0.9" stroke-width="1.6" stroke-linecap="round" fill="none"/>
<path d="M345.5 799.0h0M337.9 803.3h0M346.0 817.6h0M336.7 798.8h0M339.4 783.2h0M334.9 771.8h0M337.7 791.2h0M345.6 810.7h0M341.2 791.4h0M341.1 787.5h0M342.6 806.0h0M345.8 795.2h0M336.4 796.2h0M339.8 768.4h0M340.0 818.6h0M341.3 794.7h0M339.8 782.8h0M345.2 760.0h0M342.5 793.8h0M344.2 807.1h0M336.0 787.8h0M345.8 817.7h0M341.9 816.7h0M335.5 772.5h0M343.7 781.0h0M345.1 795.7h0M344.8 785.8h0M338.9 791.5h0M342.2 769.5h0M337.4 799.9h0M346.8 799.9h0M343.4 758.4h0M344.8 820.2h0M337.0 768.1h0M334.9 814.0h0M339.0 772.8h0M335.1 778.4h0M336.8 770.7h0M334.8 762.8h0M335.3 808.3h0M340.9 792.9h0M339.2 765.6h0M335.2 780.5h0M346.6 794.8h0M346.1 780.0h0M340.6 808.7h0M341.9 768.5h0M341.8 800.6h0M345.3 777.8h0M338.3 778.6h0M340.3 779.5h0M343.1 792.3h0M338.0 816.1h0M338.5 802.0h0M343.7 792.0h0M335.8 781.7h0M341.7 766.6h0M338.4 796.1h0M342.7 787.7h0M336.7 782.3h0M339.5 788.8h0M340.1 793.3h0M337.1 788.8h0M341.4 798.5h0M343.5 807.1h0M342.9 776.6h0M337.2 776.2h0M346.6 773.4h0M338.5 814.5h0M344.0 762.4h0M336.9 781.7h0M338.7 813.5h0M336.6 812.6h0M341.3 782.8h0M335.1 772.5h0M346.2 779.3h0M338.1 801.1h0M340.3 795.6h0M341.4 798.2h0M343.3 770.0h0M337.7 790.5h0M344.2 799.2h0M345.9 805.2h0M336.9 812.9h0M340.6 813.5h0M340.3 791.2h0M346.7 795.7h0M345.7 786.6h0M344.7 786.4h0M343.7 781.5h0M335.6 808.8h0M346.5 770.7h0M346.5 797.7h0M345.1 803.6h0M340.3 775.1h0M335.2 805.5h0M336.7 824.7h0M345.3 815.2h0M339.4 789.0h0M343.6 793.2h0M344.4 766.7h0M336.9 813.5h0M344.5 813.2h0M341.8 780.4h0M343.0 770.1h0M340.9 818.8h0M339.4 775.8h0M337.3 792.5h0M342.6 764.2h0M344.2 817.5h0M344.1 789.9h0M342.4 771.9h0M337.3 798.9h0M341.7 768.7h0M339.9 758.5h0M337.6 771.4h0M345.5 779.5h0M342.8 769.4h0M336.0 815.0h0M337.8 819.9h0M341.7 777.8h0M337.8 809.2h0M338.2 786.4h0M335.0 787.8h0M339.6 816.1h0M338.4 796.2h0M342.1 786.6h0M335.2 812.5h0M335.4 789.5h0M346.7 794.1h0M339.2 813.4h0M344.4 784.5h0M345.0 778.9h0M345.1 792.2h0M340.3 780.5h0M341.9 818.0h0M343.9 812.3h0M337.9 780.8h0M341.1 772.7h0M336.2 790.7h0M337.0 783.2h0M337.5 810.2h0M345.1 768.0h0M344.3 821.8h0M336.0 784.0h0M338.0 776.6h0M342.1 773.2h0M343.1 784.3h0M335.4 806.0h0M343.2 763.2h0M342.9 806.9h0M344.2 782.7h0M339.9 774.3h0M336.6 803.7h0M346.3 780.3h0M344.6 763.2h0M335.8 769.1h0M337.2 795.6h0M345.1 772.7h0M341.3 808.4h0M338.1 799.7h0M338.7 813.4h0M338.9 805.3h0M337.5 765.1h0M346.1 808.2h0M346.1 787.2h0M336.7 799.0h0M346.4 791.1h0M342.9 815.1h0M339.8 778.4h0M345.9 785.0h0M342.2 789.8h0M341.2 808.8h0M343.4 794.0h0M345.5 774.2h0M338.1 779.7h0M335.3 762.3h0M344.0 797.6h0M344.9 806.5h0M340.4 770.5h0M339.7 781.4h0M340.0 782.3h0M344.9 803.6h0M338.5 807.8h0M343.3 791.7h0M336.7 774.6h0M340.1 771.4h0M345.9 805.0h0M345.9 814.1h0M346.0 783.2h0M345.2 788.9h0M344.3 772.6h0M340.9 800.3h0M345.0 817.7h0M344.7 795.7h0M336.9 799.5h0M337.0 771.2h0M339.2 792.7h0M336.0 807.4h0M337.0 821.7h0M342.2 821.0h0M346.2 787.2h0M337.9 785.3h0M337.6 799.1h0M340.7 770.6h0M338.3 783.0h0M346.0 807.3h0M337.7 764.5h0M344.9 787.2h0M339.1 797.2h0M341.3 780.8h0M340.7 798.0h0M339.4 812.9h0M339.9 807.0h0M346.7 808.2h0M343.9 781.1h0M336.1 796.2h0M345.8 805.8h0M346.4 792.1h0M338.7 815.7h0M335.6 794.9h0M337.3 770.8h0M337.2 780.5h0M338.3 786.8h0M346.7 808.2h0M339.7 806.0h0M343.4 768.3h0M335.4 813.4h0M343.9 795.2h0M343.4 794.0h0M335.1 790.3h0M341.0 797.2h0M340.1 818.3h0M338.8 781.5h0M338.5 806.7h0M342.8 822.6h0M336.5 798.2h0M345.4 779.9h0M338.1 803.0h0M342.3 792.6h0M340.0 781.8h0M341.4 775.1h0M343.6 773.0h0M342.2 814.8h0M339.8 793.0h0M341.9 769.0h0M343.8 781.7h0M343.6 764.9h0M340.0 802.3h0M341.0 790.1h0M337.7 802.7h0M343.3 818.7h0M344.9 772.7h0M345.4 786.9h0M346.4 829.2h0M343.6 804.6h0M344.0 806.2h0M338.2 780.9h0M338.4 794.3h0M339.5 775.1h0M338.0 845.0h0M341.0 838.0h0M343.0 832.0h0" stroke="#a462a4" stroke-opacity="0.9" stroke-width="1.6" stroke-linecap="round" fill="none"/>
<path d="M371.2 805.3h0M365.2 806.2h0M369.4 814.1h0M362.2 798.1h0M370.9 805.2h0M362.2 823.5h0M369.1 816.3h0M361.6 808.6h0M363.4 798.4h0M365.0 810.2h0M361.3 819.5h0M365.3 814.0h0M361.1 821.5h0M368.5 806.9h0M365.1 818.5h0M364.1 796.9h0M368.6 811.5h0M372.3 824.8h0M365.1 817.2h0M368.8 814.2h0M366.3 805.2h0M371.6 831.7h0M372.0 808.0h0M362.5 794.2h0M371.3 829.2h0M371.2 808.1h0M367.7 824.3h0M371.7 849.3h0M369.5 803.2h0M370.9 808.1h0M365.2 785.9h0M360.6 833.3h0M362.6 793.2h0M366.1 815.2h0M367.7 816.3h0M366.0 840.0h0M364.0 838.0h0M368.0 770.0h0" stroke="#ecca38" stroke-opacity="0.9" stroke-width="1.6" stroke-linecap="round" fill="none"/>
<line x1="266.9" y1="747.2" x2="266.9" y2="852.5" stroke="#333" stroke-width="0.9" />
<line x1="266.9" y1="852.5" x2="322.4" y2="852.5" stroke="#333" stroke-width="0.9" />
<line x1="325.5" y1="852.5" x2="381.7" y2="852.5" stroke="#333" stroke-width="0.9" />
<line x1="265.4" y1="748.8" x2="266.9" y2="748.8" stroke="#444" stroke-width="0.5" />
<text x="264.4" y="750.3" font-size="4.5" fill="#555" text-anchor="end" >4</text>
<line x1="265.4" y1="784.0" x2="266.9" y2="784.0" stroke="#444" stroke-width="0.5" />
<text x="264.4" y="785.5" font-size="4.5" fill="#555" text-anchor="end" >2</text>
<line x1="265.4" y1="818.7" x2="266.9" y2="818.7" stroke="#444" stroke-width="0.5" />
<text x="264.4" y="820.2" font-size="4.5" fill="#555" text-anchor="end" >0</text>
<text x="0.0" y="0.0" font-size="5.5" fill="#000" text-anchor="middle" font-weight="bold" transform="translate(257,797) rotate(-90)">FCRL6</text>
<text x="294.5" y="751.1" font-size="4.9" fill="#333" text-anchor="middle" >2.384626e-23</text>
<path d="M281.5,754.4 L281.5,752.4 L307.5,752.4 L307.5,754.4" fill="none" stroke="#777" stroke-width="0.5"/>
<text x="353.5" y="751.1" font-size="4.9" fill="#333" text-anchor="middle" >8.280602e-05</text>
<path d="M340.5,754.4 L340.5,752.4 L366.5,752.4 L366.5,754.4" fill="none" stroke="#777" stroke-width="0.5"/>
<line x1="281.9" y1="852.0" x2="281.9" y2="853.5" stroke="#444" stroke-width="0.5" />
<text x="281.9" y="858.3" font-size="5" fill="#777" text-anchor="middle" >CMV+</text>
<line x1="307.5" y1="852.0" x2="307.5" y2="853.5" stroke="#444" stroke-width="0.5" />
<text x="307.5" y="858.3" font-size="5" fill="#777" text-anchor="middle" >CMV-</text>
<line x1="340.8" y1="852.0" x2="340.8" y2="853.5" stroke="#444" stroke-width="0.5" />
<text x="340.8" y="858.3" font-size="5" fill="#777" text-anchor="middle" >CMV+</text>
<line x1="366.4" y1="852.0" x2="366.4" y2="853.5" stroke="#444" stroke-width="0.5" />
<text x="366.4" y="858.3" font-size="5" fill="#777" text-anchor="middle" >CMV-</text>
<text x="324.3" y="864.0" font-size="5.8" fill="#000" text-anchor="middle" font-weight="bold" >CMV_IgG_Serology</text>
<text x="390.5" y="751.9" font-size="16" fill="#000" text-anchor="start" >G</text>
<circle cx="399.4" cy="781.1" r="7.3" fill="#8b5586"/>
<path d="M387.0,808.3000000000001 L387.0,793.7 Q387.0,787.7 392.9,787.7 Q399.4,791.0 405.9,787.7 Q412.0,787.7 412.0,793.7 L412.0,801.3000000000001 Q412.0,801.9000000000001 411.4,801.9000000000001 L387.59999999999997,801.9000000000001 Q387.0,801.9000000000001 387.0,801.3000000000001 Z" fill="#8b5586"/>
<circle cx="399.4" cy="827.4" r="7.3" fill="#e0ab30"/>
<path d="M387.0,854.6 L387.0,840.0 Q387.0,834.0 392.9,834.0 Q399.4,837.3 405.9,834.0 Q412.0,834.0 412.0,840.0 L412.0,847.6 Q412.0,848.2 411.4,848.2 L387.59999999999997,848.2 Q387.0,848.2 387.0,847.6 Z" fill="#e0ab30"/>
<line x1="415.2" y1="761.6" x2="415.6" y2="759.0" stroke="#1f5d96" stroke-width="0.8" />
<circle cx="415.7" cy="758.7" r="1.1" fill="#1f5d96" />
<line x1="419.5" y1="765.2" x2="421.9" y2="764.3" stroke="#1f5d96" stroke-width="0.8" />
<circle cx="422.2" cy="764.2" r="1.1" fill="#1f5d96" />
<line x1="418.5" y1="770.7" x2="420.5" y2="772.4" stroke="#1f5d96" stroke-width="0.8" />
<circle cx="420.7" cy="772.6" r="1.1" fill="#1f5d96" />
<line x1="413.2" y1="772.6" x2="412.8" y2="775.2" stroke="#1f5d96" stroke-width="0.8" />
<circle cx="412.7" cy="775.5" r="1.1" fill="#1f5d96" />
<line x1="408.9" y1="769.0" x2="406.5" y2="769.9" stroke="#1f5d96" stroke-width="0.8" />
<circle cx="406.2" cy="770.0" r="1.1" fill="#1f5d96" />
<line x1="409.9" y1="763.5" x2="407.9" y2="761.8" stroke="#1f5d96" stroke-width="0.8" />
<circle cx="407.7" cy="761.6" r="1.1" fill="#1f5d96" />
<circle cx="414.2" cy="767.1" r="5.7" fill="#1f4f86" />
<circle cx="414.2" cy="767.1" r="4.9" fill="#ffffff" />
<circle cx="414.2" cy="767.1" r="4.3" fill="#3f94d4" />
<circle cx="414.2" cy="767.1" r="3.3" fill="#a8d4f0" />
<path d="M412.4,768.3000000000001 Q414.2,765.6 416.0,765.9" stroke="#fff" stroke-width="0.6" fill="none"/>
<text x="424.2" y="786.8" font-size="8.3" fill="#222" text-anchor="middle" >CMV+</text>
<text x="481.4" y="769.9" font-size="8.7" fill="#222" text-anchor="middle" textLength="44.9" lengthAdjust="spacingAndGlyphs" >Methylation</text>
<line x1="414.6" y1="793.4" x2="435.7" y2="793.4" stroke="#222" stroke-width="0.9" />
<path d="M438.7,793.4 L434.7,791.1999999999999 L434.7,795.6 Z" fill="#111"/>
<line x1="414.6" y1="839.5" x2="435.7" y2="839.5" stroke="#222" stroke-width="0.9" />
<path d="M438.7,839.5 L434.7,837.3 L434.7,841.7 Z" fill="#111"/>
<g stroke="#8cc6ea" stroke-width="0.6">
<line x1="444.5" y1="797.1" x2="444.5" y2="790.8"/>
<line x1="446.8" y1="795.2" x2="446.8" y2="790.9"/>
<line x1="449.1" y1="792.6" x2="449.1" y2="792.8"/>
<line x1="451.4" y1="790.8" x2="451.4" y2="795.4"/>
<line x1="453.7" y1="790.9" x2="453.7" y2="797.2"/>
<line x1="456.0" y1="792.8" x2="456.0" y2="797.1"/>
<line x1="458.3" y1="795.4" x2="458.3" y2="795.2"/>
<line x1="460.6" y1="797.2" x2="460.6" y2="792.6"/>
<line x1="462.9" y1="797.1" x2="462.9" y2="790.8"/>
<line x1="465.2" y1="795.2" x2="465.2" y2="790.9"/>
<line x1="467.5" y1="792.6" x2="467.5" y2="792.8"/>
<line x1="469.8" y1="790.8" x2="469.8" y2="795.4"/>
<line x1="472.1" y1="790.9" x2="472.1" y2="797.2"/>
<line x1="474.4" y1="792.8" x2="474.4" y2="797.1"/>
<line x1="476.7" y1="795.4" x2="476.7" y2="795.2"/>
<line x1="479.0" y1="797.2" x2="479.0" y2="792.6"/>
<line x1="481.3" y1="797.1" x2="481.3" y2="790.8"/>
<line x1="483.6" y1="795.2" x2="483.6" y2="790.9"/>
<line x1="485.9" y1="792.6" x2="485.9" y2="792.8"/>
<line x1="488.2" y1="790.8" x2="488.2" y2="795.4"/>
<line x1="490.5" y1="790.9" x2="490.5" y2="797.2"/>
<line x1="492.8" y1="792.8" x2="492.8" y2="797.1"/>
<line x1="495.1" y1="795.4" x2="495.1" y2="795.2"/>
<line x1="497.4" y1="797.2" x2="497.4" y2="792.6"/>
<line x1="499.7" y1="797.1" x2="499.7" y2="790.8"/>
<line x1="502.0" y1="795.2" x2="502.0" y2="790.9"/>
<line x1="504.3" y1="792.6" x2="504.3" y2="792.8"/>
<line x1="506.6" y1="790.8" x2="506.6" y2="795.4"/>
<line x1="508.9" y1="790.9" x2="508.9" y2="797.2"/>
<line x1="511.2" y1="792.8" x2="511.2" y2="797.1"/>
<line x1="513.5" y1="795.4" x2="513.5" y2="795.2"/>
<line x1="515.8" y1="797.2" x2="515.8" y2="792.6"/>
</g>
<path d="M443.3,791.6 L444.0,791.1 L444.7,790.8 L445.4,790.6 L446.1,790.6 L446.8,790.9 L447.5,791.3 L448.2,791.9 L448.9,792.5 L449.6,793.3 L450.3,794.1 L451.0,794.9 L451.7,795.7 L452.4,796.3 L453.1,796.8 L453.8,797.2 L454.5,797.4 L455.2,797.4 L455.9,797.2 L456.6,796.8 L457.3,796.2 L458.0,795.6 L458.7,794.8 L459.4,794.0 L460.1,793.2 L460.8,792.4 L461.5,791.8 L462.2,791.2 L462.9,790.8 L463.6,790.6 L464.3,790.6 L465.0,790.8 L465.7,791.2 L466.4,791.7 L467.1,792.3 L467.8,793.1 L468.5,793.9 L469.2,794.7 L469.9,795.5 L470.6,796.1 L471.3,796.7 L472.0,797.1 L472.7,797.4 L473.4,797.4 L474.1,797.2 L474.8,796.9 L475.5,796.4 L476.2,795.8 L476.9,795.0 L477.6,794.2 L478.3,793.4 L479.0,792.6 L479.7,791.9 L480.4,791.4 L481.1,790.9 L481.8,790.7 L482.5,790.6 L483.2,790.7 L483.9,791.0 L484.6,791.5 L485.3,792.1 L486.0,792.9 L486.7,793.7 L487.4,794.5 L488.1,795.2 L488.8,796.0 L489.5,796.6 L490.2,797.0 L490.9,797.3 L491.6,797.4 L492.3,797.3 L493.0,797.0 L493.7,796.6 L494.4,796.0 L495.1,795.2 L495.8,794.5 L496.5,793.7 L497.2,792.9 L497.9,792.1 L498.6,791.5 L499.3,791.0 L500.0,790.7 L500.7,790.6 L501.4,790.7 L502.1,790.9 L502.8,791.4 L503.5,791.9 L504.2,792.6 L504.9,793.4 L505.6,794.2 L506.3,795.0 L507.0,795.8 L507.7,796.4 L508.4,796.9 L509.1,797.2 L509.8,797.4 L510.5,797.4 L511.2,797.1 L511.9,796.7 L512.6,796.1 L513.3,795.5 L514.0,794.7 L514.7,793.9 L515.4,793.1" fill="none" stroke="#2f7fc1" stroke-width="1.4"/>
<path d="M443.3,797.4 L444.0,797.3 L444.7,797.0 L445.4,796.6 L446.1,796.0 L446.8,795.2 L447.5,794.5 L448.2,793.7 L448.9,792.9 L449.6,792.1 L450.3,791.5 L451.0,791.0 L451.7,790.7 L452.4,790.6 L453.1,790.7 L453.8,790.9 L454.5,791.4 L455.2,791.9 L455.9,792.6 L456.6,793.4 L457.3,794.2 L458.0,795.0 L458.7,795.8 L459.4,796.4 L460.1,796.9 L460.8,797.2 L461.5,797.4 L462.2,797.4 L462.9,797.1 L463.6,796.7 L464.3,796.1 L465.0,795.5 L465.7,794.7 L466.4,793.9 L467.1,793.1 L467.8,792.3 L468.5,791.7 L469.2,791.2 L469.9,790.8 L470.6,790.6 L471.3,790.6 L472.0,790.8 L472.7,791.2 L473.4,791.8 L474.1,792.4 L474.8,793.2 L475.5,794.0 L476.2,794.8 L476.9,795.6 L477.6,796.2 L478.3,796.8 L479.0,797.2 L479.7,797.4 L480.4,797.4 L481.1,797.2 L481.8,796.8 L482.5,796.3 L483.2,795.7 L483.9,794.9 L484.6,794.1 L485.3,793.3 L486.0,792.5 L486.7,791.9 L487.4,791.3 L488.1,790.9 L488.8,790.6 L489.5,790.6 L490.2,790.8 L490.9,791.1 L491.6,791.6 L492.3,792.2 L493.0,793.0 L493.7,793.8 L494.4,794.6 L495.1,795.4 L495.8,796.1 L496.5,796.6 L497.2,797.1 L497.9,797.3 L498.6,797.4 L499.3,797.3 L500.0,797.0 L500.7,796.5 L501.4,795.9 L502.1,795.1 L502.8,794.3 L503.5,793.5 L504.2,792.8 L504.9,792.0 L505.6,791.4 L506.3,791.0 L507.0,790.7 L507.7,790.6 L508.4,790.7 L509.1,791.0 L509.8,791.4 L510.5,792.0 L511.2,792.8 L511.9,793.5 L512.6,794.3 L513.3,795.1 L514.0,795.9 L514.7,796.5 L515.4,797.0" fill="none" stroke="#1d2f86" stroke-width="1.4"/>
<g stroke="#8cc6ea" stroke-width="0.6">
<line x1="444.5" y1="843.1" x2="444.5" y2="836.8"/>
<line x1="446.8" y1="841.2" x2="446.8" y2="836.9"/>
<line x1="449.1" y1="838.6" x2="449.1" y2="838.8"/>
<line x1="451.4" y1="836.8" x2="451.4" y2="841.4"/>
<line x1="453.7" y1="836.9" x2="453.7" y2="843.2"/>
<line x1="456.0" y1="838.8" x2="456.0" y2="843.1"/>
<line x1="458.3" y1="841.4" x2="458.3" y2="841.2"/>
<line x1="460.6" y1="843.2" x2="460.6" y2="838.6"/>
<line x1="462.9" y1="843.1" x2="462.9" y2="836.8"/>
<line x1="465.2" y1="841.2" x2="465.2" y2="836.9"/>
<line x1="467.5" y1="838.6" x2="467.5" y2="838.8"/>
<line x1="469.8" y1="836.8" x2="469.8" y2="841.4"/>
<line x1="472.1" y1="836.9" x2="472.1" y2="843.2"/>
<line x1="474.4" y1="838.8" x2="474.4" y2="843.1"/>
<line x1="476.7" y1="841.4" x2="476.7" y2="841.2"/>
<line x1="479.0" y1="843.2" x2="479.0" y2="838.6"/>
<line x1="481.3" y1="843.1" x2="481.3" y2="836.8"/>
<line x1="483.6" y1="841.2" x2="483.6" y2="836.9"/>
<line x1="485.9" y1="838.6" x2="485.9" y2="838.8"/>
<line x1="488.2" y1="836.8" x2="488.2" y2="841.4"/>
<line x1="490.5" y1="836.9" x2="490.5" y2="843.2"/>
<line x1="492.8" y1="838.8" x2="492.8" y2="843.1"/>
<line x1="495.1" y1="841.4" x2="495.1" y2="841.2"/>
<line x1="497.4" y1="843.2" x2="497.4" y2="838.6"/>
<line x1="499.7" y1="843.1" x2="499.7" y2="836.8"/>
<line x1="502.0" y1="841.2" x2="502.0" y2="836.9"/>
<line x1="504.3" y1="838.6" x2="504.3" y2="838.8"/>
<line x1="506.6" y1="836.8" x2="506.6" y2="841.4"/>
<line x1="508.9" y1="836.9" x2="508.9" y2="843.2"/>
<line x1="511.2" y1="838.8" x2="511.2" y2="843.1"/>
<line x1="513.5" y1="841.4" x2="513.5" y2="841.2"/>
<line x1="515.8" y1="843.2" x2="515.8" y2="838.6"/>
</g>
<path d="M443.3,837.6 L444.0,837.1 L444.7,836.8 L445.4,836.6 L446.1,836.6 L446.8,836.9 L447.5,837.3 L448.2,837.9 L448.9,838.5 L449.6,839.3 L450.3,840.1 L451.0,840.9 L451.7,841.7 L452.4,842.3 L453.1,842.8 L453.8,843.2 L454.5,843.4 L455.2,843.4 L455.9,843.2 L456.6,842.8 L457.3,842.2 L458.0,841.6 L458.7,840.8 L459.4,840.0 L460.1,839.2 L460.8,838.4 L461.5,837.8 L462.2,837.2 L462.9,836.8 L463.6,836.6 L464.3,836.6 L465.0,836.8 L465.7,837.2 L466.4,837.7 L467.1,838.3 L467.8,839.1 L468.5,839.9 L469.2,840.7 L469.9,841.5 L470.6,842.1 L471.3,842.7 L472.0,843.1 L472.7,843.4 L473.4,843.4 L474.1,843.2 L474.8,842.9 L475.5,842.4 L476.2,841.8 L476.9,841.0 L477.6,840.2 L478.3,839.4 L479.0,838.6 L479.7,837.9 L480.4,837.4 L481.1,836.9 L481.8,836.7 L482.5,836.6 L483.2,836.7 L483.9,837.0 L484.6,837.5 L485.3,838.1 L486.0,838.9 L486.7,839.7 L487.4,840.5 L488.1,841.2 L488.8,842.0 L489.5,842.6 L490.2,843.0 L490.9,843.3 L491.6,843.4 L492.3,843.3 L493.0,843.0 L493.7,842.6 L494.4,842.0 L495.1,841.2 L495.8,840.5 L496.5,839.7 L497.2,838.9 L497.9,838.1 L498.6,837.5 L499.3,837.0 L500.0,836.7 L500.7,836.6 L501.4,836.7 L502.1,836.9 L502.8,837.4 L503.5,837.9 L504.2,838.6 L504.9,839.4 L505.6,840.2 L506.3,841.0 L507.0,841.8 L507.7,842.4 L508.4,842.9 L509.1,843.2 L509.8,843.4 L510.5,843.4 L511.2,843.1 L511.9,842.7 L512.6,842.1 L513.3,841.5 L514.0,840.7 L514.7,839.9 L515.4,839.1" fill="none" stroke="#2f7fc1" stroke-width="1.4"/>
<path d="M443.3,843.4 L444.0,843.3 L444.7,843.0 L445.4,842.6 L446.1,842.0 L446.8,841.2 L447.5,840.5 L448.2,839.7 L448.9,838.9 L449.6,838.1 L450.3,837.5 L451.0,837.0 L451.7,836.7 L452.4,836.6 L453.1,836.7 L453.8,836.9 L454.5,837.4 L455.2,837.9 L455.9,838.6 L456.6,839.4 L457.3,840.2 L458.0,841.0 L458.7,841.8 L459.4,842.4 L460.1,842.9 L460.8,843.2 L461.5,843.4 L462.2,843.4 L462.9,843.1 L463.6,842.7 L464.3,842.1 L465.0,841.5 L465.7,840.7 L466.4,839.9 L467.1,839.1 L467.8,838.3 L468.5,837.7 L469.2,837.2 L469.9,836.8 L470.6,836.6 L471.3,836.6 L472.0,836.8 L472.7,837.2 L473.4,837.8 L474.1,838.4 L474.8,839.2 L475.5,840.0 L476.2,840.8 L476.9,841.6 L477.6,842.2 L478.3,842.8 L479.0,843.2 L479.7,843.4 L480.4,843.4 L481.1,843.2 L481.8,842.8 L482.5,842.3 L483.2,841.7 L483.9,840.9 L484.6,840.1 L485.3,839.3 L486.0,838.5 L486.7,837.9 L487.4,837.3 L488.1,836.9 L488.8,836.6 L489.5,836.6 L490.2,836.8 L490.9,837.1 L491.6,837.6 L492.3,838.2 L493.0,839.0 L493.7,839.8 L494.4,840.6 L495.1,841.4 L495.8,842.1 L496.5,842.6 L497.2,843.1 L497.9,843.3 L498.6,843.4 L499.3,843.3 L500.0,843.0 L500.7,842.5 L501.4,841.9 L502.1,841.1 L502.8,840.3 L503.5,839.5 L504.2,838.8 L504.9,838.0 L505.6,837.4 L506.3,837.0 L507.0,836.7 L507.7,836.6 L508.4,836.7 L509.1,837.0 L509.8,837.4 L510.5,838.0 L511.2,838.8 L511.9,839.5 L512.6,840.3 L513.3,841.1 L514.0,841.9 L514.7,842.5 L515.4,843.0" fill="none" stroke="#1d2f86" stroke-width="1.4"/>
<line x1="452.2" y1="786.5" x2="452.2" y2="791.0" stroke="#555" stroke-width="0.6" />
<circle cx="452.2" cy="783.5" r="3.2" fill="#d8783a" />
<text x="452.2" y="784.4" font-size="2.4" fill="#fff" text-anchor="middle" >Me</text>
<line x1="446.9" y1="833.3" x2="446.9" y2="837.0" stroke="#555" stroke-width="0.6" />
<circle cx="446.9" cy="830.3" r="3.2" fill="#d8783a" />
<text x="446.9" y="831.2" font-size="2.4" fill="#fff" text-anchor="middle" >Me</text>
<line x1="457.9" y1="833.3" x2="457.9" y2="837.0" stroke="#555" stroke-width="0.6" />
<circle cx="457.9" cy="830.3" r="3.2" fill="#d8783a" />
<text x="457.9" y="831.2" font-size="2.4" fill="#fff" text-anchor="middle" >Me</text>
<line x1="468.8" y1="833.3" x2="468.8" y2="837.0" stroke="#555" stroke-width="0.6" />
<circle cx="468.8" cy="830.3" r="3.2" fill="#d8783a" />
<text x="468.8" y="831.2" font-size="2.4" fill="#fff" text-anchor="middle" >Me</text>
<path d="M473.5,792 L473.5,783.5 L489,783.5" fill="none" stroke="#333" stroke-width="0.8"/>
<path d="M492,783.5 L488.5,781.7 L488.5,785.3 Z" fill="#333"/>
<path d="M473.5,838 L473.5,829.2 L489,829.2" fill="none" stroke="#333" stroke-width="0.8"/>
<path d="M492,829.2 L488.5,827.4000000000001 L488.5,831.0 Z" fill="#333"/>
<text x="495.4" y="786.4" font-size="8.2" fill="#c0607a" text-anchor="start" textLength="25" lengthAdjust="spacingAndGlyphs" >FCRL6</text>
<text x="495.4" y="832.2" font-size="8.2" fill="#c0607a" text-anchor="start" textLength="25" lengthAdjust="spacingAndGlyphs" >FCRL6</text>
<line x1="524.8" y1="793.1" x2="541.1" y2="793.1" stroke="#888" stroke-width="0.9" />
<path d="M544.1,793.1 L540.1,790.9 L540.1,795.3000000000001 Z" fill="#222"/>
<line x1="524.8" y1="839.0" x2="541.1" y2="839.0" stroke="#888" stroke-width="0.9" />
<path d="M544.1,839 L540.1,836.8 L540.1,841.2 Z" fill="#222"/>
<line x1="608.4" y1="793.4" x2="624.8" y2="793.4" stroke="#444" stroke-width="0.9" />
<path d="M627.8,793.4 L623.8,791.1999999999999 L623.8,795.6 Z" fill="#111"/>
<line x1="608.4" y1="840.3" x2="624.8" y2="840.3" stroke="#444" stroke-width="0.9" />
<path d="M627.8,840.3 L623.8,838.0999999999999 L623.8,842.5 Z" fill="#111"/>
<text x="575.9" y="766.1" font-size="8.3" fill="#222" text-anchor="middle" >Gene</text>
<text x="575.9" y="775.8" font-size="8.3" fill="#222" text-anchor="middle" textLength="42" lengthAdjust="spacingAndGlyphs" >expression</text>
<text x="658.5" y="766.6" font-size="8.3" fill="#222" text-anchor="middle" >Protein</text>
<text x="658.5" y="776.0" font-size="8.3" fill="#222" text-anchor="middle" textLength="43" lengthAdjust="spacingAndGlyphs" >abundance</text>
<path d="M553.7,790.1 L554.5,789.8 L555.3,789.6 L556.1,789.4 L556.9,789.2 L557.7,789.1 L558.5,789.0 L559.3,788.9 L560.1,788.8 L560.9,788.8 L561.7,788.8 L562.5,788.9 L563.3,788.9 L564.1,789.1 L564.9,789.2 L565.7,789.4 L566.5,789.6 L567.3,789.8 L568.1,790.0 L568.9,790.3 L569.7,790.5 L570.5,790.8 L571.3,791.0 L572.1,791.3 L572.9,791.5 L573.7,791.7 L574.5,791.9 L575.3,792.0 L576.1,792.2 L576.9,792.3 L577.7,792.4 L578.5,792.4 L579.3,792.4 L580.1,792.4 L580.9,792.3 L581.7,792.2 L582.5,792.1 L583.3,791.9 L584.1,791.7 L584.9,791.5 L585.7,791.3 L586.5,791.1 L587.3,790.8 L588.1,790.6 L588.9,790.3" fill="none" stroke="#b5566e" stroke-width="0.9"/>
<g stroke="#b5566e" stroke-width="0.5">
<line x1="554.2" y1="789.9" x2="554.2" y2="787.9"/>
<line x1="555.9" y1="789.5" x2="555.9" y2="787.5"/>
<line x1="557.6" y1="789.1" x2="557.6" y2="787.1"/>
<line x1="559.3" y1="788.9" x2="559.3" y2="786.9"/>
<line x1="561.0" y1="788.8" x2="561.0" y2="786.8"/>
<line x1="562.7" y1="788.9" x2="562.7" y2="786.9"/>
<line x1="564.4" y1="789.1" x2="564.4" y2="787.1"/>
<line x1="566.1" y1="789.5" x2="566.1" y2="787.5"/>
<line x1="567.8" y1="789.9" x2="567.8" y2="787.9"/>
<line x1="569.5" y1="790.4" x2="569.5" y2="788.4"/>
<line x1="571.2" y1="791.0" x2="571.2" y2="789.0"/>
<line x1="572.9" y1="791.5" x2="572.9" y2="789.5"/>
<line x1="574.6" y1="791.9" x2="574.6" y2="789.9"/>
<line x1="576.3" y1="792.2" x2="576.3" y2="790.2"/>
<line x1="578.0" y1="792.4" x2="578.0" y2="790.4"/>
<line x1="579.7" y1="792.4" x2="579.7" y2="790.4"/>
<line x1="581.4" y1="792.2" x2="581.4" y2="790.2"/>
<line x1="583.1" y1="792.0" x2="583.1" y2="790.0"/>
<line x1="584.8" y1="791.5" x2="584.8" y2="789.5"/>
<line x1="586.5" y1="791.1" x2="586.5" y2="789.1"/>
<line x1="588.2" y1="790.5" x2="588.2" y2="788.5"/>
</g>
<path d="M553.7,796.3 L554.5,796.0 L555.3,795.8 L556.1,795.6 L556.9,795.4 L557.7,795.3 L558.5,795.2 L559.3,795.1 L560.1,795.0 L560.9,795.0 L561.7,795.0 L562.5,795.1 L563.3,795.1 L564.1,795.3 L564.9,795.4 L565.7,795.6 L566.5,795.8 L567.3,796.0 L568.1,796.2 L568.9,796.5 L569.7,796.7 L570.5,797.0 L571.3,797.2 L572.1,797.5 L572.9,797.7 L573.7,797.9 L574.5,798.1 L575.3,798.2 L576.1,798.4 L576.9,798.5 L577.7,798.6 L578.5,798.6 L579.3,798.6 L580.1,798.6 L580.9,798.5 L581.7,798.4 L582.5,798.3 L583.3,798.1 L584.1,797.9 L584.9,797.7 L585.7,797.5 L586.5,797.3 L587.3,797.0 L588.1,796.8 L588.9,796.5" fill="none" stroke="#b5566e" stroke-width="0.9"/>
<g stroke="#b5566e" stroke-width="0.5">
<line x1="554.2" y1="796.1" x2="554.2" y2="794.1"/>
<line x1="555.9" y1="795.7" x2="555.9" y2="793.7"/>
<line x1="557.6" y1="795.3" x2="557.6" y2="793.3"/>
<line x1="559.3" y1="795.1" x2="559.3" y2="793.1"/>
<line x1="561.0" y1="795.0" x2="561.0" y2="793.0"/>
<line x1="562.7" y1="795.1" x2="562.7" y2="793.1"/>
<line x1="564.4" y1="795.3" x2="564.4" y2="793.3"/>
<line x1="566.1" y1="795.7" x2="566.1" y2="793.7"/>
<line x1="567.8" y1="796.1" x2="567.8" y2="794.1"/>
<line x1="569.5" y1="796.6" x2="569.5" y2="794.6"/>
<line x1="571.2" y1="797.2" x2="571.2" y2="795.2"/>
<line x1="572.9" y1="797.7" x2="572.9" y2="795.7"/>
<line x1="574.6" y1="798.1" x2="574.6" y2="796.1"/>
<line x1="576.3" y1="798.4" x2="576.3" y2="796.4"/>
<line x1="578.0" y1="798.6" x2="578.0" y2="796.6"/>
<line x1="579.7" y1="798.6" x2="579.7" y2="796.6"/>
<line x1="581.4" y1="798.4" x2="581.4" y2="796.4"/>
<line x1="583.1" y1="798.2" x2="583.1" y2="796.2"/>
<line x1="584.8" y1="797.7" x2="584.8" y2="795.7"/>
<line x1="586.5" y1="797.3" x2="586.5" y2="795.3"/>
<line x1="588.2" y1="796.7" x2="588.2" y2="794.7"/>
</g>
<path d="M553.7,802.5 L554.5,802.2 L555.3,802.0 L556.1,801.8 L556.9,801.6 L557.7,801.5 L558.5,801.4 L559.3,801.3 L560.1,801.2 L560.9,801.2 L561.7,801.2 L562.5,801.3 L563.3,801.3 L564.1,801.5 L564.9,801.6 L565.7,801.8 L566.5,802.0 L567.3,802.2 L568.1,802.4 L568.9,802.7 L569.7,802.9 L570.5,803.2 L571.3,803.4 L572.1,803.7 L572.9,803.9 L573.7,804.1 L574.5,804.3 L575.3,804.4 L576.1,804.6 L576.9,804.7 L577.7,804.8 L578.5,804.8 L579.3,804.8 L580.1,804.8 L580.9,804.7 L581.7,804.6 L582.5,804.5 L583.3,804.3 L584.1,804.1 L584.9,803.9 L585.7,803.7 L586.5,803.5 L587.3,803.2 L588.1,803.0 L588.9,802.7" fill="none" stroke="#b5566e" stroke-width="0.9"/>
<g stroke="#b5566e" stroke-width="0.5">
<line x1="554.2" y1="802.3" x2="554.2" y2="800.3"/>
<line x1="555.9" y1="801.9" x2="555.9" y2="799.9"/>
<line x1="557.6" y1="801.5" x2="557.6" y2="799.5"/>
<line x1="559.3" y1="801.3" x2="559.3" y2="799.3"/>
<line x1="561.0" y1="801.2" x2="561.0" y2="799.2"/>
<line x1="562.7" y1="801.3" x2="562.7" y2="799.3"/>
<line x1="564.4" y1="801.5" x2="564.4" y2="799.5"/>
<line x1="566.1" y1="801.9" x2="566.1" y2="799.9"/>
<line x1="567.8" y1="802.3" x2="567.8" y2="800.3"/>
<line x1="569.5" y1="802.8" x2="569.5" y2="800.8"/>
<line x1="571.2" y1="803.4" x2="571.2" y2="801.4"/>
<line x1="572.9" y1="803.9" x2="572.9" y2="801.9"/>
<line x1="574.6" y1="804.3" x2="574.6" y2="802.3"/>
<line x1="576.3" y1="804.6" x2="576.3" y2="802.6"/>
<line x1="578.0" y1="804.8" x2="578.0" y2="802.8"/>
<line x1="579.7" y1="804.8" x2="579.7" y2="802.8"/>
<line x1="581.4" y1="804.6" x2="581.4" y2="802.6"/>
<line x1="583.1" y1="804.4" x2="583.1" y2="802.4"/>
<line x1="584.8" y1="803.9" x2="584.8" y2="801.9"/>
<line x1="586.5" y1="803.5" x2="586.5" y2="801.5"/>
<line x1="588.2" y1="802.9" x2="588.2" y2="800.9"/>
</g>
<path d="M555.0,838.5 L555.8,838.2 L556.6,838.0 L557.4,837.8 L558.2,837.6 L559.0,837.5 L559.8,837.4 L560.6,837.3 L561.4,837.2 L562.2,837.2 L563.0,837.2 L563.8,837.3 L564.6,837.3 L565.4,837.5 L566.2,837.6 L567.0,837.8 L567.8,838.0 L568.6,838.2 L569.4,838.4 L570.2,838.7 L571.0,838.9 L571.8,839.2 L572.6,839.4 L573.4,839.7 L574.2,839.9 L575.0,840.1 L575.8,840.3 L576.6,840.4 L577.4,840.6 L578.2,840.7 L579.0,840.8 L579.8,840.8 L580.6,840.8 L581.4,840.8 L582.2,840.7 L583.0,840.6 L583.8,840.5 L584.6,840.3 L585.4,840.1 L586.2,839.9 L587.0,839.7 L587.8,839.5 L588.6,839.2 L589.4,839.0 L590.2,838.7 L591.0,838.5" fill="none" stroke="#b5566e" stroke-width="0.9"/>
<g stroke="#b5566e" stroke-width="0.5">
<line x1="555.5" y1="838.3" x2="555.5" y2="836.3"/>
<line x1="557.2" y1="837.9" x2="557.2" y2="835.9"/>
<line x1="558.9" y1="837.5" x2="558.9" y2="835.5"/>
<line x1="560.6" y1="837.3" x2="560.6" y2="835.3"/>
<line x1="562.3" y1="837.2" x2="562.3" y2="835.2"/>
<line x1="564.0" y1="837.3" x2="564.0" y2="835.3"/>
<line x1="565.7" y1="837.5" x2="565.7" y2="835.5"/>
<line x1="567.4" y1="837.9" x2="567.4" y2="835.9"/>
<line x1="569.1" y1="838.3" x2="569.1" y2="836.3"/>
<line x1="570.8" y1="838.8" x2="570.8" y2="836.8"/>
<line x1="572.5" y1="839.4" x2="572.5" y2="837.4"/>
<line x1="574.2" y1="839.9" x2="574.2" y2="837.9"/>
<line x1="575.9" y1="840.3" x2="575.9" y2="838.3"/>
<line x1="577.6" y1="840.6" x2="577.6" y2="838.6"/>
<line x1="579.3" y1="840.8" x2="579.3" y2="838.8"/>
<line x1="581.0" y1="840.8" x2="581.0" y2="838.8"/>
<line x1="582.7" y1="840.6" x2="582.7" y2="838.6"/>
<line x1="584.4" y1="840.4" x2="584.4" y2="838.4"/>
<line x1="586.1" y1="839.9" x2="586.1" y2="837.9"/>
<line x1="587.8" y1="839.5" x2="587.8" y2="837.5"/>
<line x1="589.5" y1="838.9" x2="589.5" y2="836.9"/>
</g>
<line x1="596.1" y1="802.1" x2="596.1" y2="791.3" stroke="#b85a72" stroke-width="1.3" />
<path d="M596.1,787.3 L593.1,792.3 L599.1,792.3 Z" fill="#b85a72"/>
<g fill="#d495a4"><circle cx="643.4" cy="788.5" r="3.9"/><circle cx="648.6" cy="788.9" r="3.9"/><circle cx="646.0" cy="785.5" r="3.4"/><circle cx="647.5" cy="791.3" r="2.6"/><circle cx="645.7" cy="783.5" r="1.6"/></g>
<g fill="#d495a4"><circle cx="660.9" cy="788.5" r="3.9"/><circle cx="666.1" cy="788.9" r="3.9"/><circle cx="663.5" cy="785.5" r="3.4"/><circle cx="665.0" cy="791.3" r="2.6"/><circle cx="663.2" cy="783.5" r="1.6"/></g>
<g fill="#d495a4"><circle cx="636.0" cy="798.1" r="3.9"/><circle cx="641.2" cy="798.5" r="3.9"/><circle cx="638.6" cy="795.1" r="3.4"/><circle cx="640.1" cy="800.9" r="2.6"/><circle cx="638.3" cy="793.1" r="1.6"/></g>
<g fill="#d495a4"><circle cx="651.7" cy="798.1" r="3.9"/><circle cx="656.9" cy="798.5" r="3.9"/><circle cx="654.3" cy="795.1" r="3.4"/><circle cx="655.8" cy="800.9" r="2.6"/><circle cx="654.0" cy="793.1" r="1.6"/></g>
<g fill="#d495a4"><circle cx="666.6" cy="798.8" r="3.9"/><circle cx="671.8" cy="799.2" r="3.9"/><circle cx="669.2" cy="795.8" r="3.4"/><circle cx="670.7" cy="801.6" r="2.6"/><circle cx="668.9" cy="793.8" r="1.6"/></g>
<g fill="#d495a4"><circle cx="646.0" cy="808.2" r="3.9"/><circle cx="651.2" cy="808.6" r="3.9"/><circle cx="648.6" cy="805.2" r="3.4"/><circle cx="650.1" cy="811.0" r="2.6"/><circle cx="648.3" cy="803.2" r="1.6"/></g>
<g fill="#d495a4"><circle cx="661.4" cy="808.0" r="3.9"/><circle cx="666.6" cy="808.4" r="3.9"/><circle cx="664.0" cy="805.0" r="3.4"/><circle cx="665.5" cy="810.8" r="2.6"/><circle cx="663.7" cy="803.0" r="1.6"/></g>
<g fill="#d495a4"><circle cx="640.2" cy="840.4" r="3.9"/><circle cx="645.4" cy="840.8" r="3.9"/><circle cx="642.8" cy="837.4" r="3.4"/><circle cx="644.3" cy="843.2" r="2.6"/><circle cx="642.5" cy="835.4" r="1.6"/></g>
<g fill="#d495a4"><circle cx="651.8" cy="833.2" r="3.9"/><circle cx="657.0" cy="833.6" r="3.9"/><circle cx="654.4" cy="830.2" r="3.4"/><circle cx="655.9" cy="836.0" r="2.6"/><circle cx="654.1" cy="828.2" r="1.6"/></g>
<g fill="#d495a4"><circle cx="663.1" cy="840.4" r="3.9"/><circle cx="668.3" cy="840.8" r="3.9"/><circle cx="665.7" cy="837.4" r="3.4"/><circle cx="667.2" cy="843.2" r="2.6"/><circle cx="665.4" cy="835.4" r="1.6"/></g>
<line x1="678.6" y1="802.6" x2="678.6" y2="792.6" stroke="#b85a72" stroke-width="1.3" />
<path d="M678.6,788.6 L675.6,793.6 L681.6,793.6 Z" fill="#b85a72"/>
</svg>
</body></html>
